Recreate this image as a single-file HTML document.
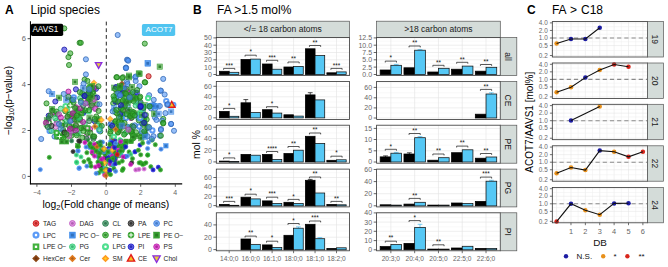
<!DOCTYPE html>
<html><head><meta charset="utf-8"><style>
html,body{margin:0;padding:0;background:#fff;}
svg{display:block;font-family:"Liberation Sans", sans-serif;}
</style></head><body>
<svg width="668" height="267" viewBox="0 0 668 267">
<rect width="668" height="267" fill="#fff"/>
<text x="5" y="13.8" font-size="12" text-anchor="start" fill="#000" font-weight="bold">A</text>
<text x="30.5" y="13.8" font-size="12" text-anchor="start" fill="#000" font-weight="normal">Lipid species</text>
<line x1="106.3" y1="21.6" x2="106.3" y2="184.1" stroke="#1a1a1a" stroke-width="0.95" stroke-dasharray="3.8 2.9"/>
<g>
<circle cx="72.05" cy="116.47" r="2.55" fill="#d66ad8" fill-opacity="0.58" stroke="#a04fa2" stroke-opacity="0.8" stroke-width="1.0"/>
<circle cx="72.87" cy="113.45" r="2.55" fill="#3ddc84" fill-opacity="0.58" stroke="#2da563" stroke-opacity="0.8" stroke-width="1.0"/>
<circle cx="55.45" cy="113.69" r="2.55" fill="#3ddc84" fill-opacity="0.58" stroke="#2da563" stroke-opacity="0.8" stroke-width="1.0"/>
<circle cx="93.16" cy="89.46" r="2.55" fill="#2ea828" fill-opacity="0.58" stroke="#227e1e" stroke-opacity="0.8" stroke-width="1.0"/>
<circle cx="49.62" cy="130.96" r="2.15" fill="#fff" fill-opacity="0.7" stroke="#4a90f5" stroke-opacity="0.9" stroke-width="2"/>
<circle cx="82.16" cy="93.13" r="2.55" fill="#2ea828" fill-opacity="0.58" stroke="#227e1e" stroke-opacity="0.8" stroke-width="1.0"/>
<circle cx="71.31" cy="132.86" r="2.55" fill="#2e8b57" fill-opacity="0.58" stroke="#226841" stroke-opacity="0.8" stroke-width="1.0"/>
<circle cx="83.7" cy="112.99" r="2.55" fill="#4a90f5" fill-opacity="0.58" stroke="#376cb7" stroke-opacity="0.8" stroke-width="1.0"/>
<rect x="70.35" y="98.13" width="4" height="4" fill="#fff" fill-opacity="0.7" stroke="#2ea828" stroke-opacity="0.9" stroke-width="1.9"/>
<circle cx="87.88" cy="102.29" r="2.55" fill="#2ea828" fill-opacity="0.58" stroke="#227e1e" stroke-opacity="0.8" stroke-width="1.0"/>
<circle cx="91.51" cy="107.22" r="2.55" fill="#d41fc0" fill-opacity="0.58" stroke="#9f1790" stroke-opacity="0.8" stroke-width="1.0"/>
<circle cx="57" cy="136.8" r="2.55" fill="#2e8b57" fill-opacity="0.58" stroke="#226841" stroke-opacity="0.8" stroke-width="1.0"/>
<circle cx="48.53" cy="120.51" r="2.55" fill="#d41fc0" fill-opacity="0.58" stroke="#9f1790" stroke-opacity="0.8" stroke-width="1.0"/>
<circle cx="91" cy="90.84" r="2.55" fill="#2ea828" fill-opacity="0.58" stroke="#227e1e" stroke-opacity="0.8" stroke-width="1.0"/>
<circle cx="93.42" cy="94.31" r="2.7" fill="#2ea828" fill-opacity="0.72" stroke="#248620" stroke-opacity="0.8" stroke-width="0.6"/><path d="M91.32 94.31h4.2M93.42 92.21v4.2" stroke="#fff" stroke-width="0.9"/>
<circle cx="89.38" cy="91.6" r="2.55" fill="#4a90f5" fill-opacity="0.58" stroke="#376cb7" stroke-opacity="0.8" stroke-width="1.0"/>
<circle cx="62.86" cy="135.32" r="2.55" fill="#2ea828" fill-opacity="0.58" stroke="#227e1e" stroke-opacity="0.8" stroke-width="1.0"/>
<circle cx="68.45" cy="133.55" r="2.55" fill="#4a90f5" fill-opacity="0.58" stroke="#376cb7" stroke-opacity="0.8" stroke-width="1.0"/>
<circle cx="91.91" cy="103.08" r="2.55" fill="#2ea828" fill-opacity="0.58" stroke="#227e1e" stroke-opacity="0.8" stroke-width="1.0"/>
<circle cx="80.13" cy="98.09" r="2.55" fill="#3ddc84" fill-opacity="0.58" stroke="#2da563" stroke-opacity="0.8" stroke-width="1.0"/>
<circle cx="67.05" cy="110.29" r="2.15" fill="#fff" fill-opacity="0.7" stroke="#3ddc84" stroke-opacity="0.9" stroke-width="2"/>
<circle cx="73.99" cy="117.33" r="2.55" fill="#d41fc0" fill-opacity="0.58" stroke="#9f1790" stroke-opacity="0.8" stroke-width="1.0"/>
<circle cx="100.32" cy="131.43" r="2.55" fill="#2ea828" fill-opacity="0.58" stroke="#227e1e" stroke-opacity="0.8" stroke-width="1.0"/>
<circle cx="55.77" cy="126.89" r="2.55" fill="#d66ad8" fill-opacity="0.58" stroke="#a04fa2" stroke-opacity="0.8" stroke-width="1.0"/>
<rect x="95.95" y="116.25" width="5.5" height="5.5" fill="#2e9a28" fill-opacity="0.6" stroke="#2e9a28" stroke-opacity="0.8" stroke-width="0.5"/><rect x="97.4" y="117.7" width="2.6" height="2.6" fill="#23781f" fill-opacity="0.85"/>
<circle cx="87.68" cy="98.9" r="2.55" fill="#d41fc0" fill-opacity="0.58" stroke="#9f1790" stroke-opacity="0.8" stroke-width="1.0"/>
<circle cx="80.98" cy="101.02" r="2.55" fill="#2ea828" fill-opacity="0.58" stroke="#227e1e" stroke-opacity="0.8" stroke-width="1.0"/>
<circle cx="88.66" cy="87.99" r="2.55" fill="#2ea828" fill-opacity="0.58" stroke="#227e1e" stroke-opacity="0.8" stroke-width="1.0"/>
<circle cx="78.68" cy="133.44" r="2.55" fill="#3ddc84" fill-opacity="0.58" stroke="#2da563" stroke-opacity="0.8" stroke-width="1.0"/>
<circle cx="61.37" cy="137.21" r="2.55" fill="#2ea828" fill-opacity="0.58" stroke="#227e1e" stroke-opacity="0.8" stroke-width="1.0"/>
<rect x="64.45" y="133.67" width="4" height="4" fill="#fff" fill-opacity="0.7" stroke="#2ea828" stroke-opacity="0.9" stroke-width="1.9"/>
<circle cx="84.73" cy="124.09" r="2.55" fill="#3ddc84" fill-opacity="0.58" stroke="#2da563" stroke-opacity="0.8" stroke-width="1.0"/>
<circle cx="87.46" cy="139.84" r="2.11" fill="#2ea828" fill-opacity="0.9" stroke="#2ea828" stroke-opacity="0.8" stroke-width="0.7"/><circle cx="87.46" cy="139.84" r="1.19" fill="#23831f" fill-opacity="0.85"/>
<circle cx="83.44" cy="111.97" r="2.55" fill="#2323dd" fill-opacity="0.58" stroke="#1a1aa5" stroke-opacity="0.8" stroke-width="1.0"/>
<circle cx="48.67" cy="115.67" r="2.55" fill="#2323dd" fill-opacity="0.58" stroke="#1a1aa5" stroke-opacity="0.8" stroke-width="1.0"/>
<circle cx="99.81" cy="126.75" r="2.15" fill="#fff" fill-opacity="0.7" stroke="#4a90f5" stroke-opacity="0.9" stroke-width="2"/>
<circle cx="93.18" cy="137.07" r="2.55" fill="#2ea828" fill-opacity="0.58" stroke="#227e1e" stroke-opacity="0.8" stroke-width="1.0"/>
<circle cx="86.48" cy="136.25" r="2.55" fill="#d66ad8" fill-opacity="0.58" stroke="#a04fa2" stroke-opacity="0.8" stroke-width="1.0"/>
<circle cx="69.86" cy="129.85" r="2.55" fill="#d41fc0" fill-opacity="0.58" stroke="#9f1790" stroke-opacity="0.8" stroke-width="1.0"/>
<rect x="76.76" y="117.5" width="5.5" height="5.5" fill="#2e9a28" fill-opacity="0.6" stroke="#2e9a28" stroke-opacity="0.8" stroke-width="0.5"/><rect x="78.21" y="118.95" width="2.6" height="2.6" fill="#23781f" fill-opacity="0.85"/>
<circle cx="80.13" cy="119.31" r="2.55" fill="#2ea828" fill-opacity="0.58" stroke="#227e1e" stroke-opacity="0.8" stroke-width="1.0"/>
<rect x="95.8" y="123.49" width="5.5" height="5.5" fill="#2e9a28" fill-opacity="0.6" stroke="#2e9a28" stroke-opacity="0.8" stroke-width="0.5"/><rect x="97.25" y="124.94" width="2.6" height="2.6" fill="#23781f" fill-opacity="0.85"/>
<rect x="86.82" y="114.95" width="5.5" height="5.5" fill="#2e9a28" fill-opacity="0.6" stroke="#2e9a28" stroke-opacity="0.8" stroke-width="0.5"/><rect x="88.27" y="116.4" width="2.6" height="2.6" fill="#23781f" fill-opacity="0.85"/>
<circle cx="95.98" cy="88.86" r="2.55" fill="#2323dd" fill-opacity="0.58" stroke="#1a1aa5" stroke-opacity="0.8" stroke-width="1.0"/>
<circle cx="73.82" cy="97.35" r="2.15" fill="#fff" fill-opacity="0.7" stroke="#4a90f5" stroke-opacity="0.9" stroke-width="2"/>
<circle cx="74.83" cy="119.64" r="2.55" fill="#d66ad8" fill-opacity="0.58" stroke="#a04fa2" stroke-opacity="0.8" stroke-width="1.0"/>
<circle cx="62.66" cy="123.33" r="2.55" fill="#2ea828" fill-opacity="0.58" stroke="#227e1e" stroke-opacity="0.8" stroke-width="1.0"/>
<circle cx="54.52" cy="136.53" r="2.55" fill="#4a90f5" fill-opacity="0.58" stroke="#376cb7" stroke-opacity="0.8" stroke-width="1.0"/>
<circle cx="71.4" cy="135.72" r="2.55" fill="#2ea828" fill-opacity="0.58" stroke="#227e1e" stroke-opacity="0.8" stroke-width="1.0"/>
<rect x="82.54" y="92.76" width="5.5" height="5.5" fill="#2e9a28" fill-opacity="0.6" stroke="#2e9a28" stroke-opacity="0.8" stroke-width="0.5"/><rect x="83.99" y="94.21" width="2.6" height="2.6" fill="#23781f" fill-opacity="0.85"/>
<circle cx="93.97" cy="137.02" r="2.55" fill="#d66ad8" fill-opacity="0.58" stroke="#a04fa2" stroke-opacity="0.8" stroke-width="1.0"/>
<circle cx="67.83" cy="117.82" r="2.55" fill="#2ea828" fill-opacity="0.58" stroke="#227e1e" stroke-opacity="0.8" stroke-width="1.0"/>
<circle cx="52.44" cy="112.8" r="2.55" fill="#d41fc0" fill-opacity="0.58" stroke="#9f1790" stroke-opacity="0.8" stroke-width="1.0"/>
<circle cx="96.62" cy="125.25" r="2.15" fill="#fff" fill-opacity="0.7" stroke="#3ddc84" stroke-opacity="0.9" stroke-width="2"/>
<circle cx="71.94" cy="99.96" r="2.55" fill="#2ea828" fill-opacity="0.58" stroke="#227e1e" stroke-opacity="0.8" stroke-width="1.0"/>
<circle cx="69.67" cy="120.29" r="2.55" fill="#2e8b57" fill-opacity="0.58" stroke="#226841" stroke-opacity="0.8" stroke-width="1.0"/>
<rect x="61.55" y="130.67" width="4" height="4" fill="#fff" fill-opacity="0.7" stroke="#2ea828" stroke-opacity="0.9" stroke-width="1.9"/>
<circle cx="46.57" cy="125.1" r="2.7" fill="#2ea828" fill-opacity="0.72" stroke="#248620" stroke-opacity="0.8" stroke-width="0.6"/><path d="M44.47 125.1h4.2M46.57 123v4.2" stroke="#fff" stroke-width="0.9"/>
<circle cx="63.16" cy="129.91" r="2.55" fill="#2ea828" fill-opacity="0.58" stroke="#227e1e" stroke-opacity="0.8" stroke-width="1.0"/>
<circle cx="52.42" cy="110.38" r="2.55" fill="#2ea828" fill-opacity="0.58" stroke="#227e1e" stroke-opacity="0.8" stroke-width="1.0"/>
<circle cx="95.44" cy="97.77" r="2.55" fill="#2ea828" fill-opacity="0.58" stroke="#227e1e" stroke-opacity="0.8" stroke-width="1.0"/>
<rect x="44.16" y="117.74" width="5.5" height="5.5" fill="#2e9a28" fill-opacity="0.6" stroke="#2e9a28" stroke-opacity="0.8" stroke-width="0.5"/><rect x="45.61" y="119.19" width="2.6" height="2.6" fill="#23781f" fill-opacity="0.85"/>
<circle cx="83.06" cy="121.99" r="2.55" fill="#d41fc0" fill-opacity="0.58" stroke="#9f1790" stroke-opacity="0.8" stroke-width="1.0"/>
<circle cx="56.36" cy="111.56" r="2.55" fill="#2ea828" fill-opacity="0.58" stroke="#227e1e" stroke-opacity="0.8" stroke-width="1.0"/>
<circle cx="88.28" cy="94.39" r="2.55" fill="#2ea828" fill-opacity="0.58" stroke="#227e1e" stroke-opacity="0.8" stroke-width="1.0"/>
<circle cx="65.44" cy="124.44" r="2.55" fill="#2e8b57" fill-opacity="0.58" stroke="#226841" stroke-opacity="0.8" stroke-width="1.0"/>
<rect x="79.35" y="125.11" width="5.5" height="5.5" fill="#2e9a28" fill-opacity="0.6" stroke="#2e9a28" stroke-opacity="0.8" stroke-width="0.5"/><rect x="80.8" y="126.56" width="2.6" height="2.6" fill="#23781f" fill-opacity="0.85"/>
<circle cx="93.1" cy="136.56" r="2.55" fill="#2ea828" fill-opacity="0.58" stroke="#227e1e" stroke-opacity="0.8" stroke-width="1.0"/>
<circle cx="101.82" cy="125.9" r="2.55" fill="#2ea828" fill-opacity="0.58" stroke="#227e1e" stroke-opacity="0.8" stroke-width="1.0"/>
<circle cx="72.12" cy="120.28" r="2.55" fill="#d66ad8" fill-opacity="0.58" stroke="#a04fa2" stroke-opacity="0.8" stroke-width="1.0"/>
<circle cx="67.36" cy="116.99" r="2.55" fill="#d66ad8" fill-opacity="0.58" stroke="#a04fa2" stroke-opacity="0.8" stroke-width="1.0"/>
<circle cx="93.4" cy="138.77" r="2.55" fill="#2e8b57" fill-opacity="0.58" stroke="#226841" stroke-opacity="0.8" stroke-width="1.0"/>
<circle cx="84.38" cy="95.88" r="2.55" fill="#2323dd" fill-opacity="0.58" stroke="#1a1aa5" stroke-opacity="0.8" stroke-width="1.0"/>
<circle cx="94.74" cy="121.21" r="2.55" fill="#2323dd" fill-opacity="0.58" stroke="#1a1aa5" stroke-opacity="0.8" stroke-width="1.0"/>
<rect x="55.22" y="134.2" width="4" height="4" fill="#fff" fill-opacity="0.7" stroke="#2ea828" stroke-opacity="0.9" stroke-width="1.9"/>
<circle cx="93.03" cy="102.58" r="2.55" fill="#d66ad8" fill-opacity="0.58" stroke="#a04fa2" stroke-opacity="0.8" stroke-width="1.0"/>
<circle cx="97.06" cy="104.21" r="2.55" fill="#2ea828" fill-opacity="0.58" stroke="#227e1e" stroke-opacity="0.8" stroke-width="1.0"/>
<circle cx="71.34" cy="115.92" r="2.55" fill="#d41fc0" fill-opacity="0.58" stroke="#9f1790" stroke-opacity="0.8" stroke-width="1.0"/>
<circle cx="94.17" cy="87.72" r="2.55" fill="#d41fc0" fill-opacity="0.58" stroke="#9f1790" stroke-opacity="0.8" stroke-width="1.0"/>
<circle cx="92.85" cy="92.15" r="2.55" fill="#2ea828" fill-opacity="0.58" stroke="#227e1e" stroke-opacity="0.8" stroke-width="1.0"/>
<circle cx="76.02" cy="125.97" r="2.55" fill="#d41fc0" fill-opacity="0.58" stroke="#9f1790" stroke-opacity="0.8" stroke-width="1.0"/>
<circle cx="86.74" cy="138.85" r="2.55" fill="#2e8b57" fill-opacity="0.58" stroke="#226841" stroke-opacity="0.8" stroke-width="1.0"/>
<circle cx="57.73" cy="114.55" r="2.55" fill="#2ea828" fill-opacity="0.58" stroke="#227e1e" stroke-opacity="0.8" stroke-width="1.0"/>
<circle cx="89.19" cy="121.05" r="2.55" fill="#2e8b57" fill-opacity="0.58" stroke="#226841" stroke-opacity="0.8" stroke-width="1.0"/>
<circle cx="96.3" cy="116.48" r="2.55" fill="#2ea828" fill-opacity="0.58" stroke="#227e1e" stroke-opacity="0.8" stroke-width="1.0"/>
<circle cx="67.64" cy="133.03" r="2.55" fill="#d66ad8" fill-opacity="0.58" stroke="#a04fa2" stroke-opacity="0.8" stroke-width="1.0"/>
<circle cx="56.91" cy="133.34" r="2.15" fill="#fff" fill-opacity="0.7" stroke="#3ddc84" stroke-opacity="0.9" stroke-width="2"/>
<circle cx="76.5" cy="117.23" r="2.55" fill="#2ea828" fill-opacity="0.58" stroke="#227e1e" stroke-opacity="0.8" stroke-width="1.0"/>
<circle cx="77.23" cy="113.18" r="2.55" fill="#3ddc84" fill-opacity="0.58" stroke="#2da563" stroke-opacity="0.8" stroke-width="1.0"/>
<circle cx="75.99" cy="107.23" r="2.55" fill="#d41fc0" fill-opacity="0.58" stroke="#9f1790" stroke-opacity="0.8" stroke-width="1.0"/>
<circle cx="78.9" cy="112.48" r="2.15" fill="#fff" fill-opacity="0.7" stroke="#4a90f5" stroke-opacity="0.9" stroke-width="2"/>
<circle cx="70.89" cy="131.31" r="2.55" fill="#d66ad8" fill-opacity="0.58" stroke="#a04fa2" stroke-opacity="0.8" stroke-width="1.0"/>
<circle cx="73.55" cy="102.4" r="2.55" fill="#2ea828" fill-opacity="0.58" stroke="#227e1e" stroke-opacity="0.8" stroke-width="1.0"/>
<circle cx="82.31" cy="137.67" r="2.55" fill="#2ea828" fill-opacity="0.58" stroke="#227e1e" stroke-opacity="0.8" stroke-width="1.0"/>
<circle cx="86.6" cy="102.68" r="2.55" fill="#2ea828" fill-opacity="0.58" stroke="#227e1e" stroke-opacity="0.8" stroke-width="1.0"/>
<circle cx="89.32" cy="91.12" r="2.55" fill="#2e8b57" fill-opacity="0.58" stroke="#226841" stroke-opacity="0.8" stroke-width="1.0"/>
<rect x="74.13" y="106.58" width="5.5" height="5.5" fill="#2e9a28" fill-opacity="0.6" stroke="#2e9a28" stroke-opacity="0.8" stroke-width="0.5"/><rect x="75.58" y="108.03" width="2.6" height="2.6" fill="#23781f" fill-opacity="0.85"/>
<circle cx="69.63" cy="114.7" r="2.55" fill="#2ea828" fill-opacity="0.58" stroke="#227e1e" stroke-opacity="0.8" stroke-width="1.0"/>
<circle cx="56.66" cy="120.62" r="2.55" fill="#3ddc84" fill-opacity="0.58" stroke="#2da563" stroke-opacity="0.8" stroke-width="1.0"/>
<circle cx="76.84" cy="133.37" r="2.55" fill="#3ddc84" fill-opacity="0.58" stroke="#2da563" stroke-opacity="0.8" stroke-width="1.0"/>
<circle cx="97.12" cy="97.49" r="2.55" fill="#2323dd" fill-opacity="0.58" stroke="#1a1aa5" stroke-opacity="0.8" stroke-width="1.0"/>
<circle cx="94.25" cy="136.36" r="2.55" fill="#2ea828" fill-opacity="0.58" stroke="#227e1e" stroke-opacity="0.8" stroke-width="1.0"/>
<circle cx="63.53" cy="137.52" r="2.55" fill="#2ea828" fill-opacity="0.58" stroke="#227e1e" stroke-opacity="0.8" stroke-width="1.0"/>
<circle cx="89.05" cy="99.05" r="2.55" fill="#2ea828" fill-opacity="0.58" stroke="#227e1e" stroke-opacity="0.8" stroke-width="1.0"/>
<circle cx="95.59" cy="108.45" r="2.55" fill="#d41fc0" fill-opacity="0.58" stroke="#9f1790" stroke-opacity="0.8" stroke-width="1.0"/>
<circle cx="56.46" cy="123.58" r="2.55" fill="#d66ad8" fill-opacity="0.58" stroke="#a04fa2" stroke-opacity="0.8" stroke-width="1.0"/>
<circle cx="75.35" cy="127.97" r="2.55" fill="#2e8b57" fill-opacity="0.58" stroke="#226841" stroke-opacity="0.8" stroke-width="1.0"/>
<circle cx="86.51" cy="94.96" r="2.55" fill="#2ea828" fill-opacity="0.58" stroke="#227e1e" stroke-opacity="0.8" stroke-width="1.0"/>
<circle cx="78.2" cy="113.86" r="2.7" fill="#2ea828" fill-opacity="0.72" stroke="#248620" stroke-opacity="0.8" stroke-width="0.6"/><path d="M76.1 113.86h4.2M78.2 111.76v4.2" stroke="#fff" stroke-width="0.9"/>
<rect x="54.64" y="130.73" width="4" height="4" fill="#fff" fill-opacity="0.7" stroke="#2ea828" stroke-opacity="0.9" stroke-width="1.9"/>
<circle cx="72.65" cy="128.35" r="2.55" fill="#2ea828" fill-opacity="0.58" stroke="#227e1e" stroke-opacity="0.8" stroke-width="1.0"/>
<rect x="70.2" y="111.14" width="5.5" height="5.5" fill="#2e9a28" fill-opacity="0.6" stroke="#2e9a28" stroke-opacity="0.8" stroke-width="0.5"/><rect x="71.65" y="112.59" width="2.6" height="2.6" fill="#23781f" fill-opacity="0.85"/>
<circle cx="87.46" cy="132.97" r="2.55" fill="#2ea828" fill-opacity="0.58" stroke="#227e1e" stroke-opacity="0.8" stroke-width="1.0"/>
<rect x="69.39" y="124.13" width="5.5" height="5.5" fill="#2e9a28" fill-opacity="0.6" stroke="#2e9a28" stroke-opacity="0.8" stroke-width="0.5"/><rect x="70.84" y="125.58" width="2.6" height="2.6" fill="#23781f" fill-opacity="0.85"/>
<circle cx="99.38" cy="130.5" r="2.15" fill="#fff" fill-opacity="0.7" stroke="#4a90f5" stroke-opacity="0.9" stroke-width="2"/>
<rect x="94.62" y="117.75" width="5.5" height="5.5" fill="#2e9a28" fill-opacity="0.6" stroke="#2e9a28" stroke-opacity="0.8" stroke-width="0.5"/><rect x="96.07" y="119.2" width="2.6" height="2.6" fill="#23781f" fill-opacity="0.85"/>
<rect x="79.18" y="111.25" width="4" height="4" fill="#fff" fill-opacity="0.7" stroke="#2ea828" stroke-opacity="0.9" stroke-width="1.9"/>
<circle cx="93.9" cy="98.98" r="2.55" fill="#d66ad8" fill-opacity="0.58" stroke="#a04fa2" stroke-opacity="0.8" stroke-width="1.0"/>
<circle cx="90.15" cy="129.12" r="2.55" fill="#d41fc0" fill-opacity="0.58" stroke="#9f1790" stroke-opacity="0.8" stroke-width="1.0"/>
<circle cx="69.15" cy="136" r="2.55" fill="#d66ad8" fill-opacity="0.58" stroke="#a04fa2" stroke-opacity="0.8" stroke-width="1.0"/>
<circle cx="87.08" cy="128.5" r="2.55" fill="#d41fc0" fill-opacity="0.58" stroke="#9f1790" stroke-opacity="0.8" stroke-width="1.0"/>
<circle cx="69.16" cy="125.91" r="2.55" fill="#2ea828" fill-opacity="0.58" stroke="#227e1e" stroke-opacity="0.8" stroke-width="1.0"/>
<circle cx="65.19" cy="111.19" r="2.55" fill="#2ea828" fill-opacity="0.58" stroke="#227e1e" stroke-opacity="0.8" stroke-width="1.0"/>
<circle cx="66.05" cy="121.05" r="2.55" fill="#3ddc84" fill-opacity="0.58" stroke="#2da563" stroke-opacity="0.8" stroke-width="1.0"/>
<circle cx="85.3" cy="103.59" r="2.55" fill="#4a90f5" fill-opacity="0.58" stroke="#376cb7" stroke-opacity="0.8" stroke-width="1.0"/>
<rect x="76.56" y="112.17" width="5.5" height="5.5" fill="#2e9a28" fill-opacity="0.6" stroke="#2e9a28" stroke-opacity="0.8" stroke-width="0.5"/><rect x="78.01" y="113.62" width="2.6" height="2.6" fill="#23781f" fill-opacity="0.85"/>
<rect x="85.48" y="126.18" width="4" height="4" fill="#fff" fill-opacity="0.7" stroke="#2ea828" stroke-opacity="0.9" stroke-width="1.9"/>
<rect x="87.06" y="96.13" width="5.5" height="5.5" fill="#2e9a28" fill-opacity="0.6" stroke="#2e9a28" stroke-opacity="0.8" stroke-width="0.5"/><rect x="88.51" y="97.58" width="2.6" height="2.6" fill="#23781f" fill-opacity="0.85"/>
<circle cx="59.56" cy="136.53" r="2.7" fill="#2ea828" fill-opacity="0.72" stroke="#248620" stroke-opacity="0.8" stroke-width="0.6"/><path d="M57.46 136.53h4.2M59.56 134.43v4.2" stroke="#fff" stroke-width="0.9"/>
<circle cx="83.56" cy="130.95" r="2.55" fill="#2ea828" fill-opacity="0.58" stroke="#227e1e" stroke-opacity="0.8" stroke-width="1.0"/>
<circle cx="81.05" cy="128.04" r="2.55" fill="#2ea828" fill-opacity="0.58" stroke="#227e1e" stroke-opacity="0.8" stroke-width="1.0"/>
<circle cx="74.72" cy="119.45" r="2.55" fill="#2ea828" fill-opacity="0.58" stroke="#227e1e" stroke-opacity="0.8" stroke-width="1.0"/>
<rect x="73.91" y="115.92" width="5.5" height="5.5" fill="#2e9a28" fill-opacity="0.6" stroke="#2e9a28" stroke-opacity="0.8" stroke-width="0.5"/><rect x="75.36" y="117.37" width="2.6" height="2.6" fill="#23781f" fill-opacity="0.85"/>
<circle cx="61.72" cy="122" r="2.7" fill="#2ea828" fill-opacity="0.72" stroke="#248620" stroke-opacity="0.8" stroke-width="0.6"/><path d="M59.62 122h4.2M61.72 119.9v4.2" stroke="#fff" stroke-width="0.9"/>
<circle cx="61.58" cy="125.56" r="2.55" fill="#2ea828" fill-opacity="0.58" stroke="#227e1e" stroke-opacity="0.8" stroke-width="1.0"/>
<circle cx="90.79" cy="106.62" r="2.55" fill="#d66ad8" fill-opacity="0.58" stroke="#a04fa2" stroke-opacity="0.8" stroke-width="1.0"/>
<rect x="88.4" y="84.91" width="4" height="4" fill="#fff" fill-opacity="0.7" stroke="#2ea828" stroke-opacity="0.9" stroke-width="1.9"/>
<circle cx="59.11" cy="114.35" r="2.55" fill="#d66ad8" fill-opacity="0.58" stroke="#a04fa2" stroke-opacity="0.8" stroke-width="1.0"/>
<circle cx="88.81" cy="111.16" r="2.15" fill="#fff" fill-opacity="0.7" stroke="#3ddc84" stroke-opacity="0.9" stroke-width="2"/>
<circle cx="94.64" cy="119.01" r="2.55" fill="#2ea828" fill-opacity="0.58" stroke="#227e1e" stroke-opacity="0.8" stroke-width="1.0"/>
<circle cx="82.7" cy="110.43" r="2.55" fill="#2ea828" fill-opacity="0.58" stroke="#227e1e" stroke-opacity="0.8" stroke-width="1.0"/>
<circle cx="85.41" cy="110.42" r="2.55" fill="#2ea828" fill-opacity="0.58" stroke="#227e1e" stroke-opacity="0.8" stroke-width="1.0"/>
<circle cx="80.1" cy="108.33" r="2.55" fill="#d41fc0" fill-opacity="0.58" stroke="#9f1790" stroke-opacity="0.8" stroke-width="1.0"/>
<circle cx="99.35" cy="129.49" r="2.55" fill="#3ddc84" fill-opacity="0.58" stroke="#2da563" stroke-opacity="0.8" stroke-width="1.0"/>
<rect x="63.52" y="97" width="5.5" height="5.5" fill="#3d8bea" fill-opacity="0.6" stroke="#3d8bea" stroke-opacity="0.8" stroke-width="0.5"/><rect x="64.97" y="98.45" width="2.6" height="2.6" fill="#2f6cb6" fill-opacity="0.85"/>
<circle cx="79.02" cy="118.32" r="2.55" fill="#3ddc84" fill-opacity="0.58" stroke="#2da563" stroke-opacity="0.8" stroke-width="1.0"/>
<circle cx="90.71" cy="95.01" r="2.55" fill="#2ea828" fill-opacity="0.58" stroke="#227e1e" stroke-opacity="0.8" stroke-width="1.0"/>
<circle cx="98.48" cy="86.29" r="2.55" fill="#2ea828" fill-opacity="0.58" stroke="#227e1e" stroke-opacity="0.8" stroke-width="1.0"/>
<circle cx="60.8" cy="108.66" r="2.55" fill="#3ddc84" fill-opacity="0.58" stroke="#2da563" stroke-opacity="0.8" stroke-width="1.0"/>
<circle cx="50.35" cy="115.42" r="2.55" fill="#2ea828" fill-opacity="0.58" stroke="#227e1e" stroke-opacity="0.8" stroke-width="1.0"/>
<circle cx="49.36" cy="123.22" r="2.7" fill="#2ea828" fill-opacity="0.72" stroke="#248620" stroke-opacity="0.8" stroke-width="0.6"/><path d="M47.26 123.22h4.2M49.36 121.12v4.2" stroke="#fff" stroke-width="0.9"/>
<circle cx="83.13" cy="105.64" r="2.55" fill="#2e8b57" fill-opacity="0.58" stroke="#226841" stroke-opacity="0.8" stroke-width="1.0"/>
<circle cx="90.18" cy="132.64" r="2.55" fill="#2ea828" fill-opacity="0.58" stroke="#227e1e" stroke-opacity="0.8" stroke-width="1.0"/>
<circle cx="51.43" cy="130.93" r="2.55" fill="#3ddc84" fill-opacity="0.58" stroke="#2da563" stroke-opacity="0.8" stroke-width="1.0"/>
<rect x="88.91" y="93.61" width="5.5" height="5.5" fill="#2e9a28" fill-opacity="0.6" stroke="#2e9a28" stroke-opacity="0.8" stroke-width="0.5"/><rect x="90.36" y="95.06" width="2.6" height="2.6" fill="#23781f" fill-opacity="0.85"/>
<circle cx="117.87" cy="132.59" r="2.55" fill="#2ea828" fill-opacity="0.58" stroke="#227e1e" stroke-opacity="0.8" stroke-width="1.0"/>
<circle cx="120.97" cy="116.92" r="2.55" fill="#4a90f5" fill-opacity="0.58" stroke="#376cb7" stroke-opacity="0.8" stroke-width="1.0"/>
<circle cx="122.99" cy="89.82" r="2.15" fill="#fff" fill-opacity="0.7" stroke="#4a90f5" stroke-opacity="0.9" stroke-width="2"/>
<circle cx="131.95" cy="113.09" r="2.55" fill="#4a90f5" fill-opacity="0.58" stroke="#376cb7" stroke-opacity="0.8" stroke-width="1.0"/>
<circle cx="119.75" cy="130.53" r="2.55" fill="#2ea828" fill-opacity="0.58" stroke="#227e1e" stroke-opacity="0.8" stroke-width="1.0"/>
<circle cx="115.81" cy="123.73" r="2.55" fill="#2ea828" fill-opacity="0.58" stroke="#227e1e" stroke-opacity="0.8" stroke-width="1.0"/>
<circle cx="119.98" cy="127.5" r="2.55" fill="#4a90f5" fill-opacity="0.58" stroke="#376cb7" stroke-opacity="0.8" stroke-width="1.0"/>
<circle cx="119.01" cy="92.58" r="2.55" fill="#2ea828" fill-opacity="0.58" stroke="#227e1e" stroke-opacity="0.8" stroke-width="1.0"/>
<circle cx="139.39" cy="105.98" r="2.55" fill="#2ea828" fill-opacity="0.58" stroke="#227e1e" stroke-opacity="0.8" stroke-width="1.0"/>
<circle cx="138.63" cy="118.16" r="2.15" fill="#fff" fill-opacity="0.7" stroke="#4a90f5" stroke-opacity="0.9" stroke-width="2"/>
<circle cx="126.15" cy="132.18" r="2.55" fill="#2ea828" fill-opacity="0.58" stroke="#227e1e" stroke-opacity="0.8" stroke-width="1.0"/>
<circle cx="120.61" cy="107.98" r="2.55" fill="#2323dd" fill-opacity="0.58" stroke="#1a1aa5" stroke-opacity="0.8" stroke-width="1.0"/>
<circle cx="122.64" cy="105.93" r="2.55" fill="#2ea828" fill-opacity="0.58" stroke="#227e1e" stroke-opacity="0.8" stroke-width="1.0"/>
<circle cx="124.2" cy="107.25" r="2.55" fill="#2ea828" fill-opacity="0.58" stroke="#227e1e" stroke-opacity="0.8" stroke-width="1.0"/>
<rect x="129.19" y="129.07" width="5.5" height="5.5" fill="#2e9a28" fill-opacity="0.6" stroke="#2e9a28" stroke-opacity="0.8" stroke-width="0.5"/><rect x="130.64" y="130.52" width="2.6" height="2.6" fill="#23781f" fill-opacity="0.85"/>
<circle cx="144.47" cy="117.77" r="2.55" fill="#2ea828" fill-opacity="0.58" stroke="#227e1e" stroke-opacity="0.8" stroke-width="1.0"/>
<circle cx="140.91" cy="136.85" r="2.55" fill="#2ea828" fill-opacity="0.58" stroke="#227e1e" stroke-opacity="0.8" stroke-width="1.0"/>
<circle cx="131.03" cy="118.05" r="2.55" fill="#d41fc0" fill-opacity="0.58" stroke="#9f1790" stroke-opacity="0.8" stroke-width="1.0"/>
<circle cx="135.96" cy="132.26" r="2.55" fill="#2ea828" fill-opacity="0.58" stroke="#227e1e" stroke-opacity="0.8" stroke-width="1.0"/>
<circle cx="131.15" cy="131.28" r="2.55" fill="#2ea828" fill-opacity="0.58" stroke="#227e1e" stroke-opacity="0.8" stroke-width="1.0"/>
<circle cx="135.17" cy="92.63" r="2.55" fill="#4a90f5" fill-opacity="0.58" stroke="#376cb7" stroke-opacity="0.8" stroke-width="1.0"/>
<circle cx="135.85" cy="98.73" r="2.55" fill="#2ea828" fill-opacity="0.58" stroke="#227e1e" stroke-opacity="0.8" stroke-width="1.0"/>
<circle cx="141.21" cy="115.29" r="2.55" fill="#4a90f5" fill-opacity="0.58" stroke="#376cb7" stroke-opacity="0.8" stroke-width="1.0"/>
<circle cx="124.14" cy="104.27" r="2.55" fill="#d41fc0" fill-opacity="0.58" stroke="#9f1790" stroke-opacity="0.8" stroke-width="1.0"/>
<rect x="134.18" y="110.87" width="5.5" height="5.5" fill="#2e9a28" fill-opacity="0.6" stroke="#2e9a28" stroke-opacity="0.8" stroke-width="0.5"/><rect x="135.63" y="112.32" width="2.6" height="2.6" fill="#23781f" fill-opacity="0.85"/>
<circle cx="139.16" cy="126.49" r="2.15" fill="#fff" fill-opacity="0.7" stroke="#4a90f5" stroke-opacity="0.9" stroke-width="2"/>
<circle cx="124.89" cy="133.57" r="2.55" fill="#3ddc84" fill-opacity="0.58" stroke="#2da563" stroke-opacity="0.8" stroke-width="1.0"/>
<rect x="142.51" y="129.6" width="5.5" height="5.5" fill="#3d8bea" fill-opacity="0.6" stroke="#3d8bea" stroke-opacity="0.8" stroke-width="0.5"/><rect x="143.96" y="131.05" width="2.6" height="2.6" fill="#2f6cb6" fill-opacity="0.85"/>
<circle cx="135.45" cy="115.43" r="2.55" fill="#4a90f5" fill-opacity="0.58" stroke="#376cb7" stroke-opacity="0.8" stroke-width="1.0"/>
<rect x="140.15" y="106.55" width="5.5" height="5.5" fill="#2e9a28" fill-opacity="0.6" stroke="#2e9a28" stroke-opacity="0.8" stroke-width="0.5"/><rect x="141.6" y="108" width="2.6" height="2.6" fill="#23781f" fill-opacity="0.85"/>
<circle cx="112.72" cy="128.47" r="2.15" fill="#fff" fill-opacity="0.7" stroke="#3ddc84" stroke-opacity="0.9" stroke-width="2"/>
<circle cx="123.27" cy="94.06" r="2.55" fill="#2ea828" fill-opacity="0.58" stroke="#227e1e" stroke-opacity="0.8" stroke-width="1.0"/>
<circle cx="125.55" cy="101.52" r="2.55" fill="#d41fc0" fill-opacity="0.58" stroke="#9f1790" stroke-opacity="0.8" stroke-width="1.0"/>
<circle cx="111.28" cy="122.88" r="2.55" fill="#4a90f5" fill-opacity="0.58" stroke="#376cb7" stroke-opacity="0.8" stroke-width="1.0"/>
<rect x="111.5" y="84.99" width="5.5" height="5.5" fill="#2e9a28" fill-opacity="0.6" stroke="#2e9a28" stroke-opacity="0.8" stroke-width="0.5"/><rect x="112.95" y="86.44" width="2.6" height="2.6" fill="#23781f" fill-opacity="0.85"/>
<circle cx="132.87" cy="138.56" r="2.55" fill="#2ea828" fill-opacity="0.58" stroke="#227e1e" stroke-opacity="0.8" stroke-width="1.0"/>
<circle cx="116" cy="98.12" r="2.55" fill="#4a90f5" fill-opacity="0.58" stroke="#376cb7" stroke-opacity="0.8" stroke-width="1.0"/>
<circle cx="133.36" cy="97.44" r="2.55" fill="#2ea828" fill-opacity="0.58" stroke="#227e1e" stroke-opacity="0.8" stroke-width="1.0"/>
<circle cx="118.93" cy="94.35" r="2.55" fill="#4a90f5" fill-opacity="0.58" stroke="#376cb7" stroke-opacity="0.8" stroke-width="1.0"/>
<circle cx="120.34" cy="116.89" r="2.55" fill="#4a90f5" fill-opacity="0.58" stroke="#376cb7" stroke-opacity="0.8" stroke-width="1.0"/>
<circle cx="128.06" cy="99.63" r="2.15" fill="#fff" fill-opacity="0.7" stroke="#4a90f5" stroke-opacity="0.9" stroke-width="2"/>
<rect x="128.92" y="139.17" width="4.51" height="4.51" fill="#2e9a28" fill-opacity="0.94" stroke="#2e9a28" stroke-opacity="0.8" stroke-width="0.5"/><rect x="130.11" y="140.36" width="2.13" height="2.13" fill="#23781f" fill-opacity="0.85"/>
<circle cx="116.17" cy="86.98" r="2.55" fill="#2323dd" fill-opacity="0.58" stroke="#1a1aa5" stroke-opacity="0.8" stroke-width="1.0"/>
<rect x="140.12" y="104.35" width="5.5" height="5.5" fill="#2e9a28" fill-opacity="0.6" stroke="#2e9a28" stroke-opacity="0.8" stroke-width="0.5"/><rect x="141.57" y="105.8" width="2.6" height="2.6" fill="#23781f" fill-opacity="0.85"/>
<circle cx="129.73" cy="100.47" r="2.15" fill="#fff" fill-opacity="0.7" stroke="#3ddc84" stroke-opacity="0.9" stroke-width="2"/>
<circle cx="136.25" cy="98.26" r="2.55" fill="#2ea828" fill-opacity="0.58" stroke="#227e1e" stroke-opacity="0.8" stroke-width="1.0"/>
<circle cx="127.74" cy="106.29" r="2.55" fill="#4a90f5" fill-opacity="0.58" stroke="#376cb7" stroke-opacity="0.8" stroke-width="1.0"/>
<circle cx="138.81" cy="120.36" r="2.55" fill="#2ea828" fill-opacity="0.58" stroke="#227e1e" stroke-opacity="0.8" stroke-width="1.0"/>
<circle cx="113.22" cy="103.31" r="2.55" fill="#2ea828" fill-opacity="0.58" stroke="#227e1e" stroke-opacity="0.8" stroke-width="1.0"/>
<circle cx="145.99" cy="114.97" r="2.7" fill="#2ea828" fill-opacity="0.72" stroke="#248620" stroke-opacity="0.8" stroke-width="0.6"/><path d="M143.89 114.97h4.2M145.99 112.87v4.2" stroke="#fff" stroke-width="0.9"/>
<circle cx="130.59" cy="93.04" r="2.55" fill="#4a90f5" fill-opacity="0.58" stroke="#376cb7" stroke-opacity="0.8" stroke-width="1.0"/>
<circle cx="144.92" cy="133.33" r="2.55" fill="#2ea828" fill-opacity="0.58" stroke="#227e1e" stroke-opacity="0.8" stroke-width="1.0"/>
<circle cx="118.42" cy="126.99" r="2.55" fill="#2ea828" fill-opacity="0.58" stroke="#227e1e" stroke-opacity="0.8" stroke-width="1.0"/>
<circle cx="128.08" cy="112.12" r="2.55" fill="#2323dd" fill-opacity="0.58" stroke="#1a1aa5" stroke-opacity="0.8" stroke-width="1.0"/>
<circle cx="132.99" cy="135.44" r="2.55" fill="#2ea828" fill-opacity="0.58" stroke="#227e1e" stroke-opacity="0.8" stroke-width="1.0"/>
<circle cx="142.31" cy="109.02" r="2.15" fill="#fff" fill-opacity="0.7" stroke="#4a90f5" stroke-opacity="0.9" stroke-width="2"/>
<circle cx="110.18" cy="133.58" r="2.55" fill="#2ea828" fill-opacity="0.58" stroke="#227e1e" stroke-opacity="0.8" stroke-width="1.0"/>
<circle cx="131" cy="115.54" r="2.55" fill="#2ea828" fill-opacity="0.58" stroke="#227e1e" stroke-opacity="0.8" stroke-width="1.0"/>
<circle cx="120.29" cy="88.56" r="2.55" fill="#2ea828" fill-opacity="0.58" stroke="#227e1e" stroke-opacity="0.8" stroke-width="1.0"/>
<circle cx="127.49" cy="126.91" r="2.55" fill="#2ea828" fill-opacity="0.58" stroke="#227e1e" stroke-opacity="0.8" stroke-width="1.0"/>
<circle cx="124.13" cy="111.71" r="2.55" fill="#d41fc0" fill-opacity="0.58" stroke="#9f1790" stroke-opacity="0.8" stroke-width="1.0"/>
<circle cx="144.17" cy="123.24" r="2.55" fill="#2ea828" fill-opacity="0.58" stroke="#227e1e" stroke-opacity="0.8" stroke-width="1.0"/>
<circle cx="123.35" cy="126.6" r="2.55" fill="#2ea828" fill-opacity="0.58" stroke="#227e1e" stroke-opacity="0.8" stroke-width="1.0"/>
<circle cx="131.95" cy="111.49" r="2.55" fill="#2ea828" fill-opacity="0.58" stroke="#227e1e" stroke-opacity="0.8" stroke-width="1.0"/>
<circle cx="115.51" cy="120.96" r="2.55" fill="#2ea828" fill-opacity="0.58" stroke="#227e1e" stroke-opacity="0.8" stroke-width="1.0"/>
<circle cx="123.3" cy="116.39" r="2.55" fill="#2ea828" fill-opacity="0.58" stroke="#227e1e" stroke-opacity="0.8" stroke-width="1.0"/>
<circle cx="121.52" cy="107.53" r="2.55" fill="#3ddc84" fill-opacity="0.58" stroke="#2da563" stroke-opacity="0.8" stroke-width="1.0"/>
<circle cx="117.8" cy="96" r="2.55" fill="#4a90f5" fill-opacity="0.58" stroke="#376cb7" stroke-opacity="0.8" stroke-width="1.0"/>
<circle cx="121.15" cy="140.7" r="2.11" fill="#2e8b57" fill-opacity="0.9" stroke="#2e8b57" stroke-opacity="0.8" stroke-width="0.7"/><circle cx="121.15" cy="140.7" r="1.19" fill="#236c43" fill-opacity="0.85"/>
<rect x="136.54" y="101.15" width="5.5" height="5.5" fill="#3d8bea" fill-opacity="0.6" stroke="#3d8bea" stroke-opacity="0.8" stroke-width="0.5"/><rect x="137.99" y="102.6" width="2.6" height="2.6" fill="#2f6cb6" fill-opacity="0.85"/>
<circle cx="110.34" cy="124.66" r="2.55" fill="#4a90f5" fill-opacity="0.58" stroke="#376cb7" stroke-opacity="0.8" stroke-width="1.0"/>
<rect x="111.52" y="105.39" width="5.5" height="5.5" fill="#3d8bea" fill-opacity="0.6" stroke="#3d8bea" stroke-opacity="0.8" stroke-width="0.5"/><rect x="112.97" y="106.84" width="2.6" height="2.6" fill="#2f6cb6" fill-opacity="0.85"/>
<circle cx="116.42" cy="93.43" r="2.55" fill="#2ea828" fill-opacity="0.58" stroke="#227e1e" stroke-opacity="0.8" stroke-width="1.0"/>
<circle cx="124.71" cy="88.36" r="2.55" fill="#2323dd" fill-opacity="0.58" stroke="#1a1aa5" stroke-opacity="0.8" stroke-width="1.0"/>
<circle cx="125.64" cy="114.69" r="2.7" fill="#2ea828" fill-opacity="0.72" stroke="#248620" stroke-opacity="0.8" stroke-width="0.6"/><path d="M123.54 114.69h4.2M125.64 112.59v4.2" stroke="#fff" stroke-width="0.9"/>
<circle cx="141.28" cy="133.27" r="2.55" fill="#2ea828" fill-opacity="0.58" stroke="#227e1e" stroke-opacity="0.8" stroke-width="1.0"/>
<circle cx="121.24" cy="108.73" r="2.55" fill="#2ea828" fill-opacity="0.58" stroke="#227e1e" stroke-opacity="0.8" stroke-width="1.0"/>
<circle cx="124.43" cy="125.99" r="2.55" fill="#d66ad8" fill-opacity="0.58" stroke="#a04fa2" stroke-opacity="0.8" stroke-width="1.0"/>
<circle cx="142.32" cy="123.61" r="2.55" fill="#2e8b57" fill-opacity="0.58" stroke="#226841" stroke-opacity="0.8" stroke-width="1.0"/>
<circle cx="121.74" cy="123.04" r="2.55" fill="#2ea828" fill-opacity="0.58" stroke="#227e1e" stroke-opacity="0.8" stroke-width="1.0"/>
<circle cx="123.37" cy="114.56" r="2.55" fill="#4a90f5" fill-opacity="0.58" stroke="#376cb7" stroke-opacity="0.8" stroke-width="1.0"/>
<circle cx="143.96" cy="120.69" r="2.55" fill="#2ea828" fill-opacity="0.58" stroke="#227e1e" stroke-opacity="0.8" stroke-width="1.0"/>
<rect x="138.51" y="135.43" width="5.5" height="5.5" fill="#2e9a28" fill-opacity="0.6" stroke="#2e9a28" stroke-opacity="0.8" stroke-width="0.5"/><rect x="139.96" y="136.88" width="2.6" height="2.6" fill="#23781f" fill-opacity="0.85"/>
<circle cx="122.22" cy="114.02" r="2.55" fill="#2ea828" fill-opacity="0.58" stroke="#227e1e" stroke-opacity="0.8" stroke-width="1.0"/>
<rect x="126.99" y="124.17" width="5.5" height="5.5" fill="#3d8bea" fill-opacity="0.6" stroke="#3d8bea" stroke-opacity="0.8" stroke-width="0.5"/><rect x="128.44" y="125.62" width="2.6" height="2.6" fill="#2f6cb6" fill-opacity="0.85"/>
<circle cx="115.07" cy="140.69" r="2.16" fill="#2ea828" fill-opacity="1" stroke="#248620" stroke-opacity="0.8" stroke-width="0.6"/><path d="M113.35 140.69h3.44M115.07 138.97v3.44" stroke="#fff" stroke-width="0.74"/>
<circle cx="115.1" cy="88.99" r="2.55" fill="#2ea828" fill-opacity="0.58" stroke="#227e1e" stroke-opacity="0.8" stroke-width="1.0"/>
<circle cx="132.52" cy="125.83" r="2.55" fill="#2ea828" fill-opacity="0.58" stroke="#227e1e" stroke-opacity="0.8" stroke-width="1.0"/>
<circle cx="127.3" cy="91.44" r="2.55" fill="#d41fc0" fill-opacity="0.58" stroke="#9f1790" stroke-opacity="0.8" stroke-width="1.0"/>
<rect x="109.49" y="135.49" width="5.5" height="5.5" fill="#2e9a28" fill-opacity="0.6" stroke="#2e9a28" stroke-opacity="0.8" stroke-width="0.5"/><rect x="110.94" y="136.94" width="2.6" height="2.6" fill="#23781f" fill-opacity="0.85"/>
<circle cx="131.79" cy="117.62" r="2.55" fill="#2ea828" fill-opacity="0.58" stroke="#227e1e" stroke-opacity="0.8" stroke-width="1.0"/>
<circle cx="143.61" cy="120.09" r="2.55" fill="#2ea828" fill-opacity="0.58" stroke="#227e1e" stroke-opacity="0.8" stroke-width="1.0"/>
<circle cx="132.38" cy="133.85" r="2.55" fill="#2ea828" fill-opacity="0.58" stroke="#227e1e" stroke-opacity="0.8" stroke-width="1.0"/>
<circle cx="136.29" cy="102.46" r="2.55" fill="#3ddc84" fill-opacity="0.58" stroke="#2da563" stroke-opacity="0.8" stroke-width="1.0"/>
<circle cx="139.93" cy="106.9" r="2.55" fill="#2e8b57" fill-opacity="0.58" stroke="#226841" stroke-opacity="0.8" stroke-width="1.0"/>
<circle cx="115.18" cy="112.08" r="2.55" fill="#2ea828" fill-opacity="0.58" stroke="#227e1e" stroke-opacity="0.8" stroke-width="1.0"/>
<circle cx="123.77" cy="118.17" r="2.55" fill="#2ea828" fill-opacity="0.58" stroke="#227e1e" stroke-opacity="0.8" stroke-width="1.0"/>
<circle cx="129.91" cy="99.82" r="2.55" fill="#2e8b57" fill-opacity="0.58" stroke="#226841" stroke-opacity="0.8" stroke-width="1.0"/>
<circle cx="121.28" cy="122.5" r="2.55" fill="#2ea828" fill-opacity="0.58" stroke="#227e1e" stroke-opacity="0.8" stroke-width="1.0"/>
<circle cx="136.87" cy="92.68" r="2.55" fill="#2323dd" fill-opacity="0.58" stroke="#1a1aa5" stroke-opacity="0.8" stroke-width="1.0"/>
<circle cx="133.6" cy="112.19" r="2.55" fill="#2ea828" fill-opacity="0.58" stroke="#227e1e" stroke-opacity="0.8" stroke-width="1.0"/>
<circle cx="134.69" cy="125.36" r="2.55" fill="#4a90f5" fill-opacity="0.58" stroke="#376cb7" stroke-opacity="0.8" stroke-width="1.0"/>
<circle cx="140.58" cy="113.15" r="2.15" fill="#fff" fill-opacity="0.7" stroke="#3ddc84" stroke-opacity="0.9" stroke-width="2"/>
<circle cx="144.56" cy="135.3" r="2.55" fill="#2ea828" fill-opacity="0.58" stroke="#227e1e" stroke-opacity="0.8" stroke-width="1.0"/>
<circle cx="125.96" cy="117.96" r="2.15" fill="#fff" fill-opacity="0.7" stroke="#4a90f5" stroke-opacity="0.9" stroke-width="2"/>
<rect x="127.44" y="112.75" width="5.5" height="5.5" fill="#2e9a28" fill-opacity="0.6" stroke="#2e9a28" stroke-opacity="0.8" stroke-width="0.5"/><rect x="128.89" y="114.2" width="2.6" height="2.6" fill="#23781f" fill-opacity="0.85"/>
<circle cx="147.41" cy="127.92" r="2.55" fill="#2e8b57" fill-opacity="0.58" stroke="#226841" stroke-opacity="0.8" stroke-width="1.0"/>
<circle cx="140.59" cy="102.29" r="2.55" fill="#2e8b57" fill-opacity="0.58" stroke="#226841" stroke-opacity="0.8" stroke-width="1.0"/>
<circle cx="126.56" cy="114.16" r="2.55" fill="#2ea828" fill-opacity="0.58" stroke="#227e1e" stroke-opacity="0.8" stroke-width="1.0"/>
<circle cx="130.21" cy="98.35" r="2.55" fill="#2ea828" fill-opacity="0.58" stroke="#227e1e" stroke-opacity="0.8" stroke-width="1.0"/>
<circle cx="124.19" cy="98.15" r="2.55" fill="#2ea828" fill-opacity="0.58" stroke="#227e1e" stroke-opacity="0.8" stroke-width="1.0"/>
<rect x="133.87" y="133.24" width="5.5" height="5.5" fill="#2e9a28" fill-opacity="0.6" stroke="#2e9a28" stroke-opacity="0.8" stroke-width="0.5"/><rect x="135.32" y="134.69" width="2.6" height="2.6" fill="#23781f" fill-opacity="0.85"/>
<circle cx="140.34" cy="118.01" r="2.15" fill="#fff" fill-opacity="0.7" stroke="#4a90f5" stroke-opacity="0.9" stroke-width="2"/>
<circle cx="110.53" cy="131.54" r="2.55" fill="#2ea828" fill-opacity="0.58" stroke="#227e1e" stroke-opacity="0.8" stroke-width="1.0"/>
<circle cx="130.73" cy="141.06" r="2.11" fill="#2ea828" fill-opacity="0.9" stroke="#2ea828" stroke-opacity="0.8" stroke-width="0.7"/><circle cx="130.73" cy="141.06" r="1.19" fill="#23831f" fill-opacity="0.85"/>
<circle cx="117.22" cy="101.96" r="2.55" fill="#2ea828" fill-opacity="0.58" stroke="#227e1e" stroke-opacity="0.8" stroke-width="1.0"/>
<circle cx="143.51" cy="107.84" r="2.55" fill="#2ea828" fill-opacity="0.58" stroke="#227e1e" stroke-opacity="0.8" stroke-width="1.0"/>
<circle cx="120.16" cy="113.91" r="2.55" fill="#2323dd" fill-opacity="0.58" stroke="#1a1aa5" stroke-opacity="0.8" stroke-width="1.0"/>
<circle cx="115.5" cy="101.72" r="2.55" fill="#2323dd" fill-opacity="0.58" stroke="#1a1aa5" stroke-opacity="0.8" stroke-width="1.0"/>
<rect x="141.79" y="102.5" width="5.5" height="5.5" fill="#2e9a28" fill-opacity="0.6" stroke="#2e9a28" stroke-opacity="0.8" stroke-width="0.5"/><rect x="143.24" y="103.95" width="2.6" height="2.6" fill="#23781f" fill-opacity="0.85"/>
<circle cx="113.91" cy="136.78" r="2.15" fill="#fff" fill-opacity="0.7" stroke="#3ddc84" stroke-opacity="0.9" stroke-width="2"/>
<circle cx="115.29" cy="121.94" r="2.55" fill="#2ea828" fill-opacity="0.58" stroke="#227e1e" stroke-opacity="0.8" stroke-width="1.0"/>
<circle cx="110.88" cy="127.55" r="2.55" fill="#2ea828" fill-opacity="0.58" stroke="#227e1e" stroke-opacity="0.8" stroke-width="1.0"/>
<circle cx="147.41" cy="136.18" r="2.55" fill="#4a90f5" fill-opacity="0.58" stroke="#376cb7" stroke-opacity="0.8" stroke-width="1.0"/>
<circle cx="112.2" cy="125.76" r="2.55" fill="#2323dd" fill-opacity="0.58" stroke="#1a1aa5" stroke-opacity="0.8" stroke-width="1.0"/>
<circle cx="126.48" cy="88.74" r="2.55" fill="#2ea828" fill-opacity="0.58" stroke="#227e1e" stroke-opacity="0.8" stroke-width="1.0"/>
<circle cx="120.13" cy="126.63" r="2.55" fill="#2ea828" fill-opacity="0.58" stroke="#227e1e" stroke-opacity="0.8" stroke-width="1.0"/>
<circle cx="114.33" cy="98.13" r="2.55" fill="#3ddc84" fill-opacity="0.58" stroke="#2da563" stroke-opacity="0.8" stroke-width="1.0"/>
<circle cx="142.36" cy="106.35" r="2.55" fill="#3ddc84" fill-opacity="0.58" stroke="#2da563" stroke-opacity="0.8" stroke-width="1.0"/>
<circle cx="146.68" cy="119.39" r="2.55" fill="#2ea828" fill-opacity="0.58" stroke="#227e1e" stroke-opacity="0.8" stroke-width="1.0"/>
<circle cx="119.84" cy="139.6" r="2.11" fill="#3ddc84" fill-opacity="0.9" stroke="#3ddc84" stroke-opacity="0.8" stroke-width="0.7"/><circle cx="119.84" cy="139.6" r="1.19" fill="#2fab66" fill-opacity="0.85"/>
<circle cx="118.73" cy="122.4" r="2.55" fill="#2ea828" fill-opacity="0.58" stroke="#227e1e" stroke-opacity="0.8" stroke-width="1.0"/>
<circle cx="130.3" cy="115.85" r="2.55" fill="#2ea828" fill-opacity="0.58" stroke="#227e1e" stroke-opacity="0.8" stroke-width="1.0"/>
<circle cx="133.59" cy="101.07" r="2.55" fill="#2ea828" fill-opacity="0.58" stroke="#227e1e" stroke-opacity="0.8" stroke-width="1.0"/>
<circle cx="119.12" cy="129.34" r="2.55" fill="#2ea828" fill-opacity="0.58" stroke="#227e1e" stroke-opacity="0.8" stroke-width="1.0"/>
<circle cx="118.84" cy="116.89" r="2.55" fill="#2ea828" fill-opacity="0.58" stroke="#227e1e" stroke-opacity="0.8" stroke-width="1.0"/>
<circle cx="140.53" cy="107.08" r="2.55" fill="#2323dd" fill-opacity="0.58" stroke="#1a1aa5" stroke-opacity="0.8" stroke-width="1.0"/>
<rect x="126.25" y="92.04" width="5.5" height="5.5" fill="#2e9a28" fill-opacity="0.6" stroke="#2e9a28" stroke-opacity="0.8" stroke-width="0.5"/><rect x="127.7" y="93.49" width="2.6" height="2.6" fill="#23781f" fill-opacity="0.85"/>
<circle cx="135.67" cy="105.58" r="2.55" fill="#3ddc84" fill-opacity="0.58" stroke="#2da563" stroke-opacity="0.8" stroke-width="1.0"/>
<rect x="139.27" y="112.25" width="5.5" height="5.5" fill="#2e9a28" fill-opacity="0.6" stroke="#2e9a28" stroke-opacity="0.8" stroke-width="0.5"/><rect x="140.72" y="113.7" width="2.6" height="2.6" fill="#23781f" fill-opacity="0.85"/>
<rect x="142.14" y="122.31" width="5.5" height="5.5" fill="#2e9a28" fill-opacity="0.6" stroke="#2e9a28" stroke-opacity="0.8" stroke-width="0.5"/><rect x="143.59" y="123.76" width="2.6" height="2.6" fill="#23781f" fill-opacity="0.85"/>
<rect x="131.22" y="95.37" width="5.5" height="5.5" fill="#2e9a28" fill-opacity="0.6" stroke="#2e9a28" stroke-opacity="0.8" stroke-width="0.5"/><rect x="132.67" y="96.82" width="2.6" height="2.6" fill="#23781f" fill-opacity="0.85"/>
<circle cx="141.56" cy="131.19" r="2.55" fill="#4a90f5" fill-opacity="0.58" stroke="#376cb7" stroke-opacity="0.8" stroke-width="1.0"/>
<circle cx="116.85" cy="113.35" r="2.55" fill="#2ea828" fill-opacity="0.58" stroke="#227e1e" stroke-opacity="0.8" stroke-width="1.0"/>
<circle cx="132.68" cy="113.94" r="2.55" fill="#2ea828" fill-opacity="0.58" stroke="#227e1e" stroke-opacity="0.8" stroke-width="1.0"/>
<circle cx="133.45" cy="126.88" r="2.55" fill="#2e8b57" fill-opacity="0.58" stroke="#226841" stroke-opacity="0.8" stroke-width="1.0"/>
<rect x="126.07" y="107.33" width="5.5" height="5.5" fill="#2e9a28" fill-opacity="0.6" stroke="#2e9a28" stroke-opacity="0.8" stroke-width="0.5"/><rect x="127.52" y="108.78" width="2.6" height="2.6" fill="#23781f" fill-opacity="0.85"/>
<circle cx="118.1" cy="131.91" r="2.55" fill="#2ea828" fill-opacity="0.58" stroke="#227e1e" stroke-opacity="0.8" stroke-width="1.0"/>
<circle cx="130.99" cy="131.5" r="2.55" fill="#2ea828" fill-opacity="0.58" stroke="#227e1e" stroke-opacity="0.8" stroke-width="1.0"/>
<circle cx="134.58" cy="115.53" r="2.55" fill="#2ea828" fill-opacity="0.58" stroke="#227e1e" stroke-opacity="0.8" stroke-width="1.0"/>
<circle cx="117.72" cy="93.59" r="2.55" fill="#4a90f5" fill-opacity="0.58" stroke="#376cb7" stroke-opacity="0.8" stroke-width="1.0"/>
<circle cx="144.22" cy="131.2" r="2.55" fill="#2ea828" fill-opacity="0.58" stroke="#227e1e" stroke-opacity="0.8" stroke-width="1.0"/>
<circle cx="124.89" cy="105.87" r="2.55" fill="#2ea828" fill-opacity="0.58" stroke="#227e1e" stroke-opacity="0.8" stroke-width="1.0"/>
<circle cx="128.52" cy="129.68" r="2.55" fill="#d66ad8" fill-opacity="0.58" stroke="#a04fa2" stroke-opacity="0.8" stroke-width="1.0"/>
<circle cx="112.65" cy="111.32" r="2.55" fill="#4a90f5" fill-opacity="0.58" stroke="#376cb7" stroke-opacity="0.8" stroke-width="1.0"/>
<rect x="121.32" y="99.13" width="5.5" height="5.5" fill="#2e9a28" fill-opacity="0.6" stroke="#2e9a28" stroke-opacity="0.8" stroke-width="0.5"/><rect x="122.77" y="100.58" width="2.6" height="2.6" fill="#23781f" fill-opacity="0.85"/>
<circle cx="139.77" cy="97.79" r="2.55" fill="#2ea828" fill-opacity="0.58" stroke="#227e1e" stroke-opacity="0.8" stroke-width="1.0"/>
<rect x="128.64" y="95.75" width="5.5" height="5.5" fill="#2e9a28" fill-opacity="0.6" stroke="#2e9a28" stroke-opacity="0.8" stroke-width="0.5"/><rect x="130.09" y="97.2" width="2.6" height="2.6" fill="#23781f" fill-opacity="0.85"/>
<circle cx="124.54" cy="122.99" r="2.55" fill="#2ea828" fill-opacity="0.58" stroke="#227e1e" stroke-opacity="0.8" stroke-width="1.0"/>
<rect x="119.04" y="122.93" width="5.5" height="5.5" fill="#3d8bea" fill-opacity="0.6" stroke="#3d8bea" stroke-opacity="0.8" stroke-width="0.5"/><rect x="120.49" y="124.38" width="2.6" height="2.6" fill="#2f6cb6" fill-opacity="0.85"/>
<rect x="130.42" y="134.43" width="5.5" height="5.5" fill="#2e9a28" fill-opacity="0.6" stroke="#2e9a28" stroke-opacity="0.8" stroke-width="0.5"/><rect x="131.87" y="135.88" width="2.6" height="2.6" fill="#23781f" fill-opacity="0.85"/>
<circle cx="124.07" cy="134.58" r="2.55" fill="#2ea828" fill-opacity="0.58" stroke="#227e1e" stroke-opacity="0.8" stroke-width="1.0"/>
<rect x="119.23" y="92.27" width="5.5" height="5.5" fill="#2e9a28" fill-opacity="0.6" stroke="#2e9a28" stroke-opacity="0.8" stroke-width="0.5"/><rect x="120.68" y="93.72" width="2.6" height="2.6" fill="#23781f" fill-opacity="0.85"/>
<circle cx="113.54" cy="96.22" r="2.55" fill="#2ea828" fill-opacity="0.58" stroke="#227e1e" stroke-opacity="0.8" stroke-width="1.0"/>
<rect x="124.76" y="99.76" width="5.5" height="5.5" fill="#2e9a28" fill-opacity="0.6" stroke="#2e9a28" stroke-opacity="0.8" stroke-width="0.5"/><rect x="126.21" y="101.21" width="2.6" height="2.6" fill="#23781f" fill-opacity="0.85"/>
<circle cx="123.62" cy="88.37" r="2.55" fill="#4a90f5" fill-opacity="0.58" stroke="#376cb7" stroke-opacity="0.8" stroke-width="1.0"/>
<circle cx="122.69" cy="100.47" r="2.55" fill="#2ea828" fill-opacity="0.58" stroke="#227e1e" stroke-opacity="0.8" stroke-width="1.0"/>
<circle cx="114.37" cy="99.74" r="2.55" fill="#2ea828" fill-opacity="0.58" stroke="#227e1e" stroke-opacity="0.8" stroke-width="1.0"/>
<circle cx="148.48" cy="126.91" r="2.55" fill="#2ea828" fill-opacity="0.58" stroke="#227e1e" stroke-opacity="0.8" stroke-width="1.0"/>
<circle cx="122.61" cy="93.21" r="2.55" fill="#2323dd" fill-opacity="0.58" stroke="#1a1aa5" stroke-opacity="0.8" stroke-width="1.0"/>
<circle cx="152.39" cy="130.41" r="2.15" fill="#fff" fill-opacity="0.7" stroke="#4a90f5" stroke-opacity="0.9" stroke-width="2"/>
<circle cx="150.88" cy="108.3" r="2.55" fill="#4a90f5" fill-opacity="0.58" stroke="#376cb7" stroke-opacity="0.8" stroke-width="1.0"/>
<circle cx="173.3" cy="104.86" r="2.15" fill="#fff" fill-opacity="0.7" stroke="#4a90f5" stroke-opacity="0.9" stroke-width="2"/>
<circle cx="153.76" cy="99.82" r="2.55" fill="#4a90f5" fill-opacity="0.58" stroke="#376cb7" stroke-opacity="0.8" stroke-width="1.0"/>
<circle cx="154.96" cy="117.55" r="2.55" fill="#4a90f5" fill-opacity="0.58" stroke="#376cb7" stroke-opacity="0.8" stroke-width="1.0"/>
<circle cx="166.26" cy="101.1" r="2.15" fill="#fff" fill-opacity="0.7" stroke="#4a90f5" stroke-opacity="0.9" stroke-width="2"/>
<circle cx="164.65" cy="94.54" r="2.55" fill="#4a90f5" fill-opacity="0.58" stroke="#376cb7" stroke-opacity="0.8" stroke-width="1.0"/>
<circle cx="149.21" cy="127.34" r="2.55" fill="#4a90f5" fill-opacity="0.58" stroke="#376cb7" stroke-opacity="0.8" stroke-width="1.0"/>
<circle cx="153.46" cy="136.23" r="2.55" fill="#4a90f5" fill-opacity="0.58" stroke="#376cb7" stroke-opacity="0.8" stroke-width="1.0"/>
<circle cx="149.68" cy="106.01" r="2.55" fill="#4a90f5" fill-opacity="0.58" stroke="#376cb7" stroke-opacity="0.8" stroke-width="1.0"/>
<circle cx="163.22" cy="118.82" r="2.55" fill="#2ea828" fill-opacity="0.58" stroke="#227e1e" stroke-opacity="0.8" stroke-width="1.0"/>
<circle cx="155.11" cy="108.76" r="2.55" fill="#4a90f5" fill-opacity="0.58" stroke="#376cb7" stroke-opacity="0.8" stroke-width="1.0"/>
<circle cx="153.33" cy="105.03" r="2.55" fill="#4a90f5" fill-opacity="0.58" stroke="#376cb7" stroke-opacity="0.8" stroke-width="1.0"/>
<circle cx="149.19" cy="95.2" r="2.55" fill="#4a90f5" fill-opacity="0.58" stroke="#376cb7" stroke-opacity="0.8" stroke-width="1.0"/>
<circle cx="117.91" cy="146.07" r="2.11" fill="#2ea828" fill-opacity="0.9" stroke="#2ea828" stroke-opacity="0.8" stroke-width="0.7"/><circle cx="117.91" cy="146.07" r="1.19" fill="#23831f" fill-opacity="0.85"/>
<circle cx="98.51" cy="153.74" r="2.11" fill="#2ea828" fill-opacity="0.9" stroke="#2ea828" stroke-opacity="0.8" stroke-width="0.7"/><circle cx="98.51" cy="153.74" r="1.19" fill="#23831f" fill-opacity="0.85"/>
<circle cx="112.96" cy="165.46" r="2.11" fill="#3ddc84" fill-opacity="0.9" stroke="#3ddc84" stroke-opacity="0.8" stroke-width="0.7"/><circle cx="112.96" cy="165.46" r="1.19" fill="#2fab66" fill-opacity="0.85"/>
<circle cx="101.48" cy="151.3" r="2.11" fill="#2ea828" fill-opacity="0.9" stroke="#2ea828" stroke-opacity="0.8" stroke-width="0.7"/><circle cx="101.48" cy="151.3" r="1.19" fill="#23831f" fill-opacity="0.85"/>
<circle cx="107.73" cy="160.61" r="2.11" fill="#3ddc84" fill-opacity="0.9" stroke="#3ddc84" stroke-opacity="0.8" stroke-width="0.7"/><circle cx="107.73" cy="160.61" r="1.19" fill="#2fab66" fill-opacity="0.85"/>
<circle cx="97.53" cy="146.64" r="2.11" fill="#2ea828" fill-opacity="0.9" stroke="#2ea828" stroke-opacity="0.8" stroke-width="0.7"/><circle cx="97.53" cy="146.64" r="1.19" fill="#23831f" fill-opacity="0.85"/>
<circle cx="111.94" cy="147" r="2.11" fill="#4a90f5" fill-opacity="0.9" stroke="#4a90f5" stroke-opacity="0.8" stroke-width="0.7"/><circle cx="111.94" cy="147" r="1.19" fill="#3970bf" fill-opacity="0.85"/>
<circle cx="99.76" cy="160.2" r="2.11" fill="#333333" fill-opacity="0.9" stroke="#333333" stroke-opacity="0.8" stroke-width="0.7"/><circle cx="99.76" cy="160.2" r="1.19" fill="#272727" fill-opacity="0.85"/>
<circle cx="115.25" cy="153.26" r="2.11" fill="#3ddc84" fill-opacity="0.9" stroke="#3ddc84" stroke-opacity="0.8" stroke-width="0.7"/><circle cx="115.25" cy="153.26" r="1.19" fill="#2fab66" fill-opacity="0.85"/>
<circle cx="96.52" cy="151.14" r="2.11" fill="#e31a1c" fill-opacity="0.9" stroke="#e31a1c" stroke-opacity="0.8" stroke-width="0.7"/><circle cx="96.52" cy="151.14" r="1.19" fill="#b11415" fill-opacity="0.85"/>
<circle cx="110.63" cy="152.54" r="2.11" fill="#2ea828" fill-opacity="0.9" stroke="#2ea828" stroke-opacity="0.8" stroke-width="0.7"/><circle cx="110.63" cy="152.54" r="1.19" fill="#23831f" fill-opacity="0.85"/>
<circle cx="107.62" cy="163.31" r="2.11" fill="#3ddc84" fill-opacity="0.9" stroke="#3ddc84" stroke-opacity="0.8" stroke-width="0.7"/><circle cx="107.62" cy="163.31" r="1.19" fill="#2fab66" fill-opacity="0.85"/>
<circle cx="115.46" cy="159.55" r="2.11" fill="#d41fc0" fill-opacity="0.9" stroke="#d41fc0" stroke-opacity="0.8" stroke-width="0.7"/><circle cx="115.46" cy="159.55" r="1.19" fill="#a51895" fill-opacity="0.85"/>
<rect x="105.18" y="157.43" width="4.51" height="4.51" fill="#2e9a28" fill-opacity="0.94" stroke="#2e9a28" stroke-opacity="0.8" stroke-width="0.5"/><rect x="106.37" y="158.61" width="2.13" height="2.13" fill="#23781f" fill-opacity="0.85"/>
<circle cx="110.04" cy="145.96" r="2.11" fill="#2ea828" fill-opacity="0.9" stroke="#2ea828" stroke-opacity="0.8" stroke-width="0.7"/><circle cx="110.04" cy="145.96" r="1.19" fill="#23831f" fill-opacity="0.85"/>
<circle cx="97.5" cy="143.47" r="2.11" fill="#3ddc84" fill-opacity="0.9" stroke="#3ddc84" stroke-opacity="0.8" stroke-width="0.7"/><circle cx="97.5" cy="143.47" r="1.19" fill="#2fab66" fill-opacity="0.85"/>
<circle cx="105.09" cy="168.43" r="2.11" fill="#3ddc84" fill-opacity="0.9" stroke="#3ddc84" stroke-opacity="0.8" stroke-width="0.7"/><circle cx="105.09" cy="168.43" r="1.19" fill="#2fab66" fill-opacity="0.85"/>
<circle cx="120.96" cy="146.58" r="2.11" fill="#2323dd" fill-opacity="0.9" stroke="#2323dd" stroke-opacity="0.8" stroke-width="0.7"/><circle cx="120.96" cy="146.58" r="1.19" fill="#1b1bac" fill-opacity="0.85"/>
<circle cx="97.61" cy="150.02" r="2.11" fill="#2323dd" fill-opacity="0.9" stroke="#2323dd" stroke-opacity="0.8" stroke-width="0.7"/><circle cx="97.61" cy="150.02" r="1.19" fill="#1b1bac" fill-opacity="0.85"/>
<rect x="109.79" y="151.41" width="4.51" height="4.51" fill="#3d8bea" fill-opacity="0.94" stroke="#3d8bea" stroke-opacity="0.8" stroke-width="0.5"/><rect x="110.98" y="152.6" width="2.13" height="2.13" fill="#2f6cb6" fill-opacity="0.85"/>
<rect x="123.82" y="139" width="4.51" height="4.51" fill="#2e9a28" fill-opacity="0.94" stroke="#2e9a28" stroke-opacity="0.8" stroke-width="0.5"/><rect x="125.01" y="140.19" width="2.13" height="2.13" fill="#23781f" fill-opacity="0.85"/>
<circle cx="118.16" cy="145.7" r="2.11" fill="#2ea828" fill-opacity="0.9" stroke="#2ea828" stroke-opacity="0.8" stroke-width="0.7"/><circle cx="118.16" cy="145.7" r="1.19" fill="#23831f" fill-opacity="0.85"/>
<circle cx="103.16" cy="162.52" r="2.11" fill="#2e8b57" fill-opacity="0.9" stroke="#2e8b57" stroke-opacity="0.8" stroke-width="0.7"/><circle cx="103.16" cy="162.52" r="1.19" fill="#236c43" fill-opacity="0.85"/>
<rect x="108.3" y="154.03" width="4.51" height="4.51" fill="#2e9a28" fill-opacity="0.94" stroke="#2e9a28" stroke-opacity="0.8" stroke-width="0.5"/><rect x="109.49" y="155.22" width="2.13" height="2.13" fill="#23781f" fill-opacity="0.85"/>
<circle cx="101.5" cy="161.95" r="2.11" fill="#2323dd" fill-opacity="0.9" stroke="#2323dd" stroke-opacity="0.8" stroke-width="0.7"/><circle cx="101.5" cy="161.95" r="1.19" fill="#1b1bac" fill-opacity="0.85"/>
<circle cx="126.01" cy="142.17" r="2.11" fill="#2ea828" fill-opacity="0.9" stroke="#2ea828" stroke-opacity="0.8" stroke-width="0.7"/><circle cx="126.01" cy="142.17" r="1.19" fill="#23831f" fill-opacity="0.85"/>
<circle cx="94.44" cy="145.56" r="2.11" fill="#3ddc84" fill-opacity="0.9" stroke="#3ddc84" stroke-opacity="0.8" stroke-width="0.7"/><circle cx="94.44" cy="145.56" r="1.19" fill="#2fab66" fill-opacity="0.85"/>
<circle cx="99.95" cy="146.9" r="2.11" fill="#2ea828" fill-opacity="0.9" stroke="#2ea828" stroke-opacity="0.8" stroke-width="0.7"/><circle cx="99.95" cy="146.9" r="1.19" fill="#23831f" fill-opacity="0.85"/>
<circle cx="102.87" cy="169.89" r="2.11" fill="#2e8b57" fill-opacity="0.9" stroke="#2e8b57" stroke-opacity="0.8" stroke-width="0.7"/><circle cx="102.87" cy="169.89" r="1.19" fill="#236c43" fill-opacity="0.85"/>
<circle cx="104.59" cy="171.02" r="2.11" fill="#2323dd" fill-opacity="0.9" stroke="#2323dd" stroke-opacity="0.8" stroke-width="0.7"/><circle cx="104.59" cy="171.02" r="1.19" fill="#1b1bac" fill-opacity="0.85"/>
<circle cx="123.21" cy="149.02" r="2.11" fill="#3ddc84" fill-opacity="0.9" stroke="#3ddc84" stroke-opacity="0.8" stroke-width="0.7"/><circle cx="123.21" cy="149.02" r="1.19" fill="#2fab66" fill-opacity="0.85"/>
<circle cx="109.64" cy="170.02" r="2.11" fill="#2323dd" fill-opacity="0.9" stroke="#2323dd" stroke-opacity="0.8" stroke-width="0.7"/><circle cx="109.64" cy="170.02" r="1.19" fill="#1b1bac" fill-opacity="0.85"/>
<circle cx="102.14" cy="165.62" r="2.11" fill="#2ea828" fill-opacity="0.9" stroke="#2ea828" stroke-opacity="0.8" stroke-width="0.7"/><circle cx="102.14" cy="165.62" r="1.19" fill="#23831f" fill-opacity="0.85"/>
<circle cx="112.61" cy="145.54" r="2.11" fill="#2e8b57" fill-opacity="0.9" stroke="#2e8b57" stroke-opacity="0.8" stroke-width="0.7"/><circle cx="112.61" cy="145.54" r="1.19" fill="#236c43" fill-opacity="0.85"/>
<circle cx="100.16" cy="163.59" r="2.11" fill="#2323dd" fill-opacity="0.9" stroke="#2323dd" stroke-opacity="0.8" stroke-width="0.7"/><circle cx="100.16" cy="163.59" r="1.19" fill="#1b1bac" fill-opacity="0.85"/>
<circle cx="99.88" cy="162.8" r="2.11" fill="#2ea828" fill-opacity="0.9" stroke="#2ea828" stroke-opacity="0.8" stroke-width="0.7"/><circle cx="99.88" cy="162.8" r="1.19" fill="#23831f" fill-opacity="0.85"/>
<circle cx="110.77" cy="164.57" r="2.11" fill="#2ea828" fill-opacity="0.9" stroke="#2ea828" stroke-opacity="0.8" stroke-width="0.7"/><circle cx="110.77" cy="164.57" r="1.19" fill="#23831f" fill-opacity="0.85"/>
<circle cx="99.02" cy="154.09" r="2.11" fill="#2ea828" fill-opacity="0.9" stroke="#2ea828" stroke-opacity="0.8" stroke-width="0.7"/><circle cx="99.02" cy="154.09" r="1.19" fill="#23831f" fill-opacity="0.85"/>
<circle cx="108.15" cy="152.94" r="2.11" fill="#2ea828" fill-opacity="0.9" stroke="#2ea828" stroke-opacity="0.8" stroke-width="0.7"/><circle cx="108.15" cy="152.94" r="1.19" fill="#23831f" fill-opacity="0.85"/>
<circle cx="120.36" cy="143.47" r="2.11" fill="#2ea828" fill-opacity="0.9" stroke="#2ea828" stroke-opacity="0.8" stroke-width="0.7"/><circle cx="120.36" cy="143.47" r="1.19" fill="#23831f" fill-opacity="0.85"/>
<circle cx="97.33" cy="143.7" r="2.11" fill="#2ea828" fill-opacity="0.9" stroke="#2ea828" stroke-opacity="0.8" stroke-width="0.7"/><circle cx="97.33" cy="143.7" r="1.19" fill="#23831f" fill-opacity="0.85"/>
<circle cx="116.08" cy="151.88" r="2.11" fill="#4a90f5" fill-opacity="0.9" stroke="#4a90f5" stroke-opacity="0.8" stroke-width="0.7"/><circle cx="116.08" cy="151.88" r="1.19" fill="#3970bf" fill-opacity="0.85"/>
<circle cx="115.72" cy="157.2" r="1.76" fill="#fff" fill-opacity="0.7" stroke="#3ddc84" stroke-opacity="0.9" stroke-width="1.64"/>
<circle cx="119.39" cy="155.04" r="2.11" fill="#4a90f5" fill-opacity="0.9" stroke="#4a90f5" stroke-opacity="0.8" stroke-width="0.7"/><circle cx="119.39" cy="155.04" r="1.19" fill="#3970bf" fill-opacity="0.85"/>
<circle cx="103.16" cy="152.16" r="2.11" fill="#2ea828" fill-opacity="0.9" stroke="#2ea828" stroke-opacity="0.8" stroke-width="0.7"/><circle cx="103.16" cy="152.16" r="1.19" fill="#23831f" fill-opacity="0.85"/>
<circle cx="114.04" cy="160.06" r="2.11" fill="#3ddc84" fill-opacity="0.9" stroke="#3ddc84" stroke-opacity="0.8" stroke-width="0.7"/><circle cx="114.04" cy="160.06" r="1.19" fill="#2fab66" fill-opacity="0.85"/>
<circle cx="104.81" cy="160.92" r="2.11" fill="#4a90f5" fill-opacity="0.9" stroke="#4a90f5" stroke-opacity="0.8" stroke-width="0.7"/><circle cx="104.81" cy="160.92" r="1.19" fill="#3970bf" fill-opacity="0.85"/>
<circle cx="122.28" cy="149.14" r="2.11" fill="#2323dd" fill-opacity="0.9" stroke="#2323dd" stroke-opacity="0.8" stroke-width="0.7"/><circle cx="122.28" cy="149.14" r="1.19" fill="#1b1bac" fill-opacity="0.85"/>
<circle cx="120.7" cy="146.53" r="2.11" fill="#2323dd" fill-opacity="0.9" stroke="#2323dd" stroke-opacity="0.8" stroke-width="0.7"/><circle cx="120.7" cy="146.53" r="1.19" fill="#1b1bac" fill-opacity="0.85"/>
<circle cx="105.24" cy="158.53" r="2.11" fill="#d41fc0" fill-opacity="0.9" stroke="#d41fc0" stroke-opacity="0.8" stroke-width="0.7"/><circle cx="105.24" cy="158.53" r="1.19" fill="#a51895" fill-opacity="0.85"/>
<circle cx="89.76" cy="147.74" r="2.11" fill="#4a90f5" fill-opacity="0.9" stroke="#4a90f5" stroke-opacity="0.8" stroke-width="0.7"/><circle cx="89.76" cy="147.74" r="1.19" fill="#3970bf" fill-opacity="0.85"/>
<rect x="123.55" y="140.12" width="4.51" height="4.51" fill="#2e9a28" fill-opacity="0.94" stroke="#2e9a28" stroke-opacity="0.8" stroke-width="0.5"/><rect x="124.74" y="141.31" width="2.13" height="2.13" fill="#23781f" fill-opacity="0.85"/>
<circle cx="121.66" cy="144.28" r="2.11" fill="#4a90f5" fill-opacity="0.9" stroke="#4a90f5" stroke-opacity="0.8" stroke-width="0.7"/><circle cx="121.66" cy="144.28" r="1.19" fill="#3970bf" fill-opacity="0.85"/>
<circle cx="98.37" cy="149.24" r="2.11" fill="#4a90f5" fill-opacity="0.9" stroke="#4a90f5" stroke-opacity="0.8" stroke-width="0.7"/><circle cx="98.37" cy="149.24" r="1.19" fill="#3970bf" fill-opacity="0.85"/>
<circle cx="119.69" cy="143.59" r="2.11" fill="#2ea828" fill-opacity="0.9" stroke="#2ea828" stroke-opacity="0.8" stroke-width="0.7"/><circle cx="119.69" cy="143.59" r="1.19" fill="#23831f" fill-opacity="0.85"/>
<circle cx="119.63" cy="155.59" r="2.11" fill="#2ea828" fill-opacity="0.9" stroke="#2ea828" stroke-opacity="0.8" stroke-width="0.7"/><circle cx="119.63" cy="155.59" r="1.19" fill="#23831f" fill-opacity="0.85"/>
<circle cx="114.6" cy="151.02" r="2.11" fill="#2ea828" fill-opacity="0.9" stroke="#2ea828" stroke-opacity="0.8" stroke-width="0.7"/><circle cx="114.6" cy="151.02" r="1.19" fill="#23831f" fill-opacity="0.85"/>
<circle cx="122.18" cy="151.13" r="2.11" fill="#2ea828" fill-opacity="0.9" stroke="#2ea828" stroke-opacity="0.8" stroke-width="0.7"/><circle cx="122.18" cy="151.13" r="1.19" fill="#23831f" fill-opacity="0.85"/>
<circle cx="102.5" cy="142.14" r="2.11" fill="#4a90f5" fill-opacity="0.9" stroke="#4a90f5" stroke-opacity="0.8" stroke-width="0.7"/><circle cx="102.5" cy="142.14" r="1.19" fill="#3970bf" fill-opacity="0.85"/>
<circle cx="103.48" cy="170.45" r="2.11" fill="#3ddc84" fill-opacity="0.9" stroke="#3ddc84" stroke-opacity="0.8" stroke-width="0.7"/><circle cx="103.48" cy="170.45" r="1.19" fill="#2fab66" fill-opacity="0.85"/>
<circle cx="105.41" cy="157.27" r="2.11" fill="#333333" fill-opacity="0.9" stroke="#333333" stroke-opacity="0.8" stroke-width="0.7"/><circle cx="105.41" cy="157.27" r="1.19" fill="#272727" fill-opacity="0.85"/>
<circle cx="98.78" cy="165.55" r="2.11" fill="#2ea828" fill-opacity="0.9" stroke="#2ea828" stroke-opacity="0.8" stroke-width="0.7"/><circle cx="98.78" cy="165.55" r="1.19" fill="#23831f" fill-opacity="0.85"/>
<circle cx="112.76" cy="147.96" r="2.11" fill="#d41fc0" fill-opacity="0.9" stroke="#d41fc0" stroke-opacity="0.8" stroke-width="0.7"/><circle cx="112.76" cy="147.96" r="1.19" fill="#a51895" fill-opacity="0.85"/>
<circle cx="118.6" cy="155.11" r="2.11" fill="#d66ad8" fill-opacity="0.9" stroke="#d66ad8" stroke-opacity="0.8" stroke-width="0.7"/><circle cx="118.6" cy="155.11" r="1.19" fill="#a652a8" fill-opacity="0.85"/>
<circle cx="101.26" cy="167.22" r="2.11" fill="#4a90f5" fill-opacity="0.9" stroke="#4a90f5" stroke-opacity="0.8" stroke-width="0.7"/><circle cx="101.26" cy="167.22" r="1.19" fill="#3970bf" fill-opacity="0.85"/>
<circle cx="103.15" cy="147.81" r="2.11" fill="#3ddc84" fill-opacity="0.9" stroke="#3ddc84" stroke-opacity="0.8" stroke-width="0.7"/><circle cx="103.15" cy="147.81" r="1.19" fill="#2fab66" fill-opacity="0.85"/>
<circle cx="92.68" cy="153.28" r="2.11" fill="#2ea828" fill-opacity="0.9" stroke="#2ea828" stroke-opacity="0.8" stroke-width="0.7"/><circle cx="92.68" cy="153.28" r="1.19" fill="#23831f" fill-opacity="0.85"/>
<circle cx="103.24" cy="150.35" r="2.11" fill="#d41fc0" fill-opacity="0.9" stroke="#d41fc0" stroke-opacity="0.8" stroke-width="0.7"/><circle cx="103.24" cy="150.35" r="1.19" fill="#a51895" fill-opacity="0.85"/>
<circle cx="99.81" cy="151.73" r="2.11" fill="#2323dd" fill-opacity="0.9" stroke="#2323dd" stroke-opacity="0.8" stroke-width="0.7"/><circle cx="99.81" cy="151.73" r="1.19" fill="#1b1bac" fill-opacity="0.85"/>
<circle cx="118.15" cy="150.44" r="2.11" fill="#d41fc0" fill-opacity="0.9" stroke="#d41fc0" stroke-opacity="0.8" stroke-width="0.7"/><circle cx="118.15" cy="150.44" r="1.19" fill="#a51895" fill-opacity="0.85"/>
<rect x="113.72" y="153.45" width="4.51" height="4.51" fill="#2e9a28" fill-opacity="0.94" stroke="#2e9a28" stroke-opacity="0.8" stroke-width="0.5"/><rect x="114.91" y="154.64" width="2.13" height="2.13" fill="#23781f" fill-opacity="0.85"/>
<circle cx="105.89" cy="149.27" r="2.11" fill="#4a90f5" fill-opacity="0.9" stroke="#4a90f5" stroke-opacity="0.8" stroke-width="0.7"/><circle cx="105.89" cy="149.27" r="1.19" fill="#3970bf" fill-opacity="0.85"/>
<circle cx="101.71" cy="170.8" r="2.11" fill="#4a90f5" fill-opacity="0.9" stroke="#4a90f5" stroke-opacity="0.8" stroke-width="0.7"/><circle cx="101.71" cy="170.8" r="1.19" fill="#3970bf" fill-opacity="0.85"/>
<circle cx="102.08" cy="163.55" r="2.11" fill="#2ea828" fill-opacity="0.9" stroke="#2ea828" stroke-opacity="0.8" stroke-width="0.7"/><circle cx="102.08" cy="163.55" r="1.19" fill="#23831f" fill-opacity="0.85"/>
<circle cx="100.19" cy="142" r="2.11" fill="#2e8b57" fill-opacity="0.9" stroke="#2e8b57" stroke-opacity="0.8" stroke-width="0.7"/><circle cx="100.19" cy="142" r="1.19" fill="#236c43" fill-opacity="0.85"/>
<circle cx="110.15" cy="158.41" r="2.11" fill="#2ea828" fill-opacity="0.9" stroke="#2ea828" stroke-opacity="0.8" stroke-width="0.7"/><circle cx="110.15" cy="158.41" r="1.19" fill="#23831f" fill-opacity="0.85"/>
<circle cx="112.07" cy="141.45" r="2.11" fill="#2ea828" fill-opacity="0.9" stroke="#2ea828" stroke-opacity="0.8" stroke-width="0.7"/><circle cx="112.07" cy="141.45" r="1.19" fill="#23831f" fill-opacity="0.85"/>
<circle cx="108.73" cy="148.35" r="2.11" fill="#2323dd" fill-opacity="0.9" stroke="#2323dd" stroke-opacity="0.8" stroke-width="0.7"/><circle cx="108.73" cy="148.35" r="1.19" fill="#1b1bac" fill-opacity="0.85"/>
<circle cx="92.81" cy="153.38" r="2.11" fill="#2ea828" fill-opacity="0.9" stroke="#2ea828" stroke-opacity="0.8" stroke-width="0.7"/><circle cx="92.81" cy="153.38" r="1.19" fill="#23831f" fill-opacity="0.85"/>
<circle cx="111.49" cy="155.29" r="2.11" fill="#d41fc0" fill-opacity="0.9" stroke="#d41fc0" stroke-opacity="0.8" stroke-width="0.7"/><circle cx="111.49" cy="155.29" r="1.19" fill="#a51895" fill-opacity="0.85"/>
<circle cx="109.5" cy="153.07" r="2.11" fill="#4a90f5" fill-opacity="0.9" stroke="#4a90f5" stroke-opacity="0.8" stroke-width="0.7"/><circle cx="109.5" cy="153.07" r="1.19" fill="#3970bf" fill-opacity="0.85"/>
<circle cx="97.73" cy="156.54" r="2.11" fill="#4a90f5" fill-opacity="0.9" stroke="#4a90f5" stroke-opacity="0.8" stroke-width="0.7"/><circle cx="97.73" cy="156.54" r="1.19" fill="#3970bf" fill-opacity="0.85"/>
<circle cx="112.07" cy="157.04" r="2.11" fill="#d41fc0" fill-opacity="0.9" stroke="#d41fc0" stroke-opacity="0.8" stroke-width="0.7"/><circle cx="112.07" cy="157.04" r="1.19" fill="#a51895" fill-opacity="0.85"/>
<circle cx="101.67" cy="148.57" r="2.11" fill="#2323dd" fill-opacity="0.9" stroke="#2323dd" stroke-opacity="0.8" stroke-width="0.7"/><circle cx="101.67" cy="148.57" r="1.19" fill="#1b1bac" fill-opacity="0.85"/>
<circle cx="93.5" cy="151.45" r="2.11" fill="#3ddc84" fill-opacity="0.9" stroke="#3ddc84" stroke-opacity="0.8" stroke-width="0.7"/><circle cx="93.5" cy="151.45" r="1.19" fill="#2fab66" fill-opacity="0.85"/>
<circle cx="106.61" cy="151.06" r="2.11" fill="#3ddc84" fill-opacity="0.9" stroke="#3ddc84" stroke-opacity="0.8" stroke-width="0.7"/><circle cx="106.61" cy="151.06" r="1.19" fill="#2fab66" fill-opacity="0.85"/>
<circle cx="109.67" cy="159" r="2.11" fill="#2e8b57" fill-opacity="0.9" stroke="#2e8b57" stroke-opacity="0.8" stroke-width="0.7"/><circle cx="109.67" cy="159" r="1.19" fill="#236c43" fill-opacity="0.85"/>
<circle cx="100.32" cy="149.21" r="2.11" fill="#3ddc84" fill-opacity="0.9" stroke="#3ddc84" stroke-opacity="0.8" stroke-width="0.7"/><circle cx="100.32" cy="149.21" r="1.19" fill="#2fab66" fill-opacity="0.85"/>
<circle cx="113.88" cy="151.49" r="2.11" fill="#2ea828" fill-opacity="0.9" stroke="#2ea828" stroke-opacity="0.8" stroke-width="0.7"/><circle cx="113.88" cy="151.49" r="1.19" fill="#23831f" fill-opacity="0.85"/>
<circle cx="114.55" cy="160.76" r="2.11" fill="#2ea828" fill-opacity="0.9" stroke="#2ea828" stroke-opacity="0.8" stroke-width="0.7"/><circle cx="114.55" cy="160.76" r="1.19" fill="#23831f" fill-opacity="0.85"/>
<circle cx="107.86" cy="157.68" r="2.11" fill="#2323dd" fill-opacity="0.9" stroke="#2323dd" stroke-opacity="0.8" stroke-width="0.7"/><circle cx="107.86" cy="157.68" r="1.19" fill="#1b1bac" fill-opacity="0.85"/>
<circle cx="93.12" cy="147.35" r="2.11" fill="#2323dd" fill-opacity="0.9" stroke="#2323dd" stroke-opacity="0.8" stroke-width="0.7"/><circle cx="93.12" cy="147.35" r="1.19" fill="#1b1bac" fill-opacity="0.85"/>
<circle cx="103.53" cy="172.12" r="2.11" fill="#3ddc84" fill-opacity="0.9" stroke="#3ddc84" stroke-opacity="0.8" stroke-width="0.7"/><circle cx="103.53" cy="172.12" r="1.19" fill="#2fab66" fill-opacity="0.85"/>
<circle cx="104.86" cy="154.35" r="2.11" fill="#2ea828" fill-opacity="0.9" stroke="#2ea828" stroke-opacity="0.8" stroke-width="0.7"/><circle cx="104.86" cy="154.35" r="1.19" fill="#23831f" fill-opacity="0.85"/>
<circle cx="102.89" cy="158.53" r="2.11" fill="#d41fc0" fill-opacity="0.9" stroke="#d41fc0" stroke-opacity="0.8" stroke-width="0.7"/><circle cx="102.89" cy="158.53" r="1.19" fill="#a51895" fill-opacity="0.85"/>
<circle cx="103.92" cy="151.86" r="2.11" fill="#4a90f5" fill-opacity="0.9" stroke="#4a90f5" stroke-opacity="0.8" stroke-width="0.7"/><circle cx="103.92" cy="151.86" r="1.19" fill="#3970bf" fill-opacity="0.85"/>
<circle cx="119.37" cy="152.3" r="2.11" fill="#2323dd" fill-opacity="0.9" stroke="#2323dd" stroke-opacity="0.8" stroke-width="0.7"/><circle cx="119.37" cy="152.3" r="1.19" fill="#1b1bac" fill-opacity="0.85"/>
<circle cx="113.48" cy="157.84" r="2.11" fill="#2e8b57" fill-opacity="0.9" stroke="#2e8b57" stroke-opacity="0.8" stroke-width="0.7"/><circle cx="113.48" cy="157.84" r="1.19" fill="#236c43" fill-opacity="0.85"/>
<circle cx="99.5" cy="160.52" r="2.11" fill="#3ddc84" fill-opacity="0.9" stroke="#3ddc84" stroke-opacity="0.8" stroke-width="0.7"/><circle cx="99.5" cy="160.52" r="1.19" fill="#2fab66" fill-opacity="0.85"/>
<circle cx="119.85" cy="145.81" r="2.11" fill="#2ea828" fill-opacity="0.9" stroke="#2ea828" stroke-opacity="0.8" stroke-width="0.7"/><circle cx="119.85" cy="145.81" r="1.19" fill="#23831f" fill-opacity="0.85"/>
<circle cx="120.99" cy="154.17" r="2.11" fill="#4a90f5" fill-opacity="0.9" stroke="#4a90f5" stroke-opacity="0.8" stroke-width="0.7"/><circle cx="120.99" cy="154.17" r="1.19" fill="#3970bf" fill-opacity="0.85"/>
<circle cx="112.08" cy="159.16" r="2.11" fill="#2ea828" fill-opacity="0.9" stroke="#2ea828" stroke-opacity="0.8" stroke-width="0.7"/><circle cx="112.08" cy="159.16" r="1.19" fill="#23831f" fill-opacity="0.85"/>
<circle cx="91.11" cy="144.37" r="2.11" fill="#3ddc84" fill-opacity="0.9" stroke="#3ddc84" stroke-opacity="0.8" stroke-width="0.7"/><circle cx="91.11" cy="144.37" r="1.19" fill="#2fab66" fill-opacity="0.85"/>
<circle cx="114.59" cy="141.07" r="2.11" fill="#2323dd" fill-opacity="0.9" stroke="#2323dd" stroke-opacity="0.8" stroke-width="0.7"/><circle cx="114.59" cy="141.07" r="1.19" fill="#1b1bac" fill-opacity="0.85"/>
<circle cx="121.11" cy="148.22" r="2.11" fill="#d41fc0" fill-opacity="0.9" stroke="#d41fc0" stroke-opacity="0.8" stroke-width="0.7"/><circle cx="121.11" cy="148.22" r="1.19" fill="#a51895" fill-opacity="0.85"/>
<circle cx="121.61" cy="147.12" r="2.11" fill="#2ea828" fill-opacity="0.9" stroke="#2ea828" stroke-opacity="0.8" stroke-width="0.7"/><circle cx="121.61" cy="147.12" r="1.19" fill="#23831f" fill-opacity="0.85"/>
<circle cx="93.21" cy="148.31" r="2.11" fill="#2ea828" fill-opacity="0.9" stroke="#2ea828" stroke-opacity="0.8" stroke-width="0.7"/><circle cx="93.21" cy="148.31" r="1.19" fill="#23831f" fill-opacity="0.85"/>
<circle cx="94.36" cy="147.97" r="2.11" fill="#2ea828" fill-opacity="0.9" stroke="#2ea828" stroke-opacity="0.8" stroke-width="0.7"/><circle cx="94.36" cy="147.97" r="1.19" fill="#23831f" fill-opacity="0.85"/>
<circle cx="108.55" cy="172.7" r="2.11" fill="#2ea828" fill-opacity="0.9" stroke="#2ea828" stroke-opacity="0.8" stroke-width="0.7"/><circle cx="108.55" cy="172.7" r="1.19" fill="#23831f" fill-opacity="0.85"/>
<circle cx="114.56" cy="158.84" r="2.11" fill="#2323dd" fill-opacity="0.9" stroke="#2323dd" stroke-opacity="0.8" stroke-width="0.7"/><circle cx="114.56" cy="158.84" r="1.19" fill="#1b1bac" fill-opacity="0.85"/>
<circle cx="110.07" cy="163.72" r="2.11" fill="#d41fc0" fill-opacity="0.9" stroke="#d41fc0" stroke-opacity="0.8" stroke-width="0.7"/><circle cx="110.07" cy="163.72" r="1.19" fill="#a51895" fill-opacity="0.85"/>
<circle cx="124.51" cy="146.91" r="2.11" fill="#2ea828" fill-opacity="0.9" stroke="#2ea828" stroke-opacity="0.8" stroke-width="0.7"/><circle cx="124.51" cy="146.91" r="1.19" fill="#23831f" fill-opacity="0.85"/>
<circle cx="125.24" cy="145.8" r="2.11" fill="#3ddc84" fill-opacity="0.9" stroke="#3ddc84" stroke-opacity="0.8" stroke-width="0.7"/><circle cx="125.24" cy="145.8" r="1.19" fill="#2fab66" fill-opacity="0.85"/>
<circle cx="100.23" cy="166.63" r="2.11" fill="#333333" fill-opacity="0.9" stroke="#333333" stroke-opacity="0.8" stroke-width="0.7"/><circle cx="100.23" cy="166.63" r="1.19" fill="#272727" fill-opacity="0.85"/>
<circle cx="108.34" cy="159.77" r="2.11" fill="#2ea828" fill-opacity="0.9" stroke="#2ea828" stroke-opacity="0.8" stroke-width="0.7"/><circle cx="108.34" cy="159.77" r="1.19" fill="#23831f" fill-opacity="0.85"/>
<circle cx="111.93" cy="141.03" r="2.11" fill="#e31a1c" fill-opacity="0.9" stroke="#e31a1c" stroke-opacity="0.8" stroke-width="0.7"/><circle cx="111.93" cy="141.03" r="1.19" fill="#b11415" fill-opacity="0.85"/>
<circle cx="99.25" cy="156.96" r="2.11" fill="#2ea828" fill-opacity="0.9" stroke="#2ea828" stroke-opacity="0.8" stroke-width="0.7"/><circle cx="99.25" cy="156.96" r="1.19" fill="#23831f" fill-opacity="0.85"/>
<circle cx="120.3" cy="153.53" r="2.11" fill="#3ddc84" fill-opacity="0.9" stroke="#3ddc84" stroke-opacity="0.8" stroke-width="0.7"/><circle cx="120.3" cy="153.53" r="1.19" fill="#2fab66" fill-opacity="0.85"/>
<circle cx="111.69" cy="141.67" r="2.11" fill="#2ea828" fill-opacity="0.9" stroke="#2ea828" stroke-opacity="0.8" stroke-width="0.7"/><circle cx="111.69" cy="141.67" r="1.19" fill="#23831f" fill-opacity="0.85"/>
<circle cx="113.44" cy="164.8" r="2.11" fill="#4a90f5" fill-opacity="0.9" stroke="#4a90f5" stroke-opacity="0.8" stroke-width="0.7"/><circle cx="113.44" cy="164.8" r="1.19" fill="#3970bf" fill-opacity="0.85"/>
<circle cx="102.46" cy="150.09" r="2.11" fill="#2ea828" fill-opacity="0.9" stroke="#2ea828" stroke-opacity="0.8" stroke-width="0.7"/><circle cx="102.46" cy="150.09" r="1.19" fill="#23831f" fill-opacity="0.85"/>
<circle cx="109.57" cy="150.09" r="2.11" fill="#4a90f5" fill-opacity="0.9" stroke="#4a90f5" stroke-opacity="0.8" stroke-width="0.7"/><circle cx="109.57" cy="150.09" r="1.19" fill="#3970bf" fill-opacity="0.85"/>
<circle cx="106.74" cy="168.91" r="2.11" fill="#2ea828" fill-opacity="0.9" stroke="#2ea828" stroke-opacity="0.8" stroke-width="0.7"/><circle cx="106.74" cy="168.91" r="1.19" fill="#23831f" fill-opacity="0.85"/>
<circle cx="89.07" cy="145.75" r="2.11" fill="#2ea828" fill-opacity="0.9" stroke="#2ea828" stroke-opacity="0.8" stroke-width="0.7"/><circle cx="89.07" cy="145.75" r="1.19" fill="#23831f" fill-opacity="0.85"/>
<circle cx="123.81" cy="146.27" r="2.11" fill="#2ea828" fill-opacity="0.9" stroke="#2ea828" stroke-opacity="0.8" stroke-width="0.7"/><circle cx="123.81" cy="146.27" r="1.19" fill="#23831f" fill-opacity="0.85"/>
<circle cx="64.3" cy="28.4" r="2.55" fill="#2ea828" fill-opacity="0.58" stroke="#227e1e" stroke-opacity="0.8" stroke-width="1.0"/>
<circle cx="79.6" cy="42.8" r="2.55" fill="#2ea828" fill-opacity="0.58" stroke="#227e1e" stroke-opacity="0.8" stroke-width="1.0"/>
<circle cx="64.3" cy="49.6" r="2.55" fill="#2323dd" fill-opacity="0.58" stroke="#1a1aa5" stroke-opacity="0.8" stroke-width="1.0"/>
<circle cx="70.3" cy="53.3" r="2.55" fill="#2ea828" fill-opacity="0.58" stroke="#227e1e" stroke-opacity="0.8" stroke-width="1.0"/>
<circle cx="68.4" cy="57.1" r="2.55" fill="#2ea828" fill-opacity="0.58" stroke="#227e1e" stroke-opacity="0.8" stroke-width="1.0"/>
<circle cx="69" cy="65" r="2.55" fill="#2ea828" fill-opacity="0.58" stroke="#227e1e" stroke-opacity="0.8" stroke-width="1.0"/>
<rect x="72.25" y="79.15" width="5.5" height="5.5" fill="#2e9a28" fill-opacity="0.6" stroke="#2e9a28" stroke-opacity="0.8" stroke-width="0.5"/><rect x="73.7" y="80.6" width="2.6" height="2.6" fill="#23781f" fill-opacity="0.85"/>
<circle cx="48.7" cy="91.2" r="2.55" fill="#4a90f5" fill-opacity="0.58" stroke="#376cb7" stroke-opacity="0.8" stroke-width="1.0"/>
<rect x="49.35" y="91.25" width="5.5" height="5.5" fill="#3d8bea" fill-opacity="0.6" stroke="#3d8bea" stroke-opacity="0.8" stroke-width="0.5"/><rect x="50.8" y="92.7" width="2.6" height="2.6" fill="#2f6cb6" fill-opacity="0.85"/>
<circle cx="68.4" cy="91.6" r="2.55" fill="#d41fc0" fill-opacity="0.58" stroke="#9f1790" stroke-opacity="0.8" stroke-width="1.0"/>
<circle cx="75.9" cy="89.3" r="2.55" fill="#2323dd" fill-opacity="0.58" stroke="#1a1aa5" stroke-opacity="0.8" stroke-width="1.0"/>
<circle cx="63.7" cy="94" r="2.55" fill="#4a90f5" fill-opacity="0.58" stroke="#376cb7" stroke-opacity="0.8" stroke-width="1.0"/>
<rect x="56.25" y="95.05" width="5.5" height="5.5" fill="#2e9a28" fill-opacity="0.6" stroke="#2e9a28" stroke-opacity="0.8" stroke-width="0.5"/><rect x="57.7" y="96.5" width="2.6" height="2.6" fill="#23781f" fill-opacity="0.85"/>
<circle cx="68.4" cy="96.8" r="2.55" fill="#2e8b57" fill-opacity="0.58" stroke="#226841" stroke-opacity="0.8" stroke-width="1.0"/>
<circle cx="73.4" cy="99.6" r="2.55" fill="#4a90f5" fill-opacity="0.58" stroke="#376cb7" stroke-opacity="0.8" stroke-width="1.0"/>
<circle cx="55.3" cy="101.5" r="2.55" fill="#2323dd" fill-opacity="0.58" stroke="#1a1aa5" stroke-opacity="0.8" stroke-width="1.0"/>
<circle cx="46.5" cy="103.4" r="2.55" fill="#2ea828" fill-opacity="0.58" stroke="#227e1e" stroke-opacity="0.8" stroke-width="1.0"/>
<circle cx="65.6" cy="106.2" r="2.15" fill="#fff" fill-opacity="0.7" stroke="#3ddc84" stroke-opacity="0.9" stroke-width="2"/>
<circle cx="70.3" cy="105.3" r="2.7" fill="#2ea828" fill-opacity="0.72" stroke="#248620" stroke-opacity="0.8" stroke-width="0.6"/><path d="M68.2 105.3h4.2M70.3 103.2v4.2" stroke="#fff" stroke-width="0.9"/>
<rect x="49.35" y="106.25" width="5.5" height="5.5" fill="#2e9a28" fill-opacity="0.6" stroke="#2e9a28" stroke-opacity="0.8" stroke-width="0.5"/><rect x="50.8" y="107.7" width="2.6" height="2.6" fill="#23781f" fill-opacity="0.85"/>
<path d="M65.6 106.6L69 110L65.6 113.4L62.2 110Z" fill="#ff9a1f" fill-opacity="0.8"/><path d="M65.6 108.5L67.1 110L65.6 111.5L64.1 110Z" fill="#ffd21f"/>
<circle cx="75" cy="108" r="2.55" fill="#2ea828" fill-opacity="0.58" stroke="#227e1e" stroke-opacity="0.8" stroke-width="1.0"/>
<circle cx="73" cy="113.3" r="2.55" fill="#d41fc0" fill-opacity="0.58" stroke="#9f1790" stroke-opacity="0.8" stroke-width="1.0"/>
<circle cx="48.7" cy="118.4" r="2.55" fill="#2e8b57" fill-opacity="0.58" stroke="#226841" stroke-opacity="0.8" stroke-width="1.0"/>
<circle cx="55.3" cy="118.4" r="2.55" fill="#3ddc84" fill-opacity="0.58" stroke="#2da563" stroke-opacity="0.8" stroke-width="1.0"/>
<circle cx="60.9" cy="117.5" r="2.55" fill="#d41fc0" fill-opacity="0.58" stroke="#9f1790" stroke-opacity="0.8" stroke-width="1.0"/>
<circle cx="67.5" cy="116.6" r="2.55" fill="#2ea828" fill-opacity="0.58" stroke="#227e1e" stroke-opacity="0.8" stroke-width="1.0"/>
<circle cx="70.3" cy="121.2" r="2.55" fill="#4a90f5" fill-opacity="0.58" stroke="#376cb7" stroke-opacity="0.8" stroke-width="1.0"/>
<circle cx="76.8" cy="115.6" r="2.55" fill="#2ea828" fill-opacity="0.58" stroke="#227e1e" stroke-opacity="0.8" stroke-width="1.0"/>
<circle cx="45.9" cy="122.7" r="2.55" fill="#d41fc0" fill-opacity="0.58" stroke="#9f1790" stroke-opacity="0.8" stroke-width="1.0"/>
<circle cx="51.5" cy="125.9" r="2.55" fill="#333333" fill-opacity="0.58" stroke="#262626" stroke-opacity="0.8" stroke-width="1.0"/>
<circle cx="47.8" cy="126.9" r="2.55" fill="#2e8b57" fill-opacity="0.58" stroke="#226841" stroke-opacity="0.8" stroke-width="1.0"/>
<circle cx="59" cy="124" r="2.55" fill="#4a90f5" fill-opacity="0.58" stroke="#376cb7" stroke-opacity="0.8" stroke-width="1.0"/>
<circle cx="60.9" cy="128.7" r="2.55" fill="#4a90f5" fill-opacity="0.58" stroke="#376cb7" stroke-opacity="0.8" stroke-width="1.0"/>
<circle cx="70.3" cy="128.7" r="2.55" fill="#d41fc0" fill-opacity="0.58" stroke="#9f1790" stroke-opacity="0.8" stroke-width="1.0"/>
<circle cx="75.9" cy="125" r="2.55" fill="#2ea828" fill-opacity="0.58" stroke="#227e1e" stroke-opacity="0.8" stroke-width="1.0"/>
<circle cx="64.6" cy="132.5" r="2.55" fill="#333333" fill-opacity="0.58" stroke="#262626" stroke-opacity="0.8" stroke-width="1.0"/>
<circle cx="66.5" cy="134.3" r="2.55" fill="#2ea828" fill-opacity="0.58" stroke="#227e1e" stroke-opacity="0.8" stroke-width="1.0"/>
<circle cx="75.9" cy="130.6" r="2.55" fill="#d41fc0" fill-opacity="0.58" stroke="#9f1790" stroke-opacity="0.8" stroke-width="1.0"/>
<circle cx="76.8" cy="135.3" r="2.55" fill="#2ea828" fill-opacity="0.58" stroke="#227e1e" stroke-opacity="0.8" stroke-width="1.0"/>
<circle cx="41.2" cy="139" r="2.55" fill="#4a90f5" fill-opacity="0.58" stroke="#376cb7" stroke-opacity="0.8" stroke-width="1.0"/>
<rect x="59.54" y="139.55" width="4.51" height="4.51" fill="#2e9a28" fill-opacity="0.94" stroke="#2e9a28" stroke-opacity="0.8" stroke-width="0.5"/><rect x="60.73" y="140.73" width="2.13" height="2.13" fill="#23781f" fill-opacity="0.85"/>
<rect x="64.25" y="139.55" width="4.51" height="4.51" fill="#2e9a28" fill-opacity="0.94" stroke="#2e9a28" stroke-opacity="0.8" stroke-width="0.5"/><rect x="65.43" y="140.73" width="2.13" height="2.13" fill="#23781f" fill-opacity="0.85"/>
<circle cx="71.6" cy="140.9" r="2.11" fill="#2e8b57" fill-opacity="0.9" stroke="#2e8b57" stroke-opacity="0.8" stroke-width="0.7"/><circle cx="71.6" cy="140.9" r="1.19" fill="#236c43" fill-opacity="0.85"/>
<circle cx="78.7" cy="140.9" r="2.11" fill="#333333" fill-opacity="0.9" stroke="#333333" stroke-opacity="0.8" stroke-width="0.7"/><circle cx="78.7" cy="140.9" r="1.19" fill="#272727" fill-opacity="0.85"/>
<rect x="75.55" y="143.34" width="4.51" height="4.51" fill="#2e9a28" fill-opacity="0.94" stroke="#2e9a28" stroke-opacity="0.8" stroke-width="0.5"/><rect x="76.73" y="144.53" width="2.13" height="2.13" fill="#23781f" fill-opacity="0.85"/>
<circle cx="73.1" cy="151.6" r="2.11" fill="#333333" fill-opacity="0.9" stroke="#333333" stroke-opacity="0.8" stroke-width="0.7"/><circle cx="73.1" cy="151.6" r="1.19" fill="#272727" fill-opacity="0.85"/>
<circle cx="77.8" cy="150.8" r="2.11" fill="#4a90f5" fill-opacity="0.9" stroke="#4a90f5" stroke-opacity="0.8" stroke-width="0.7"/><circle cx="77.8" cy="150.8" r="1.19" fill="#3970bf" fill-opacity="0.85"/>
<circle cx="76.4" cy="155" r="2.11" fill="#3ddc84" fill-opacity="0.9" stroke="#3ddc84" stroke-opacity="0.8" stroke-width="0.7"/><circle cx="76.4" cy="155" r="1.19" fill="#2fab66" fill-opacity="0.85"/>
<circle cx="49.3" cy="157.4" r="2.11" fill="#2ea828" fill-opacity="0.9" stroke="#2ea828" stroke-opacity="0.8" stroke-width="0.7"/><circle cx="49.3" cy="157.4" r="1.19" fill="#23831f" fill-opacity="0.85"/>
<circle cx="40.3" cy="169.6" r="2.11" fill="#4a90f5" fill-opacity="0.9" stroke="#4a90f5" stroke-opacity="0.8" stroke-width="0.7"/><circle cx="40.3" cy="169.6" r="1.19" fill="#3970bf" fill-opacity="0.85"/>
<circle cx="76.8" cy="162.8" r="2.11" fill="#3ddc84" fill-opacity="0.9" stroke="#3ddc84" stroke-opacity="0.8" stroke-width="0.7"/><circle cx="76.8" cy="162.8" r="1.19" fill="#2fab66" fill-opacity="0.85"/>
<circle cx="79" cy="168.5" r="2.11" fill="#4a90f5" fill-opacity="0.9" stroke="#4a90f5" stroke-opacity="0.8" stroke-width="0.7"/><circle cx="79" cy="168.5" r="1.19" fill="#3970bf" fill-opacity="0.85"/>
<circle cx="78.3" cy="146.6" r="2.11" fill="#2ea828" fill-opacity="0.9" stroke="#2ea828" stroke-opacity="0.8" stroke-width="0.7"/><circle cx="78.3" cy="146.6" r="1.19" fill="#23831f" fill-opacity="0.85"/>
<circle cx="117.7" cy="35" r="2.55" fill="#4a90f5" fill-opacity="0.58" stroke="#376cb7" stroke-opacity="0.8" stroke-width="1.0"/>
<circle cx="80.8" cy="42.8" r="2.55" fill="#2ea828" fill-opacity="0.58" stroke="#227e1e" stroke-opacity="0.8" stroke-width="1.0"/>
<circle cx="85.9" cy="59.3" r="2.55" fill="#4a90f5" fill-opacity="0.58" stroke="#376cb7" stroke-opacity="0.8" stroke-width="1.0"/>
<path d="M98.6 68.4L101.83 62.62L95.37 62.62Z" fill="#e8cc3a" stroke="#8a2be2" stroke-width="1.3"/>
<circle cx="127" cy="59.7" r="2.55" fill="#4a90f5" fill-opacity="0.58" stroke="#376cb7" stroke-opacity="0.8" stroke-width="1.0"/>
<circle cx="125.8" cy="67.8" r="2.55" fill="#4a90f5" fill-opacity="0.58" stroke="#376cb7" stroke-opacity="0.8" stroke-width="1.0"/>
<circle cx="85.9" cy="74.4" r="2.55" fill="#4a90f5" fill-opacity="0.58" stroke="#376cb7" stroke-opacity="0.8" stroke-width="1.0"/>
<circle cx="84.6" cy="79.6" r="2.55" fill="#2ea828" fill-opacity="0.58" stroke="#227e1e" stroke-opacity="0.8" stroke-width="1.0"/>
<circle cx="87.4" cy="80.9" r="2.55" fill="#2ea828" fill-opacity="0.58" stroke="#227e1e" stroke-opacity="0.8" stroke-width="1.0"/>
<path d="M93.9 79.4L97.3 82.8L93.9 86.2L90.5 82.8Z" fill="#ff9a1f" fill-opacity="0.8"/><path d="M93.9 81.3L95.4 82.8L93.9 84.3L92.4 82.8Z" fill="#ffd21f"/>
<rect x="89.25" y="83.25" width="5.5" height="5.5" fill="#2e9a28" fill-opacity="0.6" stroke="#2e9a28" stroke-opacity="0.8" stroke-width="0.5"/><rect x="90.7" y="84.7" width="2.6" height="2.6" fill="#23781f" fill-opacity="0.85"/>
<rect x="80.45" y="85.65" width="5.5" height="5.5" fill="#3d8bea" fill-opacity="0.6" stroke="#3d8bea" stroke-opacity="0.8" stroke-width="0.5"/><rect x="81.9" y="87.1" width="2.6" height="2.6" fill="#2f6cb6" fill-opacity="0.85"/>
<circle cx="83.6" cy="83.7" r="2.55" fill="#4a90f5" fill-opacity="0.58" stroke="#376cb7" stroke-opacity="0.8" stroke-width="1.0"/>
<circle cx="88.3" cy="93.1" r="2.55" fill="#2e8b57" fill-opacity="0.58" stroke="#226841" stroke-opacity="0.8" stroke-width="1.0"/>
<circle cx="84.6" cy="95.9" r="2.55" fill="#2323dd" fill-opacity="0.58" stroke="#1a1aa5" stroke-opacity="0.8" stroke-width="1.0"/>
<circle cx="79.9" cy="92.2" r="2.55" fill="#2ea828" fill-opacity="0.58" stroke="#227e1e" stroke-opacity="0.8" stroke-width="1.0"/>
<circle cx="89.2" cy="89.3" r="2.55" fill="#4a90f5" fill-opacity="0.58" stroke="#376cb7" stroke-opacity="0.8" stroke-width="1.0"/>
<circle cx="85.5" cy="103.4" r="2.55" fill="#d66ad8" fill-opacity="0.58" stroke="#a04fa2" stroke-opacity="0.8" stroke-width="1.0"/>
<circle cx="80.8" cy="102.5" r="2.55" fill="#4a90f5" fill-opacity="0.58" stroke="#376cb7" stroke-opacity="0.8" stroke-width="1.0"/>
<circle cx="92" cy="105.3" r="2.55" fill="#2ea828" fill-opacity="0.58" stroke="#227e1e" stroke-opacity="0.8" stroke-width="1.0"/>
<circle cx="99.5" cy="104.3" r="2.55" fill="#4a90f5" fill-opacity="0.58" stroke="#376cb7" stroke-opacity="0.8" stroke-width="1.0"/>
<circle cx="89.2" cy="110" r="2.55" fill="#2ea828" fill-opacity="0.58" stroke="#227e1e" stroke-opacity="0.8" stroke-width="1.0"/>
<circle cx="95.2" cy="109" r="2.55" fill="#d66ad8" fill-opacity="0.58" stroke="#a04fa2" stroke-opacity="0.8" stroke-width="1.0"/>
<circle cx="98.6" cy="110.9" r="2.55" fill="#2ea828" fill-opacity="0.58" stroke="#227e1e" stroke-opacity="0.8" stroke-width="1.0"/>
<circle cx="116.4" cy="77.2" r="2.55" fill="#2ea828" fill-opacity="0.58" stroke="#227e1e" stroke-opacity="0.8" stroke-width="1.0"/>
<circle cx="123" cy="77.2" r="2.55" fill="#2ea828" fill-opacity="0.58" stroke="#227e1e" stroke-opacity="0.8" stroke-width="1.0"/>
<path d="M122 80.3L125.4 83.7L122 87.1L118.6 83.7Z" fill="#8b4513" fill-opacity="0.8"/><path d="M122 82.2L123.5 83.7L122 85.2L120.5 83.7Z" fill="#6c350e"/>
<rect x="117.35" y="84.35" width="5.5" height="5.5" fill="#2e9a28" fill-opacity="0.6" stroke="#2e9a28" stroke-opacity="0.8" stroke-width="0.5"/><rect x="118.8" y="85.8" width="2.6" height="2.6" fill="#23781f" fill-opacity="0.85"/>
<circle cx="127" cy="81.9" r="2.55" fill="#4a90f5" fill-opacity="0.58" stroke="#376cb7" stroke-opacity="0.8" stroke-width="1.0"/>
<circle cx="120.1" cy="95" r="2.55" fill="#4a90f5" fill-opacity="0.58" stroke="#376cb7" stroke-opacity="0.8" stroke-width="1.0"/>
<circle cx="124.8" cy="93.1" r="2.55" fill="#2ea828" fill-opacity="0.58" stroke="#227e1e" stroke-opacity="0.8" stroke-width="1.0"/>
<circle cx="118.3" cy="101.5" r="2.55" fill="#2ea828" fill-opacity="0.58" stroke="#227e1e" stroke-opacity="0.8" stroke-width="1.0"/>
<circle cx="121" cy="105.3" r="2.55" fill="#2323dd" fill-opacity="0.58" stroke="#1a1aa5" stroke-opacity="0.8" stroke-width="1.0"/>
<circle cx="116.4" cy="110" r="2.55" fill="#2ea828" fill-opacity="0.58" stroke="#227e1e" stroke-opacity="0.8" stroke-width="1.0"/>
<circle cx="123" cy="110" r="2.55" fill="#2ea828" fill-opacity="0.58" stroke="#227e1e" stroke-opacity="0.8" stroke-width="1.0"/>
<path d="M101.4 116.6L104.8 120L101.4 123.4L98 120Z" fill="#ff9a1f" fill-opacity="0.8"/><path d="M101.4 118.5L102.9 120L101.4 121.5L99.9 120Z" fill="#ffd21f"/>
<path d="M110.2 115.6L113.6 119L110.2 122.4L106.8 119Z" fill="#ff9a1f" fill-opacity="0.8"/><path d="M110.2 117.5L111.7 119L110.2 120.5L108.7 119Z" fill="#ffd21f"/>
<path d="M94.9 123.1L98.3 126.5L94.9 129.9L91.5 126.5Z" fill="#e07a1f" fill-opacity="0.8"/><path d="M94.9 125L96.4 126.5L94.9 128L93.4 126.5Z" fill="#ae5f18"/>
<path d="M115.5 125.9L118.9 129.3L115.5 132.7L112.1 129.3Z" fill="#e07a1f" fill-opacity="0.8"/><path d="M115.5 127.8L117 129.3L115.5 130.8L114 129.3Z" fill="#ae5f18"/>
<circle cx="144.8" cy="43.6" r="2.55" fill="#2ea828" fill-opacity="0.58" stroke="#227e1e" stroke-opacity="0.8" stroke-width="1.0"/>
<circle cx="127.7" cy="60" r="2.55" fill="#4a90f5" fill-opacity="0.58" stroke="#376cb7" stroke-opacity="0.8" stroke-width="1.0"/>
<rect x="145.15" y="60.65" width="5.5" height="5.5" fill="#3d8bea" fill-opacity="0.6" stroke="#3d8bea" stroke-opacity="0.8" stroke-width="0.5"/><rect x="146.6" y="62.1" width="2.6" height="2.6" fill="#2f6cb6" fill-opacity="0.85"/>
<rect x="157.05" y="63.95" width="5.5" height="5.5" fill="#2e9a28" fill-opacity="0.6" stroke="#2e9a28" stroke-opacity="0.8" stroke-width="0.5"/><rect x="158.5" y="65.4" width="2.6" height="2.6" fill="#23781f" fill-opacity="0.85"/>
<circle cx="126.1" cy="67.6" r="2.55" fill="#4a90f5" fill-opacity="0.58" stroke="#376cb7" stroke-opacity="0.8" stroke-width="1.0"/>
<rect x="126.25" y="72.95" width="5.5" height="5.5" fill="#2e9a28" fill-opacity="0.6" stroke="#2e9a28" stroke-opacity="0.8" stroke-width="0.5"/><rect x="127.7" y="74.4" width="2.6" height="2.6" fill="#23781f" fill-opacity="0.85"/>
<rect x="136.15" y="70.75" width="5.5" height="5.5" fill="#2e9a28" fill-opacity="0.6" stroke="#2e9a28" stroke-opacity="0.8" stroke-width="0.5"/><rect x="137.6" y="72.2" width="2.6" height="2.6" fill="#23781f" fill-opacity="0.85"/>
<circle cx="148.6" cy="76.2" r="2.55" fill="#e31a1c" fill-opacity="0.58" stroke="#aa1315" stroke-opacity="0.8" stroke-width="1.0"/>
<circle cx="135.1" cy="77.3" r="2.55" fill="#4a90f5" fill-opacity="0.58" stroke="#376cb7" stroke-opacity="0.8" stroke-width="1.0"/>
<circle cx="163.2" cy="78.9" r="2.55" fill="#4a90f5" fill-opacity="0.58" stroke="#376cb7" stroke-opacity="0.8" stroke-width="1.0"/>
<circle cx="145.2" cy="82.4" r="2.55" fill="#2ea828" fill-opacity="0.58" stroke="#227e1e" stroke-opacity="0.8" stroke-width="1.0"/>
<circle cx="160.5" cy="90.7" r="2.55" fill="#4a90f5" fill-opacity="0.58" stroke="#376cb7" stroke-opacity="0.8" stroke-width="1.0"/>
<circle cx="148.1" cy="98.1" r="2.15" fill="#fff" fill-opacity="0.7" stroke="#3ddc84" stroke-opacity="0.9" stroke-width="2"/>
<path d="M171.7 101.4L174.93 107.18L168.47 107.18Z" fill="#f5c020" stroke="#e31a1c" stroke-width="1.4" stroke-linejoin="miter"/>
<circle cx="167.2" cy="104.8" r="2.55" fill="#4a90f5" fill-opacity="0.58" stroke="#376cb7" stroke-opacity="0.8" stroke-width="1.0"/>
<rect x="168.35" y="108.85" width="5.5" height="5.5" fill="#3d8bea" fill-opacity="0.6" stroke="#3d8bea" stroke-opacity="0.8" stroke-width="0.5"/><rect x="169.8" y="110.3" width="2.6" height="2.6" fill="#2f6cb6" fill-opacity="0.85"/>
<circle cx="165.4" cy="113.1" r="2.55" fill="#4a90f5" fill-opacity="0.58" stroke="#376cb7" stroke-opacity="0.8" stroke-width="1.0"/>
<circle cx="159.8" cy="106" r="2.55" fill="#4a90f5" fill-opacity="0.58" stroke="#376cb7" stroke-opacity="0.8" stroke-width="1.0"/>
<rect x="151.45" y="103.25" width="5.5" height="5.5" fill="#3d8bea" fill-opacity="0.6" stroke="#3d8bea" stroke-opacity="0.8" stroke-width="0.5"/><rect x="152.9" y="104.7" width="2.6" height="2.6" fill="#2f6cb6" fill-opacity="0.85"/>
<rect x="146.95" y="103.25" width="5.5" height="5.5" fill="#3d8bea" fill-opacity="0.6" stroke="#3d8bea" stroke-opacity="0.8" stroke-width="0.5"/><rect x="148.4" y="104.7" width="2.6" height="2.6" fill="#2f6cb6" fill-opacity="0.85"/>
<rect x="151.45" y="111.05" width="5.5" height="5.5" fill="#2e9a28" fill-opacity="0.6" stroke="#2e9a28" stroke-opacity="0.8" stroke-width="0.5"/><rect x="152.9" y="112.5" width="2.6" height="2.6" fill="#23781f" fill-opacity="0.85"/>
<circle cx="162.1" cy="120.6" r="2.55" fill="#4a90f5" fill-opacity="0.58" stroke="#376cb7" stroke-opacity="0.8" stroke-width="1.0"/>
<circle cx="163.2" cy="122.8" r="2.55" fill="#2ea828" fill-opacity="0.58" stroke="#227e1e" stroke-opacity="0.8" stroke-width="1.0"/>
<circle cx="171.1" cy="123.9" r="2.55" fill="#4a90f5" fill-opacity="0.58" stroke="#376cb7" stroke-opacity="0.8" stroke-width="1.0"/>
<circle cx="140.7" cy="106" r="2.55" fill="#2323dd" fill-opacity="0.58" stroke="#1a1aa5" stroke-opacity="0.8" stroke-width="1.0"/>
<circle cx="144.8" cy="115" r="2.55" fill="#2323dd" fill-opacity="0.58" stroke="#1a1aa5" stroke-opacity="0.8" stroke-width="1.0"/>
<circle cx="144.1" cy="122.8" r="2.55" fill="#2323dd" fill-opacity="0.58" stroke="#1a1aa5" stroke-opacity="0.8" stroke-width="1.0"/>
<circle cx="171.1" cy="124" r="2.55" fill="#4a90f5" fill-opacity="0.58" stroke="#376cb7" stroke-opacity="0.8" stroke-width="1.0"/>
<circle cx="174" cy="130.8" r="2.55" fill="#4a90f5" fill-opacity="0.58" stroke="#376cb7" stroke-opacity="0.8" stroke-width="1.0"/>
<circle cx="161" cy="129" r="2.55" fill="#4a90f5" fill-opacity="0.58" stroke="#376cb7" stroke-opacity="0.8" stroke-width="1.0"/>
<circle cx="159.8" cy="135.7" r="2.55" fill="#4a90f5" fill-opacity="0.58" stroke="#376cb7" stroke-opacity="0.8" stroke-width="1.0"/>
<circle cx="163.2" cy="123.4" r="2.55" fill="#2ea828" fill-opacity="0.58" stroke="#227e1e" stroke-opacity="0.8" stroke-width="1.0"/>
<circle cx="152" cy="140.2" r="2.11" fill="#2ea828" fill-opacity="0.9" stroke="#2ea828" stroke-opacity="0.8" stroke-width="0.7"/><circle cx="152" cy="140.2" r="1.19" fill="#23831f" fill-opacity="0.85"/>
<circle cx="155.3" cy="144.7" r="2.11" fill="#2ea828" fill-opacity="0.9" stroke="#2ea828" stroke-opacity="0.8" stroke-width="0.7"/><circle cx="155.3" cy="144.7" r="1.19" fill="#23831f" fill-opacity="0.85"/>
<circle cx="161" cy="149.2" r="2.11" fill="#4a90f5" fill-opacity="0.9" stroke="#4a90f5" stroke-opacity="0.8" stroke-width="0.7"/><circle cx="161" cy="149.2" r="1.19" fill="#3970bf" fill-opacity="0.85"/>
<rect x="163.65" y="143.55" width="4.51" height="4.51" fill="#3d8bea" fill-opacity="0.94" stroke="#3d8bea" stroke-opacity="0.8" stroke-width="0.5"/><rect x="164.83" y="144.73" width="2.13" height="2.13" fill="#2f6cb6" fill-opacity="0.85"/>
<circle cx="140.7" cy="154.8" r="2.11" fill="#2ea828" fill-opacity="0.9" stroke="#2ea828" stroke-opacity="0.8" stroke-width="0.7"/><circle cx="140.7" cy="154.8" r="1.19" fill="#23831f" fill-opacity="0.85"/>
<circle cx="147.9" cy="154.8" r="2.11" fill="#3ddc84" fill-opacity="0.9" stroke="#3ddc84" stroke-opacity="0.8" stroke-width="0.7"/><circle cx="147.9" cy="154.8" r="1.19" fill="#2fab66" fill-opacity="0.85"/>
<circle cx="135.1" cy="151.5" r="2.11" fill="#4a90f5" fill-opacity="0.9" stroke="#4a90f5" stroke-opacity="0.8" stroke-width="0.7"/><circle cx="135.1" cy="151.5" r="1.19" fill="#3970bf" fill-opacity="0.85"/>
<circle cx="131.7" cy="162.7" r="2.11" fill="#333333" fill-opacity="0.9" stroke="#333333" stroke-opacity="0.8" stroke-width="0.7"/><circle cx="131.7" cy="162.7" r="1.19" fill="#272727" fill-opacity="0.85"/>
<circle cx="130.6" cy="164.5" r="2.11" fill="#d41fc0" fill-opacity="0.9" stroke="#d41fc0" stroke-opacity="0.8" stroke-width="0.7"/><circle cx="130.6" cy="164.5" r="1.19" fill="#a51895" fill-opacity="0.85"/>
<circle cx="140.7" cy="162.7" r="2.11" fill="#2ea828" fill-opacity="0.9" stroke="#2ea828" stroke-opacity="0.8" stroke-width="0.7"/><circle cx="140.7" cy="162.7" r="1.19" fill="#23831f" fill-opacity="0.85"/>
<circle cx="144.1" cy="163.8" r="2.11" fill="#2ea828" fill-opacity="0.9" stroke="#2ea828" stroke-opacity="0.8" stroke-width="0.7"/><circle cx="144.1" cy="163.8" r="1.19" fill="#23831f" fill-opacity="0.85"/>
<circle cx="135.8" cy="169.9" r="2.11" fill="#d66ad8" fill-opacity="0.9" stroke="#d66ad8" stroke-opacity="0.8" stroke-width="0.7"/><circle cx="135.8" cy="169.9" r="1.19" fill="#a652a8" fill-opacity="0.85"/>
<circle cx="138.9" cy="169.4" r="2.11" fill="#d66ad8" fill-opacity="0.9" stroke="#d66ad8" stroke-opacity="0.8" stroke-width="0.7"/><circle cx="138.9" cy="169.4" r="1.19" fill="#a652a8" fill-opacity="0.85"/>
<circle cx="144.1" cy="169" r="2.11" fill="#d66ad8" fill-opacity="0.9" stroke="#d66ad8" stroke-opacity="0.8" stroke-width="0.7"/><circle cx="144.1" cy="169" r="1.19" fill="#a652a8" fill-opacity="0.85"/>
<circle cx="150.8" cy="166.7" r="2.11" fill="#2ea828" fill-opacity="0.9" stroke="#2ea828" stroke-opacity="0.8" stroke-width="0.7"/><circle cx="150.8" cy="166.7" r="1.19" fill="#23831f" fill-opacity="0.85"/>
<circle cx="158.3" cy="167.2" r="2.11" fill="#2323dd" fill-opacity="0.9" stroke="#2323dd" stroke-opacity="0.8" stroke-width="0.7"/><circle cx="158.3" cy="167.2" r="1.19" fill="#1b1bac" fill-opacity="0.85"/>
<circle cx="153.1" cy="169.9" r="2.11" fill="#2323dd" fill-opacity="0.9" stroke="#2323dd" stroke-opacity="0.8" stroke-width="0.7"/><circle cx="153.1" cy="169.9" r="1.19" fill="#1b1bac" fill-opacity="0.85"/>
<circle cx="160.5" cy="169.9" r="2.11" fill="#2ea828" fill-opacity="0.9" stroke="#2ea828" stroke-opacity="0.8" stroke-width="0.7"/><circle cx="160.5" cy="169.9" r="1.19" fill="#23831f" fill-opacity="0.85"/>
<circle cx="128.2" cy="60.7" r="2.55" fill="#4a90f5" fill-opacity="0.58" stroke="#376cb7" stroke-opacity="0.8" stroke-width="1.0"/>
<circle cx="126" cy="68.2" r="2.55" fill="#4a90f5" fill-opacity="0.58" stroke="#376cb7" stroke-opacity="0.8" stroke-width="1.0"/>
<rect x="144.95" y="60.55" width="5.5" height="5.5" fill="#3d8bea" fill-opacity="0.6" stroke="#3d8bea" stroke-opacity="0.8" stroke-width="0.5"/><rect x="146.4" y="62" width="2.6" height="2.6" fill="#2f6cb6" fill-opacity="0.85"/>
<circle cx="117" cy="77.2" r="2.55" fill="#2ea828" fill-opacity="0.58" stroke="#227e1e" stroke-opacity="0.8" stroke-width="1.0"/>
<circle cx="122.2" cy="78" r="2.55" fill="#2ea828" fill-opacity="0.58" stroke="#227e1e" stroke-opacity="0.8" stroke-width="1.0"/>
<rect x="126.25" y="74.45" width="5.5" height="5.5" fill="#2e9a28" fill-opacity="0.6" stroke="#2e9a28" stroke-opacity="0.8" stroke-width="0.5"/><rect x="127.7" y="75.9" width="2.6" height="2.6" fill="#23781f" fill-opacity="0.85"/>
<circle cx="135.7" cy="76.5" r="2.55" fill="#4a90f5" fill-opacity="0.58" stroke="#376cb7" stroke-opacity="0.8" stroke-width="1.0"/>
<rect x="136.75" y="71.05" width="5.5" height="5.5" fill="#2e9a28" fill-opacity="0.6" stroke="#2e9a28" stroke-opacity="0.8" stroke-width="0.5"/><rect x="138.2" y="72.5" width="2.6" height="2.6" fill="#23781f" fill-opacity="0.85"/>
<circle cx="135.7" cy="81" r="2.55" fill="#4a90f5" fill-opacity="0.58" stroke="#376cb7" stroke-opacity="0.8" stroke-width="1.0"/>
<rect x="117.25" y="83.45" width="5.5" height="5.5" fill="#2e9a28" fill-opacity="0.6" stroke="#2e9a28" stroke-opacity="0.8" stroke-width="0.5"/><rect x="118.7" y="84.9" width="2.6" height="2.6" fill="#23781f" fill-opacity="0.85"/>
<circle cx="127.5" cy="84" r="2.55" fill="#4a90f5" fill-opacity="0.58" stroke="#376cb7" stroke-opacity="0.8" stroke-width="1.0"/>
<rect x="129.25" y="84.25" width="5.5" height="5.5" fill="#2e9a28" fill-opacity="0.6" stroke="#2e9a28" stroke-opacity="0.8" stroke-width="0.5"/><rect x="130.7" y="85.7" width="2.6" height="2.6" fill="#23781f" fill-opacity="0.85"/>
<circle cx="139.5" cy="86.2" r="2.55" fill="#4a90f5" fill-opacity="0.58" stroke="#376cb7" stroke-opacity="0.8" stroke-width="1.0"/>
<circle cx="144.7" cy="82.2" r="2.55" fill="#2ea828" fill-opacity="0.58" stroke="#227e1e" stroke-opacity="0.8" stroke-width="1.0"/>
<circle cx="137.2" cy="90" r="2.55" fill="#2ea828" fill-opacity="0.58" stroke="#227e1e" stroke-opacity="0.8" stroke-width="1.0"/>
<circle cx="120" cy="95.2" r="2.55" fill="#4a90f5" fill-opacity="0.58" stroke="#376cb7" stroke-opacity="0.8" stroke-width="1.0"/>
<circle cx="126" cy="93.7" r="2.55" fill="#2ea828" fill-opacity="0.58" stroke="#227e1e" stroke-opacity="0.8" stroke-width="1.0"/>
<circle cx="132.7" cy="92.2" r="2.55" fill="#2ea828" fill-opacity="0.58" stroke="#227e1e" stroke-opacity="0.8" stroke-width="1.0"/>
<circle cx="129.7" cy="97.5" r="2.55" fill="#4a90f5" fill-opacity="0.58" stroke="#376cb7" stroke-opacity="0.8" stroke-width="1.0"/>
<circle cx="140.2" cy="96.7" r="2.55" fill="#2ea828" fill-opacity="0.58" stroke="#227e1e" stroke-opacity="0.8" stroke-width="1.0"/>
<circle cx="160.9" cy="90.6" r="2.55" fill="#4a90f5" fill-opacity="0.58" stroke="#376cb7" stroke-opacity="0.8" stroke-width="1.0"/>
<rect x="154.75" y="103.65" width="5.5" height="5.5" fill="#3d8bea" fill-opacity="0.6" stroke="#3d8bea" stroke-opacity="0.8" stroke-width="0.5"/><rect x="156.2" y="105.1" width="2.6" height="2.6" fill="#2f6cb6" fill-opacity="0.85"/>
<rect x="150.25" y="102.95" width="5.5" height="5.5" fill="#3d8bea" fill-opacity="0.6" stroke="#3d8bea" stroke-opacity="0.8" stroke-width="0.5"/><rect x="151.7" y="104.4" width="2.6" height="2.6" fill="#2f6cb6" fill-opacity="0.85"/>
<circle cx="167.7" cy="104.1" r="2.55" fill="#4a90f5" fill-opacity="0.58" stroke="#376cb7" stroke-opacity="0.8" stroke-width="1.0"/>
<rect x="155.85" y="111.05" width="5.5" height="5.5" fill="#3d8bea" fill-opacity="0.6" stroke="#3d8bea" stroke-opacity="0.8" stroke-width="0.5"/><rect x="157.3" y="112.5" width="2.6" height="2.6" fill="#2f6cb6" fill-opacity="0.85"/>
<circle cx="156.4" cy="119.9" r="2.55" fill="#4a90f5" fill-opacity="0.58" stroke="#376cb7" stroke-opacity="0.8" stroke-width="1.0"/>
<circle cx="160.9" cy="130" r="2.55" fill="#4a90f5" fill-opacity="0.58" stroke="#376cb7" stroke-opacity="0.8" stroke-width="1.0"/>
<circle cx="160.9" cy="135.7" r="2.55" fill="#2ea828" fill-opacity="0.58" stroke="#227e1e" stroke-opacity="0.8" stroke-width="1.0"/>
<circle cx="151.9" cy="139" r="2.55" fill="#4a90f5" fill-opacity="0.58" stroke="#376cb7" stroke-opacity="0.8" stroke-width="1.0"/>
<circle cx="140.6" cy="106.4" r="2.55" fill="#2323dd" fill-opacity="0.58" stroke="#1a1aa5" stroke-opacity="0.8" stroke-width="1.0"/>
<circle cx="149.6" cy="106.4" r="2.55" fill="#2ea828" fill-opacity="0.58" stroke="#227e1e" stroke-opacity="0.8" stroke-width="1.0"/>
<rect x="142.35" y="134.05" width="5.5" height="5.5" fill="#3d8bea" fill-opacity="0.6" stroke="#3d8bea" stroke-opacity="0.8" stroke-width="0.5"/><rect x="143.8" y="135.5" width="2.6" height="2.6" fill="#2f6cb6" fill-opacity="0.85"/>
<circle cx="148.5" cy="142.4" r="2.11" fill="#4a90f5" fill-opacity="0.9" stroke="#4a90f5" stroke-opacity="0.8" stroke-width="0.7"/><circle cx="148.5" cy="142.4" r="1.19" fill="#3970bf" fill-opacity="0.85"/>
<circle cx="79.8" cy="141.4" r="2.11" fill="#333333" fill-opacity="0.9" stroke="#333333" stroke-opacity="0.8" stroke-width="0.7"/><circle cx="79.8" cy="141.4" r="1.19" fill="#272727" fill-opacity="0.85"/>
<circle cx="84.9" cy="142.6" r="2.11" fill="#d41fc0" fill-opacity="0.9" stroke="#d41fc0" stroke-opacity="0.8" stroke-width="0.7"/><circle cx="84.9" cy="142.6" r="1.19" fill="#a51895" fill-opacity="0.85"/>
<circle cx="77.6" cy="146.5" r="2.11" fill="#2ea828" fill-opacity="0.9" stroke="#2ea828" stroke-opacity="0.8" stroke-width="0.7"/><circle cx="77.6" cy="146.5" r="1.19" fill="#23831f" fill-opacity="0.85"/>
<circle cx="86.1" cy="147.1" r="2.11" fill="#4a90f5" fill-opacity="0.9" stroke="#4a90f5" stroke-opacity="0.8" stroke-width="0.7"/><circle cx="86.1" cy="147.1" r="1.19" fill="#3970bf" fill-opacity="0.85"/>
<circle cx="90" cy="143.4" r="2.11" fill="#2ea828" fill-opacity="0.9" stroke="#2ea828" stroke-opacity="0.8" stroke-width="0.7"/><circle cx="90" cy="143.4" r="1.19" fill="#23831f" fill-opacity="0.85"/>
<circle cx="94.5" cy="144.3" r="2.11" fill="#d41fc0" fill-opacity="0.9" stroke="#d41fc0" stroke-opacity="0.8" stroke-width="0.7"/><circle cx="94.5" cy="144.3" r="1.19" fill="#a51895" fill-opacity="0.85"/>
<path d="M97 143.4L100.4 146.8L97 150.2L93.6 146.8Z" fill="#e07a1f" fill-opacity="0.8"/><path d="M97 145.3L98.5 146.8L97 148.3L95.5 146.8Z" fill="#ae5f18"/>
<circle cx="100.4" cy="145.1" r="2.11" fill="#2ea828" fill-opacity="0.9" stroke="#2ea828" stroke-opacity="0.8" stroke-width="0.7"/><circle cx="100.4" cy="145.1" r="1.19" fill="#23831f" fill-opacity="0.85"/>
<circle cx="92" cy="147.6" r="2.11" fill="#2ea828" fill-opacity="0.9" stroke="#2ea828" stroke-opacity="0.8" stroke-width="0.7"/><circle cx="92" cy="147.6" r="1.19" fill="#23831f" fill-opacity="0.85"/>
<circle cx="110.5" cy="141.7" r="2.11" fill="#4a90f5" fill-opacity="0.9" stroke="#4a90f5" stroke-opacity="0.8" stroke-width="0.7"/><circle cx="110.5" cy="141.7" r="1.19" fill="#3970bf" fill-opacity="0.85"/>
<circle cx="112.2" cy="142.6" r="2.11" fill="#2323dd" fill-opacity="0.9" stroke="#2323dd" stroke-opacity="0.8" stroke-width="0.7"/><circle cx="112.2" cy="142.6" r="1.19" fill="#1b1bac" fill-opacity="0.85"/>
<circle cx="120.6" cy="141.7" r="2.11" fill="#d41fc0" fill-opacity="0.9" stroke="#d41fc0" stroke-opacity="0.8" stroke-width="0.7"/><circle cx="120.6" cy="141.7" r="1.19" fill="#a51895" fill-opacity="0.85"/>
<circle cx="115.6" cy="143.4" r="2.11" fill="#4a90f5" fill-opacity="0.9" stroke="#4a90f5" stroke-opacity="0.8" stroke-width="0.7"/><circle cx="115.6" cy="143.4" r="1.19" fill="#3970bf" fill-opacity="0.85"/>
<circle cx="124" cy="145.1" r="2.11" fill="#2ea828" fill-opacity="0.9" stroke="#2ea828" stroke-opacity="0.8" stroke-width="0.7"/><circle cx="124" cy="145.1" r="1.19" fill="#23831f" fill-opacity="0.85"/>
<circle cx="109.7" cy="144.3" r="2.11" fill="#2ea828" fill-opacity="0.9" stroke="#2ea828" stroke-opacity="0.8" stroke-width="0.7"/><circle cx="109.7" cy="144.3" r="1.19" fill="#23831f" fill-opacity="0.85"/>
<circle cx="78.2" cy="151" r="2.11" fill="#4a90f5" fill-opacity="0.9" stroke="#4a90f5" stroke-opacity="0.8" stroke-width="0.7"/><circle cx="78.2" cy="151" r="1.19" fill="#3970bf" fill-opacity="0.85"/>
<path d="M104.1 145.4L107.5 148.8L104.1 152.2L100.7 148.8Z" fill="#ff9a1f" fill-opacity="0.8"/><path d="M104.1 147.3L105.6 148.8L104.1 150.3L102.6 148.8Z" fill="#ffd21f"/>
<path d="M112.2 146.8L115.6 150.2L112.2 153.6L108.8 150.2Z" fill="#ff9a1f" fill-opacity="0.8"/><path d="M112.2 148.7L113.7 150.2L112.2 151.7L110.7 150.2Z" fill="#ffd21f"/>
<circle cx="114.7" cy="147.6" r="2.11" fill="#2323dd" fill-opacity="0.9" stroke="#2323dd" stroke-opacity="0.8" stroke-width="0.7"/><circle cx="114.7" cy="147.6" r="1.19" fill="#1b1bac" fill-opacity="0.85"/>
<circle cx="86.9" cy="152.7" r="2.11" fill="#2ea828" fill-opacity="0.9" stroke="#2ea828" stroke-opacity="0.8" stroke-width="0.7"/><circle cx="86.9" cy="152.7" r="1.19" fill="#23831f" fill-opacity="0.85"/>
<circle cx="92" cy="151.9" r="2.11" fill="#d41fc0" fill-opacity="0.9" stroke="#d41fc0" stroke-opacity="0.8" stroke-width="0.7"/><circle cx="92" cy="151.9" r="1.19" fill="#a51895" fill-opacity="0.85"/>
<circle cx="94.5" cy="156.1" r="2.11" fill="#d41fc0" fill-opacity="0.9" stroke="#d41fc0" stroke-opacity="0.8" stroke-width="0.7"/><circle cx="94.5" cy="156.1" r="1.19" fill="#a51895" fill-opacity="0.85"/>
<circle cx="96.2" cy="151" r="2.11" fill="#2ea828" fill-opacity="0.9" stroke="#2ea828" stroke-opacity="0.8" stroke-width="0.7"/><circle cx="96.2" cy="151" r="1.19" fill="#23831f" fill-opacity="0.85"/>
<circle cx="99.6" cy="153.5" r="2.11" fill="#2ea828" fill-opacity="0.9" stroke="#2ea828" stroke-opacity="0.8" stroke-width="0.7"/><circle cx="99.6" cy="153.5" r="1.19" fill="#23831f" fill-opacity="0.85"/>
<circle cx="108" cy="151.9" r="2.11" fill="#2ea828" fill-opacity="0.9" stroke="#2ea828" stroke-opacity="0.8" stroke-width="0.7"/><circle cx="108" cy="151.9" r="1.19" fill="#23831f" fill-opacity="0.85"/>
<circle cx="117.3" cy="154.4" r="2.11" fill="#e31a1c" fill-opacity="0.9" stroke="#e31a1c" stroke-opacity="0.8" stroke-width="0.7"/><circle cx="117.3" cy="154.4" r="1.19" fill="#b11415" fill-opacity="0.85"/>
<circle cx="120.6" cy="151" r="2.11" fill="#2ea828" fill-opacity="0.9" stroke="#2ea828" stroke-opacity="0.8" stroke-width="0.7"/><circle cx="120.6" cy="151" r="1.19" fill="#23831f" fill-opacity="0.85"/>
<circle cx="125.7" cy="146.8" r="2.11" fill="#2323dd" fill-opacity="0.9" stroke="#2323dd" stroke-opacity="0.8" stroke-width="0.7"/><circle cx="125.7" cy="146.8" r="1.19" fill="#1b1bac" fill-opacity="0.85"/>
<circle cx="125.4" cy="156.6" r="2.11" fill="#2323dd" fill-opacity="0.9" stroke="#2323dd" stroke-opacity="0.8" stroke-width="0.7"/><circle cx="125.4" cy="156.6" r="1.19" fill="#1b1bac" fill-opacity="0.85"/>
<circle cx="129.1" cy="151.9" r="2.11" fill="#2ea828" fill-opacity="0.9" stroke="#2ea828" stroke-opacity="0.8" stroke-width="0.7"/><circle cx="129.1" cy="151.9" r="1.19" fill="#23831f" fill-opacity="0.85"/>
<circle cx="130.8" cy="154.4" r="2.11" fill="#3ddc84" fill-opacity="0.9" stroke="#3ddc84" stroke-opacity="0.8" stroke-width="0.7"/><circle cx="130.8" cy="154.4" r="1.19" fill="#2fab66" fill-opacity="0.85"/>
<circle cx="135" cy="151.9" r="2.11" fill="#2323dd" fill-opacity="0.9" stroke="#2323dd" stroke-opacity="0.8" stroke-width="0.7"/><circle cx="135" cy="151.9" r="1.19" fill="#1b1bac" fill-opacity="0.85"/>
<circle cx="138.4" cy="150.2" r="2.11" fill="#2ea828" fill-opacity="0.9" stroke="#2ea828" stroke-opacity="0.8" stroke-width="0.7"/><circle cx="138.4" cy="150.2" r="1.19" fill="#23831f" fill-opacity="0.85"/>
<circle cx="140" cy="145.1" r="2.11" fill="#2323dd" fill-opacity="0.9" stroke="#2323dd" stroke-opacity="0.8" stroke-width="0.7"/><circle cx="140" cy="145.1" r="1.19" fill="#1b1bac" fill-opacity="0.85"/>
<circle cx="142.6" cy="143.1" r="2.11" fill="#2ea828" fill-opacity="0.9" stroke="#2ea828" stroke-opacity="0.8" stroke-width="0.7"/><circle cx="142.6" cy="143.1" r="1.19" fill="#23831f" fill-opacity="0.85"/>
<circle cx="147.6" cy="148.5" r="2.11" fill="#4a90f5" fill-opacity="0.9" stroke="#4a90f5" stroke-opacity="0.8" stroke-width="0.7"/><circle cx="147.6" cy="148.5" r="1.19" fill="#3970bf" fill-opacity="0.85"/>
<circle cx="147.6" cy="155.2" r="2.11" fill="#2ea828" fill-opacity="0.9" stroke="#2ea828" stroke-opacity="0.8" stroke-width="0.7"/><circle cx="147.6" cy="155.2" r="1.19" fill="#23831f" fill-opacity="0.85"/>
<circle cx="123.2" cy="156.9" r="2.11" fill="#d41fc0" fill-opacity="0.9" stroke="#d41fc0" stroke-opacity="0.8" stroke-width="0.7"/><circle cx="123.2" cy="156.9" r="1.19" fill="#a51895" fill-opacity="0.85"/>
<circle cx="127.4" cy="156.1" r="2.11" fill="#4a90f5" fill-opacity="0.9" stroke="#4a90f5" stroke-opacity="0.8" stroke-width="0.7"/><circle cx="127.4" cy="156.1" r="1.19" fill="#3970bf" fill-opacity="0.85"/>
<circle cx="132.5" cy="158.6" r="2.11" fill="#2ea828" fill-opacity="0.9" stroke="#2ea828" stroke-opacity="0.8" stroke-width="0.7"/><circle cx="132.5" cy="158.6" r="1.19" fill="#23831f" fill-opacity="0.85"/>
<circle cx="81" cy="156.9" r="2.11" fill="#3ddc84" fill-opacity="0.9" stroke="#3ddc84" stroke-opacity="0.8" stroke-width="0.7"/><circle cx="81" cy="156.9" r="1.19" fill="#2fab66" fill-opacity="0.85"/>
<circle cx="84" cy="161.6" r="2.11" fill="#2ea828" fill-opacity="0.9" stroke="#2ea828" stroke-opacity="0.8" stroke-width="0.7"/><circle cx="84" cy="161.6" r="1.19" fill="#23831f" fill-opacity="0.85"/>
<circle cx="76.5" cy="162" r="2.11" fill="#3ddc84" fill-opacity="0.9" stroke="#3ddc84" stroke-opacity="0.8" stroke-width="0.7"/><circle cx="76.5" cy="162" r="1.19" fill="#2fab66" fill-opacity="0.85"/>
<circle cx="88.6" cy="159.5" r="2.11" fill="#2ea828" fill-opacity="0.9" stroke="#2ea828" stroke-opacity="0.8" stroke-width="0.7"/><circle cx="88.6" cy="159.5" r="1.19" fill="#23831f" fill-opacity="0.85"/>
<circle cx="90.3" cy="162.8" r="2.11" fill="#2ea828" fill-opacity="0.9" stroke="#2ea828" stroke-opacity="0.8" stroke-width="0.7"/><circle cx="90.3" cy="162.8" r="1.19" fill="#23831f" fill-opacity="0.85"/>
<circle cx="101.3" cy="159.5" r="2.11" fill="#d41fc0" fill-opacity="0.9" stroke="#d41fc0" stroke-opacity="0.8" stroke-width="0.7"/><circle cx="101.3" cy="159.5" r="1.19" fill="#a51895" fill-opacity="0.85"/>
<path d="M104.6 159.4L108 162.8L104.6 166.2L101.2 162.8Z" fill="#ff9a1f" fill-opacity="0.8"/><path d="M104.6 161.3L106.1 162.8L104.6 164.3L103.1 162.8Z" fill="#ffd21f"/>
<circle cx="101.3" cy="163.7" r="2.11" fill="#2ea828" fill-opacity="0.9" stroke="#2ea828" stroke-opacity="0.8" stroke-width="0.7"/><circle cx="101.3" cy="163.7" r="1.19" fill="#23831f" fill-opacity="0.85"/>
<circle cx="97.9" cy="162" r="2.11" fill="#2ea828" fill-opacity="0.9" stroke="#2ea828" stroke-opacity="0.8" stroke-width="0.7"/><circle cx="97.9" cy="162" r="1.19" fill="#23831f" fill-opacity="0.85"/>
<circle cx="110.5" cy="161.1" r="2.11" fill="#2323dd" fill-opacity="0.9" stroke="#2323dd" stroke-opacity="0.8" stroke-width="0.7"/><circle cx="110.5" cy="161.1" r="1.19" fill="#1b1bac" fill-opacity="0.85"/>
<circle cx="113.1" cy="158.6" r="2.11" fill="#2ea828" fill-opacity="0.9" stroke="#2ea828" stroke-opacity="0.8" stroke-width="0.7"/><circle cx="113.1" cy="158.6" r="1.19" fill="#23831f" fill-opacity="0.85"/>
<circle cx="115.6" cy="163.7" r="2.11" fill="#2323dd" fill-opacity="0.9" stroke="#2323dd" stroke-opacity="0.8" stroke-width="0.7"/><circle cx="115.6" cy="163.7" r="1.19" fill="#1b1bac" fill-opacity="0.85"/>
<circle cx="119" cy="162.8" r="2.11" fill="#2ea828" fill-opacity="0.9" stroke="#2ea828" stroke-opacity="0.8" stroke-width="0.7"/><circle cx="119" cy="162.8" r="1.19" fill="#23831f" fill-opacity="0.85"/>
<circle cx="122.3" cy="161.1" r="2.11" fill="#2ea828" fill-opacity="0.9" stroke="#2ea828" stroke-opacity="0.8" stroke-width="0.7"/><circle cx="122.3" cy="161.1" r="1.19" fill="#23831f" fill-opacity="0.85"/>
<circle cx="139.2" cy="162.8" r="2.11" fill="#2ea828" fill-opacity="0.9" stroke="#2ea828" stroke-opacity="0.8" stroke-width="0.7"/><circle cx="139.2" cy="162.8" r="1.19" fill="#23831f" fill-opacity="0.85"/>
<circle cx="142.6" cy="164.5" r="2.11" fill="#2ea828" fill-opacity="0.9" stroke="#2ea828" stroke-opacity="0.8" stroke-width="0.7"/><circle cx="142.6" cy="164.5" r="1.19" fill="#23831f" fill-opacity="0.85"/>
<circle cx="145.9" cy="162.8" r="2.11" fill="#2ea828" fill-opacity="0.9" stroke="#2ea828" stroke-opacity="0.8" stroke-width="0.7"/><circle cx="145.9" cy="162.8" r="1.19" fill="#23831f" fill-opacity="0.85"/>
<circle cx="79.3" cy="167.9" r="2.11" fill="#4a90f5" fill-opacity="0.9" stroke="#4a90f5" stroke-opacity="0.8" stroke-width="0.7"/><circle cx="79.3" cy="167.9" r="1.19" fill="#3970bf" fill-opacity="0.85"/>
<circle cx="86.9" cy="166.2" r="2.11" fill="#4a90f5" fill-opacity="0.9" stroke="#4a90f5" stroke-opacity="0.8" stroke-width="0.7"/><circle cx="86.9" cy="166.2" r="1.19" fill="#3970bf" fill-opacity="0.85"/>
<circle cx="91.1" cy="166.2" r="2.11" fill="#2ea828" fill-opacity="0.9" stroke="#2ea828" stroke-opacity="0.8" stroke-width="0.7"/><circle cx="91.1" cy="166.2" r="1.19" fill="#23831f" fill-opacity="0.85"/>
<circle cx="95.4" cy="167" r="2.11" fill="#d41fc0" fill-opacity="0.9" stroke="#d41fc0" stroke-opacity="0.8" stroke-width="0.7"/><circle cx="95.4" cy="167" r="1.19" fill="#a51895" fill-opacity="0.85"/>
<circle cx="98.7" cy="165.4" r="2.11" fill="#d41fc0" fill-opacity="0.9" stroke="#d41fc0" stroke-opacity="0.8" stroke-width="0.7"/><circle cx="98.7" cy="165.4" r="1.19" fill="#a51895" fill-opacity="0.85"/>
<circle cx="101.3" cy="169.6" r="2.11" fill="#2ea828" fill-opacity="0.9" stroke="#2ea828" stroke-opacity="0.8" stroke-width="0.7"/><circle cx="101.3" cy="169.6" r="1.19" fill="#23831f" fill-opacity="0.85"/>
<path d="M106 167L109.4 170.4L106 173.8L102.6 170.4Z" fill="#ff9a1f" fill-opacity="0.8"/><path d="M106 168.9L107.5 170.4L106 171.9L104.5 170.4Z" fill="#ffd21f"/>
<circle cx="109.7" cy="170.4" r="2.11" fill="#2323dd" fill-opacity="0.9" stroke="#2323dd" stroke-opacity="0.8" stroke-width="0.7"/><circle cx="109.7" cy="170.4" r="1.19" fill="#1b1bac" fill-opacity="0.85"/>
<circle cx="113.9" cy="168.7" r="2.11" fill="#2ea828" fill-opacity="0.9" stroke="#2ea828" stroke-opacity="0.8" stroke-width="0.7"/><circle cx="113.9" cy="168.7" r="1.19" fill="#23831f" fill-opacity="0.85"/>
<circle cx="115.6" cy="171.3" r="2.11" fill="#4a90f5" fill-opacity="0.9" stroke="#4a90f5" stroke-opacity="0.8" stroke-width="0.7"/><circle cx="115.6" cy="171.3" r="1.19" fill="#3970bf" fill-opacity="0.85"/>
<circle cx="98.7" cy="172.9" r="2.11" fill="#2ea828" fill-opacity="0.9" stroke="#2ea828" stroke-opacity="0.8" stroke-width="0.7"/><circle cx="98.7" cy="172.9" r="1.19" fill="#23831f" fill-opacity="0.85"/>
<circle cx="96.2" cy="173.4" r="2.11" fill="#4a90f5" fill-opacity="0.9" stroke="#4a90f5" stroke-opacity="0.8" stroke-width="0.7"/><circle cx="96.2" cy="173.4" r="1.19" fill="#3970bf" fill-opacity="0.85"/>
<circle cx="104.6" cy="175.1" r="2.11" fill="#d41fc0" fill-opacity="0.9" stroke="#d41fc0" stroke-opacity="0.8" stroke-width="0.7"/><circle cx="104.6" cy="175.1" r="1.19" fill="#a51895" fill-opacity="0.85"/>
<path d="M106 172.1L109.4 175.5L106 178.9L102.6 175.5Z" fill="#e07a1f" fill-opacity="0.8"/><path d="M106 174L107.5 175.5L106 177L104.5 175.5Z" fill="#ae5f18"/>
<circle cx="122.3" cy="170.4" r="2.11" fill="#2ea828" fill-opacity="0.9" stroke="#2ea828" stroke-opacity="0.8" stroke-width="0.7"/><circle cx="122.3" cy="170.4" r="1.19" fill="#23831f" fill-opacity="0.85"/>
<circle cx="110.5" cy="174.6" r="2.11" fill="#2ea828" fill-opacity="0.9" stroke="#2ea828" stroke-opacity="0.8" stroke-width="0.7"/><circle cx="110.5" cy="174.6" r="1.19" fill="#23831f" fill-opacity="0.85"/>
<circle cx="123.2" cy="168.7" r="2.11" fill="#2ea828" fill-opacity="0.9" stroke="#2ea828" stroke-opacity="0.8" stroke-width="0.7"/><circle cx="123.2" cy="168.7" r="1.19" fill="#23831f" fill-opacity="0.85"/>
</g>
<line x1="30.45" y1="21.3" x2="30.45" y2="184.3" stroke="#000" stroke-width="1.05"/>
<line x1="29.9" y1="183.85" x2="182.2" y2="183.85" stroke="#000" stroke-width="1.1"/>
<line x1="27.6" y1="176.4" x2="30" y2="176.4" stroke="#333" stroke-width="0.9"/>
<text x="25.9" y="179" font-size="7.6" text-anchor="end" fill="#666666" font-weight="normal">0</text>
<line x1="27.6" y1="130.5" x2="30" y2="130.5" stroke="#333" stroke-width="0.9"/>
<text x="25.9" y="133.1" font-size="7.6" text-anchor="end" fill="#666666" font-weight="normal">2</text>
<line x1="27.6" y1="84.6" x2="30" y2="84.6" stroke="#333" stroke-width="0.9"/>
<text x="25.9" y="87.2" font-size="7.6" text-anchor="end" fill="#666666" font-weight="normal">4</text>
<line x1="27.6" y1="38.7" x2="30" y2="38.7" stroke="#333" stroke-width="0.9"/>
<text x="25.9" y="41.3" font-size="7.6" text-anchor="end" fill="#666666" font-weight="normal">6</text>
<line x1="36.9" y1="184.1" x2="36.9" y2="186.8" stroke="#333" stroke-width="0.8"/>
<text x="36.9" y="194.8" font-size="7" text-anchor="middle" fill="#666666" font-weight="normal">−4</text>
<line x1="71.5" y1="184.1" x2="71.5" y2="186.8" stroke="#333" stroke-width="0.8"/>
<text x="71.5" y="194.8" font-size="7" text-anchor="middle" fill="#666666" font-weight="normal">−2</text>
<line x1="106.1" y1="184.1" x2="106.1" y2="186.8" stroke="#333" stroke-width="0.8"/>
<text x="106.1" y="194.8" font-size="7" text-anchor="middle" fill="#666666" font-weight="normal">0</text>
<line x1="140.7" y1="184.1" x2="140.7" y2="186.8" stroke="#333" stroke-width="0.8"/>
<text x="140.7" y="194.8" font-size="7" text-anchor="middle" fill="#666666" font-weight="normal">2</text>
<line x1="175.3" y1="184.1" x2="175.3" y2="186.8" stroke="#333" stroke-width="0.8"/>
<text x="175.3" y="194.8" font-size="7" text-anchor="middle" fill="#666666" font-weight="normal">4</text>
<text x="105.9" y="207.6" font-size="10.3" text-anchor="middle" fill="#000">log<tspan font-size="7.5" dy="2.2">2</tspan><tspan dy="-2.2">(Fold change of means)</tspan></text>
<text transform="translate(12.2 100.5) rotate(-90)" font-size="10" text-anchor="middle" fill="#000">−log<tspan font-size="7" dy="2">10</tspan><tspan dy="-2">(p−value)</tspan></text>
<rect x="30.8" y="23.7" width="32.4" height="12.4" fill="#000" stroke="none" stroke-width="1" rx="1.8"/>
<text x="32.4" y="32.2" font-size="8.2" text-anchor="start" fill="#fff" font-weight="normal">AAVS1</text>
<rect x="141.9" y="24.1" width="33.3" height="12" fill="#50c4f0" stroke="none" stroke-width="1" rx="1.8"/>
<text x="145.6" y="32" font-size="8.1" text-anchor="start" fill="#fff" font-weight="normal">ACOT7</text>
<circle cx="36" cy="223.4" r="2.86" fill="#e31a1c" fill-opacity="0.69" stroke="#cc1719" stroke-opacity="0.9" stroke-width="1.0"/><circle cx="36" cy="223.4" r="1.46" fill="#b11415" fill-opacity="0.8"/>
<text x="43" y="225.9" font-size="6.65" text-anchor="start" fill="#222" font-weight="normal">TAG</text>
<circle cx="72.4" cy="223.4" r="2.86" fill="#d66ad8" fill-opacity="0.69" stroke="#c05fc2" stroke-opacity="0.9" stroke-width="1.0"/><circle cx="72.4" cy="223.4" r="1.46" fill="#a652a8" fill-opacity="0.8"/>
<text x="79.4" y="225.9" font-size="6.65" text-anchor="start" fill="#222" font-weight="normal">DAG</text>
<circle cx="105.5" cy="223.4" r="2.86" fill="#2e8b57" fill-opacity="0.69" stroke="#297d4e" stroke-opacity="0.9" stroke-width="1.0"/><circle cx="105.5" cy="223.4" r="1.46" fill="#236c43" fill-opacity="0.8"/>
<text x="112.5" y="225.9" font-size="6.65" text-anchor="start" fill="#222" font-weight="normal">CL</text>
<circle cx="131" cy="223.4" r="2.86" fill="#333333" fill-opacity="0.69" stroke="#2d2d2d" stroke-opacity="0.9" stroke-width="1.0"/><circle cx="131" cy="223.4" r="1.46" fill="#272727" fill-opacity="0.8"/>
<text x="138" y="225.9" font-size="6.65" text-anchor="start" fill="#222" font-weight="normal">PA</text>
<circle cx="156.6" cy="223.4" r="2.86" fill="#4a90f5" fill-opacity="0.69" stroke="#4281dc" stroke-opacity="0.9" stroke-width="1.0"/><circle cx="156.6" cy="223.4" r="1.46" fill="#3970bf" fill-opacity="0.8"/>
<text x="163.6" y="225.9" font-size="6.65" text-anchor="start" fill="#222" font-weight="normal">PC</text>
<circle cx="36" cy="235.1" r="2.41" fill="#fff" fill-opacity="0.7" stroke="#4a90f5" stroke-opacity="0.9" stroke-width="2.24"/>
<text x="43" y="237.6" font-size="6.65" text-anchor="start" fill="#222" font-weight="normal">LPC</text>
<rect x="69.32" y="232.02" width="6.16" height="6.16" fill="#3d8bea" fill-opacity="0.94" stroke="#3d8bea" stroke-opacity="0.8" stroke-width="0.5"/><rect x="70.94" y="233.64" width="2.91" height="2.91" fill="#2f6cb6" fill-opacity="0.85"/>
<text x="79.4" y="237.6" font-size="6.65" text-anchor="start" fill="#222" font-weight="normal">PC O−</text>
<circle cx="105.5" cy="235.1" r="2.86" fill="#2ea828" fill-opacity="0.69" stroke="#299724" stroke-opacity="0.9" stroke-width="1.0"/><circle cx="105.5" cy="235.1" r="1.46" fill="#23831f" fill-opacity="0.8"/>
<text x="112.5" y="237.6" font-size="6.65" text-anchor="start" fill="#222" font-weight="normal">PE</text>
<circle cx="131" cy="235.1" r="3.06" fill="#2ea828" fill-opacity="1" stroke="#248620" stroke-opacity="0.8" stroke-width="0.6"/><path d="M128.65 235.1h4.7M131 232.75v4.7" stroke="#fff" stroke-width="1.01"/>
<text x="138" y="237.6" font-size="6.65" text-anchor="start" fill="#222" font-weight="normal">LPE</text>
<rect x="153.52" y="232.02" width="6.16" height="6.16" fill="#2e9a28" fill-opacity="0.94" stroke="#2e9a28" stroke-opacity="0.8" stroke-width="0.5"/><rect x="155.14" y="233.64" width="2.91" height="2.91" fill="#23781f" fill-opacity="0.85"/>
<text x="163.6" y="237.6" font-size="6.65" text-anchor="start" fill="#222" font-weight="normal">PE O−</text>
<rect x="33.76" y="244.56" width="4.48" height="4.48" fill="#fff" fill-opacity="0.7" stroke="#2ea828" stroke-opacity="0.9" stroke-width="2.13"/>
<text x="43" y="249.3" font-size="6.65" text-anchor="start" fill="#222" font-weight="normal">LPE O−</text>
<circle cx="72.4" cy="246.8" r="2.86" fill="#3ddc84" fill-opacity="0.69" stroke="#36c676" stroke-opacity="0.9" stroke-width="1.0"/><circle cx="72.4" cy="246.8" r="1.46" fill="#2fab66" fill-opacity="0.8"/>
<text x="79.4" y="249.3" font-size="6.65" text-anchor="start" fill="#222" font-weight="normal">PG</text>
<circle cx="105.5" cy="246.8" r="2.41" fill="#fff" fill-opacity="0.7" stroke="#3ddc84" stroke-opacity="0.9" stroke-width="2.24"/>
<text x="112.5" y="249.3" font-size="6.65" text-anchor="start" fill="#222" font-weight="normal">LPG</text>
<circle cx="131" cy="246.8" r="2.86" fill="#2323dd" fill-opacity="0.69" stroke="#1f1fc6" stroke-opacity="0.9" stroke-width="1.0"/><circle cx="131" cy="246.8" r="1.46" fill="#1b1bac" fill-opacity="0.8"/>
<text x="138" y="249.3" font-size="6.65" text-anchor="start" fill="#222" font-weight="normal">PI</text>
<circle cx="156.6" cy="246.8" r="2.86" fill="#d41fc0" fill-opacity="0.69" stroke="#be1bac" stroke-opacity="0.9" stroke-width="1.0"/><circle cx="156.6" cy="246.8" r="1.46" fill="#a51895" fill-opacity="0.8"/>
<text x="163.6" y="249.3" font-size="6.65" text-anchor="start" fill="#222" font-weight="normal">PS</text>
<path d="M36 254.69L39.81 258.5L36 262.31L32.19 258.5Z" fill="#8b4513" fill-opacity="1.25"/><path d="M36 257L37.5 258.5L36 260L34.5 258.5Z" fill="#6c350e"/>
<text x="43" y="261" font-size="6.65" text-anchor="start" fill="#222" font-weight="normal">HexCer</text>
<path d="M72.4 254.69L76.21 258.5L72.4 262.31L68.59 258.5Z" fill="#e07a1f" fill-opacity="1.25"/><path d="M72.4 257L73.9 258.5L72.4 260L70.9 258.5Z" fill="#ae5f18"/>
<text x="79.4" y="261" font-size="6.65" text-anchor="start" fill="#222" font-weight="normal">Cer</text>
<path d="M105.5 254.69L109.31 258.5L105.5 262.31L101.69 258.5Z" fill="#ff9a1f" fill-opacity="1.25"/><path d="M105.5 257L107 258.5L105.5 260L104 258.5Z" fill="#ffd21f"/>
<text x="112.5" y="261" font-size="6.65" text-anchor="start" fill="#222" font-weight="normal">SM</text>
<path d="M131 254.69L134.62 261.17L127.38 261.17Z" fill="#f5c020" stroke="#e31a1c" stroke-width="1.4" stroke-linejoin="miter"/>
<text x="138" y="261" font-size="6.65" text-anchor="start" fill="#222" font-weight="normal">CE</text>
<path d="M156.6 262.31L160.22 255.83L152.98 255.83Z" fill="#e8cc3a" stroke="#8a2be2" stroke-width="1.3"/>
<text x="163.6" y="261" font-size="6.65" text-anchor="start" fill="#222" font-weight="normal">Chol</text>
<text x="193" y="13.9" font-size="12" text-anchor="start" fill="#000" font-weight="bold">B</text>
<text x="217" y="13.9" font-size="12" text-anchor="start" fill="#000" font-weight="normal">FA &gt;1.5 mol%</text>
<rect x="216.3" y="21.2" width="133.1" height="16.3" fill="#d4dcd9" stroke="#555" stroke-width="0.7"/>
<text x="282.85" y="32.2" font-size="8.5" text-anchor="middle" fill="#1a1a1a" font-weight="normal">&lt;/= 18 carbon atoms</text>
<rect x="376.6" y="21.2" width="123.7" height="16.3" fill="#d4dcd9" stroke="#555" stroke-width="0.7"/>
<text x="438.45" y="32.2" font-size="8.5" text-anchor="middle" fill="#1a1a1a" font-weight="normal">&gt;18 carbon atoms</text>
<rect x="216.3" y="37.5" width="133.1" height="38.1" fill="#fff" stroke="none" stroke-width="1"/>
<line x1="216.3" y1="70.8" x2="349.4" y2="70.8" stroke="#f2f2f2" stroke-width="0.5"/>
<line x1="216.3" y1="63.4" x2="349.4" y2="63.4" stroke="#f2f2f2" stroke-width="0.5"/>
<line x1="216.3" y1="56" x2="349.4" y2="56" stroke="#f2f2f2" stroke-width="0.5"/>
<line x1="216.3" y1="48.6" x2="349.4" y2="48.6" stroke="#f2f2f2" stroke-width="0.5"/>
<line x1="216.3" y1="41.2" x2="349.4" y2="41.2" stroke="#f2f2f2" stroke-width="0.5"/>
<line x1="216.3" y1="74.5" x2="349.4" y2="74.5" stroke="#e3e3e3" stroke-width="0.6"/>
<line x1="216.3" y1="67.1" x2="349.4" y2="67.1" stroke="#e3e3e3" stroke-width="0.6"/>
<line x1="216.3" y1="59.8" x2="349.4" y2="59.8" stroke="#e3e3e3" stroke-width="0.6"/>
<line x1="216.3" y1="52.5" x2="349.4" y2="52.5" stroke="#e3e3e3" stroke-width="0.6"/>
<line x1="216.3" y1="45.2" x2="349.4" y2="45.2" stroke="#e3e3e3" stroke-width="0.6"/>
<line x1="216.3" y1="37.9" x2="349.4" y2="37.9" stroke="#e3e3e3" stroke-width="0.6"/>
<line x1="229.18" y1="37.5" x2="229.18" y2="75.6" stroke="#e3e3e3" stroke-width="0.6"/>
<line x1="250.65" y1="37.5" x2="250.65" y2="75.6" stroke="#e3e3e3" stroke-width="0.6"/>
<line x1="272.12" y1="37.5" x2="272.12" y2="75.6" stroke="#e3e3e3" stroke-width="0.6"/>
<line x1="293.58" y1="37.5" x2="293.58" y2="75.6" stroke="#e3e3e3" stroke-width="0.6"/>
<line x1="315.05" y1="37.5" x2="315.05" y2="75.6" stroke="#e3e3e3" stroke-width="0.6"/>
<line x1="336.52" y1="37.5" x2="336.52" y2="75.6" stroke="#e3e3e3" stroke-width="0.6"/>
<rect x="219.52" y="71.3" width="9.66" height="3.3" fill="#000" stroke="#000" stroke-width="0.75"/>
<rect x="229.18" y="72.3" width="9.66" height="2.3" fill="#56c8f5" stroke="#111" stroke-width="0.75"/>
<path d="M223.58 69.8V68.4H234.78V69.8" fill="none" stroke="#222" stroke-width="0.75"/>
<text x="229.18" y="67.6" font-size="6.4" text-anchor="middle" fill="#111" font-weight="normal">***</text>
<rect x="240.99" y="59.5" width="9.66" height="15.1" fill="#000" stroke="#000" stroke-width="0.75"/>
<rect x="250.65" y="59.1" width="9.66" height="15.5" fill="#56c8f5" stroke="#111" stroke-width="0.75"/>
<path d="M245.05 56.6V55.2H256.25V56.6" fill="none" stroke="#222" stroke-width="0.75"/>
<text x="250.65" y="54.4" font-size="6.4" text-anchor="middle" fill="#111" font-weight="normal">*</text>
<rect x="262.46" y="64" width="9.66" height="10.6" fill="#000" stroke="#000" stroke-width="0.75"/>
<rect x="272.12" y="69.2" width="9.66" height="5.4" fill="#56c8f5" stroke="#111" stroke-width="0.75"/>
<path d="M266.52 61.7V60.3H277.72V61.7" fill="none" stroke="#222" stroke-width="0.75"/>
<text x="272.12" y="59.5" font-size="6.4" text-anchor="middle" fill="#111" font-weight="normal">***</text>
<rect x="283.92" y="67" width="9.66" height="7.6" fill="#000" stroke="#000" stroke-width="0.75"/>
<rect x="293.58" y="66.4" width="9.66" height="8.2" fill="#56c8f5" stroke="#111" stroke-width="0.75"/>
<path d="M287.98 63.4V62H299.18V63.4" fill="none" stroke="#222" stroke-width="0.75"/>
<text x="293.58" y="61.2" font-size="6.4" text-anchor="middle" fill="#111" font-weight="normal">**</text>
<rect x="305.39" y="48.8" width="9.66" height="25.8" fill="#000" stroke="#000" stroke-width="0.75"/>
<rect x="315.05" y="55.6" width="9.66" height="19" fill="#56c8f5" stroke="#111" stroke-width="0.75"/>
<path d="M309.45 46.9V45.5H320.65V46.9" fill="none" stroke="#222" stroke-width="0.75"/>
<text x="315.05" y="44.7" font-size="6.4" text-anchor="middle" fill="#111" font-weight="normal">**</text>
<rect x="326.86" y="72.8" width="9.66" height="1.8" fill="#000" stroke="#000" stroke-width="0.75"/>
<rect x="336.52" y="71.9" width="9.66" height="2.7" fill="#56c8f5" stroke="#111" stroke-width="0.75"/>
<path d="M330.92 69.8V68.4H342.12V69.8" fill="none" stroke="#222" stroke-width="0.75"/>
<text x="336.52" y="67.6" font-size="6.4" text-anchor="middle" fill="#111" font-weight="normal">***</text>
<rect x="216.3" y="37.5" width="133.1" height="38.1" fill="none" stroke="#333" stroke-width="0.8"/>
<line x1="213.4" y1="74.5" x2="216.3" y2="74.5" stroke="#333" stroke-width="0.75"/>
<text x="211.8" y="76.9" font-size="7" text-anchor="end" fill="#666666" font-weight="normal">0</text>
<line x1="213.4" y1="67.1" x2="216.3" y2="67.1" stroke="#333" stroke-width="0.75"/>
<text x="211.8" y="69.5" font-size="7" text-anchor="end" fill="#666666" font-weight="normal">10</text>
<line x1="213.4" y1="59.8" x2="216.3" y2="59.8" stroke="#333" stroke-width="0.75"/>
<text x="211.8" y="62.2" font-size="7" text-anchor="end" fill="#666666" font-weight="normal">20</text>
<line x1="213.4" y1="52.5" x2="216.3" y2="52.5" stroke="#333" stroke-width="0.75"/>
<text x="211.8" y="54.9" font-size="7" text-anchor="end" fill="#666666" font-weight="normal">30</text>
<line x1="213.4" y1="45.2" x2="216.3" y2="45.2" stroke="#333" stroke-width="0.75"/>
<text x="211.8" y="47.6" font-size="7" text-anchor="end" fill="#666666" font-weight="normal">40</text>
<line x1="213.4" y1="37.9" x2="216.3" y2="37.9" stroke="#333" stroke-width="0.75"/>
<text x="211.8" y="40.3" font-size="7" text-anchor="end" fill="#666666" font-weight="normal">50</text>
<rect x="376.6" y="37.5" width="123.7" height="38.1" fill="#fff" stroke="none" stroke-width="1"/>
<line x1="376.6" y1="70.8" x2="500.3" y2="70.8" stroke="#f2f2f2" stroke-width="0.5"/>
<line x1="376.6" y1="63.4" x2="500.3" y2="63.4" stroke="#f2f2f2" stroke-width="0.5"/>
<line x1="376.6" y1="56" x2="500.3" y2="56" stroke="#f2f2f2" stroke-width="0.5"/>
<line x1="376.6" y1="48.6" x2="500.3" y2="48.6" stroke="#f2f2f2" stroke-width="0.5"/>
<line x1="376.6" y1="41.2" x2="500.3" y2="41.2" stroke="#f2f2f2" stroke-width="0.5"/>
<line x1="376.6" y1="74.5" x2="500.3" y2="74.5" stroke="#e3e3e3" stroke-width="0.6"/>
<line x1="376.6" y1="67.1" x2="500.3" y2="67.1" stroke="#e3e3e3" stroke-width="0.6"/>
<line x1="376.6" y1="59.8" x2="500.3" y2="59.8" stroke="#e3e3e3" stroke-width="0.6"/>
<line x1="376.6" y1="52.5" x2="500.3" y2="52.5" stroke="#e3e3e3" stroke-width="0.6"/>
<line x1="376.6" y1="45.2" x2="500.3" y2="45.2" stroke="#e3e3e3" stroke-width="0.6"/>
<line x1="376.6" y1="37.9" x2="500.3" y2="37.9" stroke="#e3e3e3" stroke-width="0.6"/>
<line x1="390.87" y1="37.5" x2="390.87" y2="75.6" stroke="#e3e3e3" stroke-width="0.6"/>
<line x1="414.66" y1="37.5" x2="414.66" y2="75.6" stroke="#e3e3e3" stroke-width="0.6"/>
<line x1="438.45" y1="37.5" x2="438.45" y2="75.6" stroke="#e3e3e3" stroke-width="0.6"/>
<line x1="462.24" y1="37.5" x2="462.24" y2="75.6" stroke="#e3e3e3" stroke-width="0.6"/>
<line x1="486.03" y1="37.5" x2="486.03" y2="75.6" stroke="#e3e3e3" stroke-width="0.6"/>
<line x1="396.23" y1="64.4" x2="396.23" y2="65.3" stroke="#3fb8ee" stroke-width="0.7"/>
<line x1="393.83" y1="64.4" x2="398.63" y2="64.4" stroke="#3fb8ee" stroke-width="0.7"/>
<rect x="380.17" y="70" width="10.7" height="4.6" fill="#000" stroke="#000" stroke-width="0.75"/>
<rect x="390.87" y="65.3" width="10.7" height="9.3" fill="#56c8f5" stroke="#111" stroke-width="0.75"/>
<path d="M385.27 62.5V61.1H396.47V62.5" fill="none" stroke="#222" stroke-width="0.75"/>
<text x="390.87" y="60.3" font-size="6.4" text-anchor="middle" fill="#111" font-weight="normal">*</text>
<line x1="420.01" y1="49.6" x2="420.01" y2="50.2" stroke="#3fb8ee" stroke-width="0.7"/>
<line x1="417.61" y1="49.6" x2="422.41" y2="49.6" stroke="#3fb8ee" stroke-width="0.7"/>
<rect x="403.96" y="67.8" width="10.7" height="6.8" fill="#000" stroke="#000" stroke-width="0.75"/>
<rect x="414.66" y="50.2" width="10.7" height="24.4" fill="#56c8f5" stroke="#111" stroke-width="0.75"/>
<path d="M409.06 47.4V46H420.26V47.4" fill="none" stroke="#222" stroke-width="0.75"/>
<text x="414.66" y="45.2" font-size="6.4" text-anchor="middle" fill="#111" font-weight="normal">**</text>
<rect x="427.75" y="72" width="10.7" height="2.6" fill="#000" stroke="#000" stroke-width="0.75"/>
<rect x="438.45" y="68.3" width="10.7" height="6.3" fill="#56c8f5" stroke="#111" stroke-width="0.75"/>
<path d="M432.85 66.7V65.3H444.05V66.7" fill="none" stroke="#222" stroke-width="0.75"/>
<text x="438.45" y="64.5" font-size="6.4" text-anchor="middle" fill="#111" font-weight="normal">**</text>
<rect x="451.53" y="69.2" width="10.7" height="5.4" fill="#000" stroke="#000" stroke-width="0.75"/>
<rect x="462.24" y="66.1" width="10.7" height="8.5" fill="#56c8f5" stroke="#111" stroke-width="0.75"/>
<path d="M456.64 63.7V62.3H467.84V63.7" fill="none" stroke="#222" stroke-width="0.75"/>
<text x="462.24" y="61.5" font-size="6.4" text-anchor="middle" fill="#111" font-weight="normal">**</text>
<rect x="475.32" y="71.2" width="10.7" height="3.4" fill="#000" stroke="#000" stroke-width="0.75"/>
<rect x="486.03" y="67.3" width="10.7" height="7.3" fill="#56c8f5" stroke="#111" stroke-width="0.75"/>
<path d="M480.43 65.9V64.5H491.63V65.9" fill="none" stroke="#222" stroke-width="0.75"/>
<text x="486.03" y="63.7" font-size="6.4" text-anchor="middle" fill="#111" font-weight="normal">**</text>
<rect x="376.6" y="37.5" width="123.7" height="38.1" fill="none" stroke="#333" stroke-width="0.8"/>
<line x1="373.7" y1="74.5" x2="376.6" y2="74.5" stroke="#333" stroke-width="0.75"/>
<text x="372.1" y="76.9" font-size="7" text-anchor="end" fill="#666666" font-weight="normal">0.0</text>
<line x1="373.7" y1="67.1" x2="376.6" y2="67.1" stroke="#333" stroke-width="0.75"/>
<text x="372.1" y="69.5" font-size="7" text-anchor="end" fill="#666666" font-weight="normal">2.5</text>
<line x1="373.7" y1="59.8" x2="376.6" y2="59.8" stroke="#333" stroke-width="0.75"/>
<text x="372.1" y="62.2" font-size="7" text-anchor="end" fill="#666666" font-weight="normal">5.0</text>
<line x1="373.7" y1="52.5" x2="376.6" y2="52.5" stroke="#333" stroke-width="0.75"/>
<text x="372.1" y="54.9" font-size="7" text-anchor="end" fill="#666666" font-weight="normal">7.5</text>
<line x1="373.7" y1="45.2" x2="376.6" y2="45.2" stroke="#333" stroke-width="0.75"/>
<text x="372.1" y="47.6" font-size="7" text-anchor="end" fill="#666666" font-weight="normal">10.0</text>
<line x1="373.7" y1="37.9" x2="376.6" y2="37.9" stroke="#333" stroke-width="0.75"/>
<text x="372.1" y="40.3" font-size="7" text-anchor="end" fill="#666666" font-weight="normal">12.5</text>
<rect x="500.3" y="37.5" width="16.5" height="38.1" fill="#d4dcd9" stroke="#555" stroke-width="0.7"/>
<text x="508" y="56.55" font-size="8.5" text-anchor="middle" fill="#1a1a1a" font-weight="normal" transform="rotate(90 508 56.55)" dy="0.35em">all</text>
<rect x="216.3" y="81.4" width="133.1" height="38" fill="#fff" stroke="none" stroke-width="1"/>
<line x1="216.3" y1="112.55" x2="349.4" y2="112.55" stroke="#f2f2f2" stroke-width="0.5"/>
<line x1="216.3" y1="102.05" x2="349.4" y2="102.05" stroke="#f2f2f2" stroke-width="0.5"/>
<line x1="216.3" y1="91.55" x2="349.4" y2="91.55" stroke="#f2f2f2" stroke-width="0.5"/>
<line x1="216.3" y1="117.8" x2="349.4" y2="117.8" stroke="#e3e3e3" stroke-width="0.6"/>
<line x1="216.3" y1="107.3" x2="349.4" y2="107.3" stroke="#e3e3e3" stroke-width="0.6"/>
<line x1="216.3" y1="96.8" x2="349.4" y2="96.8" stroke="#e3e3e3" stroke-width="0.6"/>
<line x1="216.3" y1="86.3" x2="349.4" y2="86.3" stroke="#e3e3e3" stroke-width="0.6"/>
<line x1="229.18" y1="81.4" x2="229.18" y2="119.4" stroke="#e3e3e3" stroke-width="0.6"/>
<line x1="250.65" y1="81.4" x2="250.65" y2="119.4" stroke="#e3e3e3" stroke-width="0.6"/>
<line x1="272.12" y1="81.4" x2="272.12" y2="119.4" stroke="#e3e3e3" stroke-width="0.6"/>
<line x1="293.58" y1="81.4" x2="293.58" y2="119.4" stroke="#e3e3e3" stroke-width="0.6"/>
<line x1="315.05" y1="81.4" x2="315.05" y2="119.4" stroke="#e3e3e3" stroke-width="0.6"/>
<line x1="336.52" y1="81.4" x2="336.52" y2="119.4" stroke="#e3e3e3" stroke-width="0.6"/>
<rect x="219.52" y="111.4" width="9.66" height="6.5" fill="#000" stroke="#000" stroke-width="0.75"/>
<rect x="229.18" y="116.3" width="9.66" height="1.6" fill="#56c8f5" stroke="#111" stroke-width="0.75"/>
<path d="M223.58 109.8V108.4H234.78V109.8" fill="none" stroke="#222" stroke-width="0.75"/>
<text x="229.18" y="107.6" font-size="6.4" text-anchor="middle" fill="#111" font-weight="normal">*</text>
<line x1="245.82" y1="99.6" x2="245.82" y2="102.8" stroke="#000" stroke-width="0.7"/>
<line x1="243.42" y1="99.6" x2="248.22" y2="99.6" stroke="#000" stroke-width="0.7"/>
<rect x="240.99" y="102.8" width="9.66" height="15.1" fill="#000" stroke="#000" stroke-width="0.75"/>
<rect x="250.65" y="112.6" width="9.66" height="5.3" fill="#56c8f5" stroke="#111" stroke-width="0.75"/>
<rect x="262.46" y="109.7" width="9.66" height="8.2" fill="#000" stroke="#000" stroke-width="0.75"/>
<rect x="272.12" y="113.1" width="9.66" height="4.8" fill="#56c8f5" stroke="#111" stroke-width="0.75"/>
<path d="M266.52 108.1V106.7H277.72V108.1" fill="none" stroke="#222" stroke-width="0.75"/>
<text x="272.12" y="105.9" font-size="6.4" text-anchor="middle" fill="#111" font-weight="normal">*</text>
<rect x="283.92" y="114.8" width="9.66" height="3.1" fill="#000" stroke="#000" stroke-width="0.75"/>
<rect x="293.58" y="116.1" width="9.66" height="1.8" fill="#56c8f5" stroke="#111" stroke-width="0.75"/>
<line x1="310.22" y1="92.7" x2="310.22" y2="94.9" stroke="#000" stroke-width="0.7"/>
<line x1="307.82" y1="92.7" x2="312.62" y2="92.7" stroke="#000" stroke-width="0.7"/>
<rect x="305.39" y="94.9" width="9.66" height="23" fill="#000" stroke="#000" stroke-width="0.75"/>
<rect x="315.05" y="99.9" width="9.66" height="18" fill="#56c8f5" stroke="#111" stroke-width="0.75"/>
<rect x="216.3" y="81.4" width="133.1" height="38" fill="none" stroke="#333" stroke-width="0.8"/>
<line x1="213.4" y1="117.8" x2="216.3" y2="117.8" stroke="#333" stroke-width="0.75"/>
<text x="211.8" y="120.2" font-size="7" text-anchor="end" fill="#666666" font-weight="normal">0</text>
<line x1="213.4" y1="107.3" x2="216.3" y2="107.3" stroke="#333" stroke-width="0.75"/>
<text x="211.8" y="109.7" font-size="7" text-anchor="end" fill="#666666" font-weight="normal">20</text>
<line x1="213.4" y1="96.8" x2="216.3" y2="96.8" stroke="#333" stroke-width="0.75"/>
<text x="211.8" y="99.2" font-size="7" text-anchor="end" fill="#666666" font-weight="normal">40</text>
<line x1="213.4" y1="86.3" x2="216.3" y2="86.3" stroke="#333" stroke-width="0.75"/>
<text x="211.8" y="88.7" font-size="7" text-anchor="end" fill="#666666" font-weight="normal">60</text>
<rect x="376.6" y="81.4" width="123.7" height="38" fill="#fff" stroke="none" stroke-width="1"/>
<line x1="376.6" y1="112.95" x2="500.3" y2="112.95" stroke="#f2f2f2" stroke-width="0.5"/>
<line x1="376.6" y1="102.85" x2="500.3" y2="102.85" stroke="#f2f2f2" stroke-width="0.5"/>
<line x1="376.6" y1="92.75" x2="500.3" y2="92.75" stroke="#f2f2f2" stroke-width="0.5"/>
<line x1="376.6" y1="82.65" x2="500.3" y2="82.65" stroke="#f2f2f2" stroke-width="0.5"/>
<line x1="376.6" y1="118" x2="500.3" y2="118" stroke="#e3e3e3" stroke-width="0.6"/>
<line x1="376.6" y1="107.9" x2="500.3" y2="107.9" stroke="#e3e3e3" stroke-width="0.6"/>
<line x1="376.6" y1="97.8" x2="500.3" y2="97.8" stroke="#e3e3e3" stroke-width="0.6"/>
<line x1="376.6" y1="87.4" x2="500.3" y2="87.4" stroke="#e3e3e3" stroke-width="0.6"/>
<line x1="390.87" y1="81.4" x2="390.87" y2="119.4" stroke="#e3e3e3" stroke-width="0.6"/>
<line x1="414.66" y1="81.4" x2="414.66" y2="119.4" stroke="#e3e3e3" stroke-width="0.6"/>
<line x1="438.45" y1="81.4" x2="438.45" y2="119.4" stroke="#e3e3e3" stroke-width="0.6"/>
<line x1="462.24" y1="81.4" x2="462.24" y2="119.4" stroke="#e3e3e3" stroke-width="0.6"/>
<line x1="486.03" y1="81.4" x2="486.03" y2="119.4" stroke="#e3e3e3" stroke-width="0.6"/>
<line x1="491.38" y1="92.8" x2="491.38" y2="94" stroke="#3fb8ee" stroke-width="0.7"/>
<line x1="488.98" y1="92.8" x2="493.78" y2="92.8" stroke="#3fb8ee" stroke-width="0.7"/>
<rect x="475.32" y="114.2" width="10.7" height="3.8" fill="#000" stroke="#000" stroke-width="0.75"/>
<rect x="486.03" y="94" width="10.7" height="24" fill="#56c8f5" stroke="#111" stroke-width="0.75"/>
<path d="M480.43 90.8V89.4H491.63V90.8" fill="none" stroke="#222" stroke-width="0.75"/>
<text x="486.03" y="88.6" font-size="6.4" text-anchor="middle" fill="#111" font-weight="normal">**</text>
<rect x="376.6" y="81.4" width="123.7" height="38" fill="none" stroke="#333" stroke-width="0.8"/>
<line x1="373.7" y1="118" x2="376.6" y2="118" stroke="#333" stroke-width="0.75"/>
<text x="372.1" y="120.4" font-size="7" text-anchor="end" fill="#666666" font-weight="normal">0</text>
<line x1="373.7" y1="107.9" x2="376.6" y2="107.9" stroke="#333" stroke-width="0.75"/>
<text x="372.1" y="110.3" font-size="7" text-anchor="end" fill="#666666" font-weight="normal">20</text>
<line x1="373.7" y1="97.8" x2="376.6" y2="97.8" stroke="#333" stroke-width="0.75"/>
<text x="372.1" y="100.2" font-size="7" text-anchor="end" fill="#666666" font-weight="normal">40</text>
<line x1="373.7" y1="87.4" x2="376.6" y2="87.4" stroke="#333" stroke-width="0.75"/>
<text x="372.1" y="89.8" font-size="7" text-anchor="end" fill="#666666" font-weight="normal">60</text>
<rect x="500.3" y="81.4" width="16.5" height="38" fill="#d4dcd9" stroke="#555" stroke-width="0.7"/>
<text x="508" y="100.4" font-size="8.5" text-anchor="middle" fill="#1a1a1a" font-weight="normal" transform="rotate(90 508 100.4)" dy="0.35em">CE</text>
<rect x="216.3" y="125.2" width="133.1" height="38" fill="#fff" stroke="none" stroke-width="1"/>
<line x1="216.3" y1="156.1" x2="349.4" y2="156.1" stroke="#f2f2f2" stroke-width="0.5"/>
<line x1="216.3" y1="144.5" x2="349.4" y2="144.5" stroke="#f2f2f2" stroke-width="0.5"/>
<line x1="216.3" y1="132.9" x2="349.4" y2="132.9" stroke="#f2f2f2" stroke-width="0.5"/>
<line x1="216.3" y1="161.9" x2="349.4" y2="161.9" stroke="#e3e3e3" stroke-width="0.6"/>
<line x1="216.3" y1="150.3" x2="349.4" y2="150.3" stroke="#e3e3e3" stroke-width="0.6"/>
<line x1="216.3" y1="138.6" x2="349.4" y2="138.6" stroke="#e3e3e3" stroke-width="0.6"/>
<line x1="216.3" y1="127.2" x2="349.4" y2="127.2" stroke="#e3e3e3" stroke-width="0.6"/>
<line x1="229.18" y1="125.2" x2="229.18" y2="163.2" stroke="#e3e3e3" stroke-width="0.6"/>
<line x1="250.65" y1="125.2" x2="250.65" y2="163.2" stroke="#e3e3e3" stroke-width="0.6"/>
<line x1="272.12" y1="125.2" x2="272.12" y2="163.2" stroke="#e3e3e3" stroke-width="0.6"/>
<line x1="293.58" y1="125.2" x2="293.58" y2="163.2" stroke="#e3e3e3" stroke-width="0.6"/>
<line x1="315.05" y1="125.2" x2="315.05" y2="163.2" stroke="#e3e3e3" stroke-width="0.6"/>
<line x1="336.52" y1="125.2" x2="336.52" y2="163.2" stroke="#e3e3e3" stroke-width="0.6"/>
<rect x="219.52" y="161.1" width="9.66" height="0.9" fill="#000" stroke="#000" stroke-width="0.75"/>
<rect x="229.18" y="161.6" width="9.66" height="0.6" fill="#56c8f5" stroke="#111" stroke-width="0.75"/>
<path d="M223.58 159.3V157.9H234.78V159.3" fill="none" stroke="#222" stroke-width="0.75"/>
<text x="229.18" y="157.1" font-size="6.4" text-anchor="middle" fill="#111" font-weight="normal">*</text>
<rect x="240.99" y="154.4" width="9.66" height="7.6" fill="#000" stroke="#000" stroke-width="0.75"/>
<rect x="250.65" y="155.2" width="9.66" height="6.8" fill="#56c8f5" stroke="#111" stroke-width="0.75"/>
<rect x="262.46" y="154.4" width="9.66" height="7.6" fill="#000" stroke="#000" stroke-width="0.75"/>
<rect x="272.12" y="159.4" width="9.66" height="2.6" fill="#56c8f5" stroke="#111" stroke-width="0.75"/>
<path d="M266.52 152.9V151.5H277.72V152.9" fill="none" stroke="#222" stroke-width="0.75"/>
<text x="272.12" y="150.7" font-size="6.4" text-anchor="middle" fill="#111" font-weight="normal">****</text>
<rect x="283.92" y="153.5" width="9.66" height="8.5" fill="#000" stroke="#000" stroke-width="0.75"/>
<rect x="293.58" y="150.2" width="9.66" height="11.8" fill="#56c8f5" stroke="#111" stroke-width="0.75"/>
<path d="M287.98 147.9V146.5H299.18V147.9" fill="none" stroke="#222" stroke-width="0.75"/>
<text x="293.58" y="145.7" font-size="6.4" text-anchor="middle" fill="#111" font-weight="normal">**</text>
<rect x="305.39" y="136.3" width="9.66" height="25.7" fill="#000" stroke="#000" stroke-width="0.75"/>
<rect x="315.05" y="143.4" width="9.66" height="18.6" fill="#56c8f5" stroke="#111" stroke-width="0.75"/>
<path d="M309.45 134.4V133H320.65V134.4" fill="none" stroke="#222" stroke-width="0.75"/>
<text x="315.05" y="132.2" font-size="6.4" text-anchor="middle" fill="#111" font-weight="normal">**</text>
<rect x="326.86" y="160.3" width="9.66" height="1.7" fill="#000" stroke="#000" stroke-width="0.75"/>
<rect x="336.52" y="159.8" width="9.66" height="2.2" fill="#56c8f5" stroke="#111" stroke-width="0.75"/>
<path d="M330.92 157.6V156.2H342.12V157.6" fill="none" stroke="#222" stroke-width="0.75"/>
<text x="336.52" y="155.4" font-size="6.4" text-anchor="middle" fill="#111" font-weight="normal">*</text>
<rect x="216.3" y="125.2" width="133.1" height="38" fill="none" stroke="#333" stroke-width="0.8"/>
<line x1="213.4" y1="161.9" x2="216.3" y2="161.9" stroke="#333" stroke-width="0.75"/>
<text x="211.8" y="164.3" font-size="7" text-anchor="end" fill="#666666" font-weight="normal">0</text>
<line x1="213.4" y1="150.3" x2="216.3" y2="150.3" stroke="#333" stroke-width="0.75"/>
<text x="211.8" y="152.7" font-size="7" text-anchor="end" fill="#666666" font-weight="normal">20</text>
<line x1="213.4" y1="138.6" x2="216.3" y2="138.6" stroke="#333" stroke-width="0.75"/>
<text x="211.8" y="141" font-size="7" text-anchor="end" fill="#666666" font-weight="normal">40</text>
<line x1="213.4" y1="127.2" x2="216.3" y2="127.2" stroke="#333" stroke-width="0.75"/>
<text x="211.8" y="129.6" font-size="7" text-anchor="end" fill="#666666" font-weight="normal">60</text>
<rect x="376.6" y="125.2" width="123.7" height="38" fill="#fff" stroke="none" stroke-width="1"/>
<line x1="376.6" y1="156.4" x2="500.3" y2="156.4" stroke="#f2f2f2" stroke-width="0.5"/>
<line x1="376.6" y1="145.2" x2="500.3" y2="145.2" stroke="#f2f2f2" stroke-width="0.5"/>
<line x1="376.6" y1="134" x2="500.3" y2="134" stroke="#f2f2f2" stroke-width="0.5"/>
<line x1="376.6" y1="162" x2="500.3" y2="162" stroke="#e3e3e3" stroke-width="0.6"/>
<line x1="376.6" y1="150.8" x2="500.3" y2="150.8" stroke="#e3e3e3" stroke-width="0.6"/>
<line x1="376.6" y1="139.5" x2="500.3" y2="139.5" stroke="#e3e3e3" stroke-width="0.6"/>
<line x1="376.6" y1="128.4" x2="500.3" y2="128.4" stroke="#e3e3e3" stroke-width="0.6"/>
<line x1="390.87" y1="125.2" x2="390.87" y2="163.2" stroke="#e3e3e3" stroke-width="0.6"/>
<line x1="414.66" y1="125.2" x2="414.66" y2="163.2" stroke="#e3e3e3" stroke-width="0.6"/>
<line x1="438.45" y1="125.2" x2="438.45" y2="163.2" stroke="#e3e3e3" stroke-width="0.6"/>
<line x1="462.24" y1="125.2" x2="462.24" y2="163.2" stroke="#e3e3e3" stroke-width="0.6"/>
<line x1="486.03" y1="125.2" x2="486.03" y2="163.2" stroke="#e3e3e3" stroke-width="0.6"/>
<line x1="385.52" y1="155.9" x2="385.52" y2="156.9" stroke="#000" stroke-width="0.7"/>
<line x1="383.12" y1="155.9" x2="387.92" y2="155.9" stroke="#000" stroke-width="0.7"/>
<line x1="396.23" y1="152.4" x2="396.23" y2="153.2" stroke="#3fb8ee" stroke-width="0.7"/>
<line x1="393.83" y1="152.4" x2="398.63" y2="152.4" stroke="#3fb8ee" stroke-width="0.7"/>
<rect x="380.17" y="156.9" width="10.7" height="5.1" fill="#000" stroke="#000" stroke-width="0.75"/>
<rect x="390.87" y="153.2" width="10.7" height="8.8" fill="#56c8f5" stroke="#111" stroke-width="0.75"/>
<path d="M385.27 150.7V149.3H396.47V150.7" fill="none" stroke="#222" stroke-width="0.75"/>
<text x="390.87" y="148.5" font-size="6.4" text-anchor="middle" fill="#111" font-weight="normal">*</text>
<line x1="409.31" y1="152.8" x2="409.31" y2="154" stroke="#000" stroke-width="0.7"/>
<line x1="406.91" y1="152.8" x2="411.71" y2="152.8" stroke="#000" stroke-width="0.7"/>
<line x1="420.01" y1="136.6" x2="420.01" y2="137.7" stroke="#3fb8ee" stroke-width="0.7"/>
<line x1="417.61" y1="136.6" x2="422.41" y2="136.6" stroke="#3fb8ee" stroke-width="0.7"/>
<rect x="403.96" y="154" width="10.7" height="8" fill="#000" stroke="#000" stroke-width="0.75"/>
<rect x="414.66" y="137.7" width="10.7" height="24.3" fill="#56c8f5" stroke="#111" stroke-width="0.75"/>
<path d="M409.06 134.9V133.5H420.26V134.9" fill="none" stroke="#222" stroke-width="0.75"/>
<text x="414.66" y="132.7" font-size="6.4" text-anchor="middle" fill="#111" font-weight="normal">**</text>
<rect x="427.75" y="160.2" width="10.7" height="1.8" fill="#000" stroke="#000" stroke-width="0.75"/>
<rect x="438.45" y="157.7" width="10.7" height="4.3" fill="#56c8f5" stroke="#111" stroke-width="0.75"/>
<path d="M432.85 155.4V154H444.05V155.4" fill="none" stroke="#222" stroke-width="0.75"/>
<text x="438.45" y="153.2" font-size="6.4" text-anchor="middle" fill="#111" font-weight="normal">**</text>
<rect x="451.53" y="152.7" width="10.7" height="9.3" fill="#000" stroke="#000" stroke-width="0.75"/>
<rect x="462.24" y="149.8" width="10.7" height="12.2" fill="#56c8f5" stroke="#111" stroke-width="0.75"/>
<path d="M456.64 147.5V146.1H467.84V147.5" fill="none" stroke="#222" stroke-width="0.75"/>
<text x="462.24" y="145.3" font-size="6.4" text-anchor="middle" fill="#111" font-weight="normal">**</text>
<rect x="475.32" y="158.2" width="10.7" height="3.8" fill="#000" stroke="#000" stroke-width="0.75"/>
<rect x="486.03" y="157" width="10.7" height="5" fill="#56c8f5" stroke="#111" stroke-width="0.75"/>
<path d="M480.43 154.9V153.5H491.63V154.9" fill="none" stroke="#222" stroke-width="0.75"/>
<text x="486.03" y="152.7" font-size="6.4" text-anchor="middle" fill="#111" font-weight="normal">**</text>
<rect x="376.6" y="125.2" width="123.7" height="38" fill="none" stroke="#333" stroke-width="0.8"/>
<line x1="373.7" y1="162" x2="376.6" y2="162" stroke="#333" stroke-width="0.75"/>
<text x="372.1" y="164.4" font-size="7" text-anchor="end" fill="#666666" font-weight="normal">0</text>
<line x1="373.7" y1="150.8" x2="376.6" y2="150.8" stroke="#333" stroke-width="0.75"/>
<text x="372.1" y="153.2" font-size="7" text-anchor="end" fill="#666666" font-weight="normal">5</text>
<line x1="373.7" y1="139.5" x2="376.6" y2="139.5" stroke="#333" stroke-width="0.75"/>
<text x="372.1" y="141.9" font-size="7" text-anchor="end" fill="#666666" font-weight="normal">10</text>
<line x1="373.7" y1="128.4" x2="376.6" y2="128.4" stroke="#333" stroke-width="0.75"/>
<text x="372.1" y="130.8" font-size="7" text-anchor="end" fill="#666666" font-weight="normal">15</text>
<rect x="500.3" y="125.2" width="16.5" height="38" fill="#d4dcd9" stroke="#555" stroke-width="0.7"/>
<text x="508" y="144.2" font-size="8.5" text-anchor="middle" fill="#1a1a1a" font-weight="normal" transform="rotate(90 508 144.2)" dy="0.35em">PE</text>
<rect x="216.3" y="169.1" width="133.1" height="37.8" fill="#fff" stroke="none" stroke-width="1"/>
<line x1="216.3" y1="200.9" x2="349.4" y2="200.9" stroke="#f2f2f2" stroke-width="0.5"/>
<line x1="216.3" y1="191.5" x2="349.4" y2="191.5" stroke="#f2f2f2" stroke-width="0.5"/>
<line x1="216.3" y1="182.1" x2="349.4" y2="182.1" stroke="#f2f2f2" stroke-width="0.5"/>
<line x1="216.3" y1="172.7" x2="349.4" y2="172.7" stroke="#f2f2f2" stroke-width="0.5"/>
<line x1="216.3" y1="205.6" x2="349.4" y2="205.6" stroke="#e3e3e3" stroke-width="0.6"/>
<line x1="216.3" y1="196.2" x2="349.4" y2="196.2" stroke="#e3e3e3" stroke-width="0.6"/>
<line x1="216.3" y1="186.8" x2="349.4" y2="186.8" stroke="#e3e3e3" stroke-width="0.6"/>
<line x1="216.3" y1="177.5" x2="349.4" y2="177.5" stroke="#e3e3e3" stroke-width="0.6"/>
<line x1="229.18" y1="169.1" x2="229.18" y2="206.9" stroke="#e3e3e3" stroke-width="0.6"/>
<line x1="250.65" y1="169.1" x2="250.65" y2="206.9" stroke="#e3e3e3" stroke-width="0.6"/>
<line x1="272.12" y1="169.1" x2="272.12" y2="206.9" stroke="#e3e3e3" stroke-width="0.6"/>
<line x1="293.58" y1="169.1" x2="293.58" y2="206.9" stroke="#e3e3e3" stroke-width="0.6"/>
<line x1="315.05" y1="169.1" x2="315.05" y2="206.9" stroke="#e3e3e3" stroke-width="0.6"/>
<line x1="336.52" y1="169.1" x2="336.52" y2="206.9" stroke="#e3e3e3" stroke-width="0.6"/>
<rect x="219.52" y="204.4" width="9.66" height="1.5" fill="#000" stroke="#000" stroke-width="0.75"/>
<rect x="229.18" y="205.3" width="9.66" height="0.6" fill="#56c8f5" stroke="#111" stroke-width="0.75"/>
<path d="M223.58 202.8V201.4H234.78V202.8" fill="none" stroke="#222" stroke-width="0.75"/>
<text x="229.18" y="200.6" font-size="6.4" text-anchor="middle" fill="#111" font-weight="normal">***</text>
<rect x="240.99" y="197.2" width="9.66" height="8.7" fill="#000" stroke="#000" stroke-width="0.75"/>
<rect x="250.65" y="198.9" width="9.66" height="7" fill="#56c8f5" stroke="#111" stroke-width="0.75"/>
<path d="M245.05 195.6V194.2H256.25V195.6" fill="none" stroke="#222" stroke-width="0.75"/>
<text x="250.65" y="193.4" font-size="6.4" text-anchor="middle" fill="#111" font-weight="normal">*</text>
<rect x="262.46" y="200.9" width="9.66" height="5" fill="#000" stroke="#000" stroke-width="0.75"/>
<rect x="272.12" y="203.4" width="9.66" height="2.5" fill="#56c8f5" stroke="#111" stroke-width="0.75"/>
<path d="M266.52 198.6V197.2H277.72V198.6" fill="none" stroke="#222" stroke-width="0.75"/>
<text x="272.12" y="196.4" font-size="6.4" text-anchor="middle" fill="#111" font-weight="normal">***</text>
<rect x="283.92" y="202.3" width="9.66" height="3.6" fill="#000" stroke="#000" stroke-width="0.75"/>
<rect x="293.58" y="203.4" width="9.66" height="2.5" fill="#56c8f5" stroke="#111" stroke-width="0.75"/>
<path d="M287.98 200.8V199.4H299.18V200.8" fill="none" stroke="#222" stroke-width="0.75"/>
<text x="293.58" y="198.6" font-size="6.4" text-anchor="middle" fill="#111" font-weight="normal">*</text>
<line x1="310.22" y1="179.4" x2="310.22" y2="180.3" stroke="#000" stroke-width="0.7"/>
<line x1="307.82" y1="179.4" x2="312.62" y2="179.4" stroke="#000" stroke-width="0.7"/>
<rect x="305.39" y="180.3" width="9.66" height="25.6" fill="#000" stroke="#000" stroke-width="0.75"/>
<rect x="315.05" y="193" width="9.66" height="12.9" fill="#56c8f5" stroke="#111" stroke-width="0.75"/>
<path d="M309.45 178.4V177H320.65V178.4" fill="none" stroke="#222" stroke-width="0.75"/>
<text x="315.05" y="176.2" font-size="6.4" text-anchor="middle" fill="#111" font-weight="normal">**</text>
<rect x="326.86" y="204.4" width="9.66" height="1.5" fill="#000" stroke="#000" stroke-width="0.75"/>
<rect x="336.52" y="204.8" width="9.66" height="1.1" fill="#56c8f5" stroke="#111" stroke-width="0.75"/>
<path d="M330.92 202.8V201.4H342.12V202.8" fill="none" stroke="#222" stroke-width="0.75"/>
<text x="336.52" y="200.6" font-size="6.4" text-anchor="middle" fill="#111" font-weight="normal">**</text>
<rect x="216.3" y="169.1" width="133.1" height="37.8" fill="none" stroke="#333" stroke-width="0.8"/>
<line x1="213.4" y1="205.6" x2="216.3" y2="205.6" stroke="#333" stroke-width="0.75"/>
<text x="211.8" y="208" font-size="7" text-anchor="end" fill="#666666" font-weight="normal">0</text>
<line x1="213.4" y1="196.2" x2="216.3" y2="196.2" stroke="#333" stroke-width="0.75"/>
<text x="211.8" y="198.6" font-size="7" text-anchor="end" fill="#666666" font-weight="normal">20</text>
<line x1="213.4" y1="186.8" x2="216.3" y2="186.8" stroke="#333" stroke-width="0.75"/>
<text x="211.8" y="189.2" font-size="7" text-anchor="end" fill="#666666" font-weight="normal">40</text>
<line x1="213.4" y1="177.5" x2="216.3" y2="177.5" stroke="#333" stroke-width="0.75"/>
<text x="211.8" y="179.9" font-size="7" text-anchor="end" fill="#666666" font-weight="normal">60</text>
<rect x="376.6" y="169.1" width="123.7" height="37.8" fill="#fff" stroke="none" stroke-width="1"/>
<line x1="376.6" y1="199.75" x2="500.3" y2="199.75" stroke="#f2f2f2" stroke-width="0.5"/>
<line x1="376.6" y1="187.65" x2="500.3" y2="187.65" stroke="#f2f2f2" stroke-width="0.5"/>
<line x1="376.6" y1="175.55" x2="500.3" y2="175.55" stroke="#f2f2f2" stroke-width="0.5"/>
<line x1="376.6" y1="205.8" x2="500.3" y2="205.8" stroke="#e3e3e3" stroke-width="0.6"/>
<line x1="376.6" y1="193.7" x2="500.3" y2="193.7" stroke="#e3e3e3" stroke-width="0.6"/>
<line x1="376.6" y1="181.6" x2="500.3" y2="181.6" stroke="#e3e3e3" stroke-width="0.6"/>
<line x1="376.6" y1="169.5" x2="500.3" y2="169.5" stroke="#e3e3e3" stroke-width="0.6"/>
<line x1="390.87" y1="169.1" x2="390.87" y2="206.9" stroke="#e3e3e3" stroke-width="0.6"/>
<line x1="414.66" y1="169.1" x2="414.66" y2="206.9" stroke="#e3e3e3" stroke-width="0.6"/>
<line x1="438.45" y1="169.1" x2="438.45" y2="206.9" stroke="#e3e3e3" stroke-width="0.6"/>
<line x1="462.24" y1="169.1" x2="462.24" y2="206.9" stroke="#e3e3e3" stroke-width="0.6"/>
<line x1="486.03" y1="169.1" x2="486.03" y2="206.9" stroke="#e3e3e3" stroke-width="0.6"/>
<rect x="380.17" y="204.8" width="10.7" height="1.1" fill="#000" stroke="#000" stroke-width="0.75"/>
<rect x="390.87" y="205.1" width="10.7" height="0.8" fill="#56c8f5" stroke="#111" stroke-width="0.75"/>
<rect x="403.96" y="204.1" width="10.7" height="1.8" fill="#000" stroke="#000" stroke-width="0.75"/>
<rect x="414.66" y="202.3" width="10.7" height="3.6" fill="#56c8f5" stroke="#111" stroke-width="0.75"/>
<path d="M409.06 199.8V198.4H420.26V199.8" fill="none" stroke="#222" stroke-width="0.75"/>
<text x="414.66" y="197.6" font-size="6.4" text-anchor="middle" fill="#111" font-weight="normal">**</text>
<rect x="427.75" y="205.1" width="10.7" height="0.8" fill="#000" stroke="#000" stroke-width="0.75"/>
<rect x="438.45" y="205.1" width="10.7" height="0.8" fill="#56c8f5" stroke="#111" stroke-width="0.75"/>
<rect x="451.53" y="203" width="10.7" height="2.9" fill="#000" stroke="#000" stroke-width="0.75"/>
<rect x="462.24" y="203.4" width="10.7" height="2.5" fill="#56c8f5" stroke="#111" stroke-width="0.75"/>
<line x1="491.38" y1="180.3" x2="491.38" y2="181.2" stroke="#3fb8ee" stroke-width="0.7"/>
<line x1="488.98" y1="180.3" x2="493.78" y2="180.3" stroke="#3fb8ee" stroke-width="0.7"/>
<rect x="475.32" y="201.4" width="10.7" height="4.5" fill="#000" stroke="#000" stroke-width="0.75"/>
<rect x="486.03" y="181.2" width="10.7" height="24.7" fill="#56c8f5" stroke="#111" stroke-width="0.75"/>
<path d="M480.43 178.5V177.1H491.63V178.5" fill="none" stroke="#222" stroke-width="0.75"/>
<text x="486.03" y="176.3" font-size="6.4" text-anchor="middle" fill="#111" font-weight="normal">***</text>
<rect x="376.6" y="169.1" width="123.7" height="37.8" fill="none" stroke="#333" stroke-width="0.8"/>
<line x1="373.7" y1="205.8" x2="376.6" y2="205.8" stroke="#333" stroke-width="0.75"/>
<text x="372.1" y="208.2" font-size="7" text-anchor="end" fill="#666666" font-weight="normal">0</text>
<line x1="373.7" y1="193.7" x2="376.6" y2="193.7" stroke="#333" stroke-width="0.75"/>
<text x="372.1" y="196.1" font-size="7" text-anchor="end" fill="#666666" font-weight="normal">20</text>
<line x1="373.7" y1="181.6" x2="376.6" y2="181.6" stroke="#333" stroke-width="0.75"/>
<text x="372.1" y="184" font-size="7" text-anchor="end" fill="#666666" font-weight="normal">40</text>
<line x1="373.7" y1="169.5" x2="376.6" y2="169.5" stroke="#333" stroke-width="0.75"/>
<text x="372.1" y="171.9" font-size="7" text-anchor="end" fill="#666666" font-weight="normal">60</text>
<rect x="500.3" y="169.1" width="16.5" height="37.8" fill="#d4dcd9" stroke="#555" stroke-width="0.7"/>
<text x="508" y="188" font-size="8.5" text-anchor="middle" fill="#1a1a1a" font-weight="normal" transform="rotate(90 508 188)" dy="0.35em">PG</text>
<rect x="216.3" y="212.8" width="133.1" height="38" fill="#fff" stroke="none" stroke-width="1"/>
<line x1="216.3" y1="243.4" x2="349.4" y2="243.4" stroke="#f2f2f2" stroke-width="0.5"/>
<line x1="216.3" y1="231" x2="349.4" y2="231" stroke="#f2f2f2" stroke-width="0.5"/>
<line x1="216.3" y1="218.6" x2="349.4" y2="218.6" stroke="#f2f2f2" stroke-width="0.5"/>
<line x1="216.3" y1="249.6" x2="349.4" y2="249.6" stroke="#e3e3e3" stroke-width="0.6"/>
<line x1="216.3" y1="237.2" x2="349.4" y2="237.2" stroke="#e3e3e3" stroke-width="0.6"/>
<line x1="216.3" y1="224.9" x2="349.4" y2="224.9" stroke="#e3e3e3" stroke-width="0.6"/>
<line x1="229.18" y1="212.8" x2="229.18" y2="250.8" stroke="#e3e3e3" stroke-width="0.6"/>
<line x1="250.65" y1="212.8" x2="250.65" y2="250.8" stroke="#e3e3e3" stroke-width="0.6"/>
<line x1="272.12" y1="212.8" x2="272.12" y2="250.8" stroke="#e3e3e3" stroke-width="0.6"/>
<line x1="293.58" y1="212.8" x2="293.58" y2="250.8" stroke="#e3e3e3" stroke-width="0.6"/>
<line x1="315.05" y1="212.8" x2="315.05" y2="250.8" stroke="#e3e3e3" stroke-width="0.6"/>
<line x1="336.52" y1="212.8" x2="336.52" y2="250.8" stroke="#e3e3e3" stroke-width="0.6"/>
<rect x="240.99" y="239" width="9.66" height="10.8" fill="#000" stroke="#000" stroke-width="0.75"/>
<rect x="250.65" y="244.6" width="9.66" height="5.2" fill="#56c8f5" stroke="#111" stroke-width="0.75"/>
<path d="M245.05 237.5V236.1H256.25V237.5" fill="none" stroke="#222" stroke-width="0.75"/>
<text x="250.65" y="235.3" font-size="6.4" text-anchor="middle" fill="#111" font-weight="normal">**</text>
<rect x="262.46" y="244.9" width="9.66" height="4.9" fill="#000" stroke="#000" stroke-width="0.75"/>
<rect x="272.12" y="247.4" width="9.66" height="2.4" fill="#56c8f5" stroke="#111" stroke-width="0.75"/>
<path d="M266.52 242.6V241.2H277.72V242.6" fill="none" stroke="#222" stroke-width="0.75"/>
<text x="272.12" y="240.4" font-size="6.4" text-anchor="middle" fill="#111" font-weight="normal">*</text>
<line x1="298.41" y1="226.9" x2="298.41" y2="228.2" stroke="#3fb8ee" stroke-width="0.7"/>
<line x1="296.01" y1="226.9" x2="300.81" y2="226.9" stroke="#3fb8ee" stroke-width="0.7"/>
<rect x="283.92" y="235.3" width="9.66" height="14.5" fill="#000" stroke="#000" stroke-width="0.75"/>
<rect x="293.58" y="228.2" width="9.66" height="21.6" fill="#56c8f5" stroke="#111" stroke-width="0.75"/>
<path d="M287.98 224.9V223.5H299.18V224.9" fill="none" stroke="#222" stroke-width="0.75"/>
<text x="293.58" y="222.7" font-size="6.4" text-anchor="middle" fill="#111" font-weight="normal">*</text>
<line x1="319.88" y1="237.6" x2="319.88" y2="238.7" stroke="#3fb8ee" stroke-width="0.7"/>
<line x1="317.48" y1="237.6" x2="322.28" y2="237.6" stroke="#3fb8ee" stroke-width="0.7"/>
<rect x="305.39" y="224.3" width="9.66" height="25.5" fill="#000" stroke="#000" stroke-width="0.75"/>
<rect x="315.05" y="238.7" width="9.66" height="11.1" fill="#56c8f5" stroke="#111" stroke-width="0.75"/>
<path d="M309.45 222.4V221H320.65V222.4" fill="none" stroke="#222" stroke-width="0.75"/>
<text x="315.05" y="220.2" font-size="6.4" text-anchor="middle" fill="#111" font-weight="normal">***</text>
<rect x="326.86" y="248.4" width="9.66" height="1.4" fill="#000" stroke="#000" stroke-width="0.75"/>
<rect x="336.52" y="247.8" width="9.66" height="2" fill="#56c8f5" stroke="#111" stroke-width="0.75"/>
<rect x="216.3" y="212.8" width="133.1" height="38" fill="none" stroke="#333" stroke-width="0.8"/>
<line x1="213.4" y1="249.6" x2="216.3" y2="249.6" stroke="#333" stroke-width="0.75"/>
<text x="211.8" y="252" font-size="7" text-anchor="end" fill="#666666" font-weight="normal">0</text>
<line x1="213.4" y1="237.2" x2="216.3" y2="237.2" stroke="#333" stroke-width="0.75"/>
<text x="211.8" y="239.6" font-size="7" text-anchor="end" fill="#666666" font-weight="normal">20</text>
<line x1="213.4" y1="224.9" x2="216.3" y2="224.9" stroke="#333" stroke-width="0.75"/>
<text x="211.8" y="227.3" font-size="7" text-anchor="end" fill="#666666" font-weight="normal">40</text>
<line x1="229.18" y1="250.8" x2="229.18" y2="253.2" stroke="#333" stroke-width="0.7"/>
<text x="229.18" y="260.8" font-size="6.6" text-anchor="middle" fill="#666666" font-weight="normal">14:0;0</text>
<line x1="250.65" y1="250.8" x2="250.65" y2="253.2" stroke="#333" stroke-width="0.7"/>
<text x="250.65" y="260.8" font-size="6.6" text-anchor="middle" fill="#666666" font-weight="normal">16:0;0</text>
<line x1="272.12" y1="250.8" x2="272.12" y2="253.2" stroke="#333" stroke-width="0.7"/>
<text x="272.12" y="260.8" font-size="6.6" text-anchor="middle" fill="#666666" font-weight="normal">16:1;0</text>
<line x1="293.58" y1="250.8" x2="293.58" y2="253.2" stroke="#333" stroke-width="0.7"/>
<text x="293.58" y="260.8" font-size="6.6" text-anchor="middle" fill="#666666" font-weight="normal">18:0;0</text>
<line x1="315.05" y1="250.8" x2="315.05" y2="253.2" stroke="#333" stroke-width="0.7"/>
<text x="315.05" y="260.8" font-size="6.6" text-anchor="middle" fill="#666666" font-weight="normal">18:1;0</text>
<line x1="336.52" y1="250.8" x2="336.52" y2="253.2" stroke="#333" stroke-width="0.7"/>
<text x="336.52" y="260.8" font-size="6.6" text-anchor="middle" fill="#666666" font-weight="normal">18:2;0</text>
<rect x="376.6" y="212.8" width="123.7" height="38" fill="#fff" stroke="none" stroke-width="1"/>
<line x1="376.6" y1="245.2" x2="500.3" y2="245.2" stroke="#f2f2f2" stroke-width="0.5"/>
<line x1="376.6" y1="236" x2="500.3" y2="236" stroke="#f2f2f2" stroke-width="0.5"/>
<line x1="376.6" y1="226.8" x2="500.3" y2="226.8" stroke="#f2f2f2" stroke-width="0.5"/>
<line x1="376.6" y1="217.6" x2="500.3" y2="217.6" stroke="#f2f2f2" stroke-width="0.5"/>
<line x1="376.6" y1="249.8" x2="500.3" y2="249.8" stroke="#e3e3e3" stroke-width="0.6"/>
<line x1="376.6" y1="240.6" x2="500.3" y2="240.6" stroke="#e3e3e3" stroke-width="0.6"/>
<line x1="376.6" y1="231.3" x2="500.3" y2="231.3" stroke="#e3e3e3" stroke-width="0.6"/>
<line x1="376.6" y1="222.1" x2="500.3" y2="222.1" stroke="#e3e3e3" stroke-width="0.6"/>
<line x1="376.6" y1="212.9" x2="500.3" y2="212.9" stroke="#e3e3e3" stroke-width="0.6"/>
<line x1="390.87" y1="212.8" x2="390.87" y2="250.8" stroke="#e3e3e3" stroke-width="0.6"/>
<line x1="414.66" y1="212.8" x2="414.66" y2="250.8" stroke="#e3e3e3" stroke-width="0.6"/>
<line x1="438.45" y1="212.8" x2="438.45" y2="250.8" stroke="#e3e3e3" stroke-width="0.6"/>
<line x1="462.24" y1="212.8" x2="462.24" y2="250.8" stroke="#e3e3e3" stroke-width="0.6"/>
<line x1="486.03" y1="212.8" x2="486.03" y2="250.8" stroke="#e3e3e3" stroke-width="0.6"/>
<rect x="380.17" y="246.6" width="10.7" height="3.2" fill="#000" stroke="#000" stroke-width="0.75"/>
<rect x="390.87" y="244.6" width="10.7" height="5.2" fill="#56c8f5" stroke="#111" stroke-width="0.75"/>
<path d="M385.27 242.6V241.2H396.47V242.6" fill="none" stroke="#222" stroke-width="0.75"/>
<text x="390.87" y="240.4" font-size="6.4" text-anchor="middle" fill="#111" font-weight="normal">**</text>
<line x1="420.01" y1="224.3" x2="420.01" y2="227.4" stroke="#3fb8ee" stroke-width="0.7"/>
<line x1="417.61" y1="224.3" x2="422.41" y2="224.3" stroke="#3fb8ee" stroke-width="0.7"/>
<rect x="403.96" y="243.4" width="10.7" height="6.4" fill="#000" stroke="#000" stroke-width="0.75"/>
<rect x="414.66" y="227.4" width="10.7" height="22.4" fill="#56c8f5" stroke="#111" stroke-width="0.75"/>
<path d="M409.06 222V220.6H420.26V222" fill="none" stroke="#222" stroke-width="0.75"/>
<text x="414.66" y="219.8" font-size="6.4" text-anchor="middle" fill="#111" font-weight="normal">*</text>
<rect x="427.75" y="249.1" width="10.7" height="0.7" fill="#000" stroke="#000" stroke-width="0.75"/>
<rect x="438.45" y="249.1" width="10.7" height="0.7" fill="#56c8f5" stroke="#111" stroke-width="0.75"/>
<path d="M432.85 246.2V244.8H444.05V246.2" fill="none" stroke="#222" stroke-width="0.75"/>
<text x="438.45" y="244" font-size="6.4" text-anchor="middle" fill="#111" font-weight="normal">**</text>
<rect x="451.53" y="248" width="10.7" height="1.8" fill="#000" stroke="#000" stroke-width="0.75"/>
<rect x="462.24" y="246.3" width="10.7" height="3.5" fill="#56c8f5" stroke="#111" stroke-width="0.75"/>
<rect x="475.32" y="248.4" width="10.7" height="1.4" fill="#000" stroke="#000" stroke-width="0.75"/>
<rect x="486.03" y="248.4" width="10.7" height="1.4" fill="#56c8f5" stroke="#111" stroke-width="0.75"/>
<rect x="376.6" y="212.8" width="123.7" height="38" fill="none" stroke="#333" stroke-width="0.8"/>
<line x1="373.7" y1="249.8" x2="376.6" y2="249.8" stroke="#333" stroke-width="0.75"/>
<text x="372.1" y="252.2" font-size="7" text-anchor="end" fill="#666666" font-weight="normal">0</text>
<line x1="373.7" y1="240.6" x2="376.6" y2="240.6" stroke="#333" stroke-width="0.75"/>
<text x="372.1" y="243" font-size="7" text-anchor="end" fill="#666666" font-weight="normal">10</text>
<line x1="373.7" y1="231.3" x2="376.6" y2="231.3" stroke="#333" stroke-width="0.75"/>
<text x="372.1" y="233.7" font-size="7" text-anchor="end" fill="#666666" font-weight="normal">20</text>
<line x1="373.7" y1="222.1" x2="376.6" y2="222.1" stroke="#333" stroke-width="0.75"/>
<text x="372.1" y="224.5" font-size="7" text-anchor="end" fill="#666666" font-weight="normal">30</text>
<line x1="373.7" y1="212.9" x2="376.6" y2="212.9" stroke="#333" stroke-width="0.75"/>
<text x="372.1" y="215.3" font-size="7" text-anchor="end" fill="#666666" font-weight="normal">40</text>
<line x1="390.87" y1="250.8" x2="390.87" y2="253.2" stroke="#333" stroke-width="0.7"/>
<text x="390.87" y="260.8" font-size="6.6" text-anchor="middle" fill="#666666" font-weight="normal">20:3;0</text>
<line x1="414.66" y1="250.8" x2="414.66" y2="253.2" stroke="#333" stroke-width="0.7"/>
<text x="414.66" y="260.8" font-size="6.6" text-anchor="middle" fill="#666666" font-weight="normal">20:4;0</text>
<line x1="438.45" y1="250.8" x2="438.45" y2="253.2" stroke="#333" stroke-width="0.7"/>
<text x="438.45" y="260.8" font-size="6.6" text-anchor="middle" fill="#666666" font-weight="normal">20:5;0</text>
<line x1="462.24" y1="250.8" x2="462.24" y2="253.2" stroke="#333" stroke-width="0.7"/>
<text x="462.24" y="260.8" font-size="6.6" text-anchor="middle" fill="#666666" font-weight="normal">22:5;0</text>
<line x1="486.03" y1="250.8" x2="486.03" y2="253.2" stroke="#333" stroke-width="0.7"/>
<text x="486.03" y="260.8" font-size="6.6" text-anchor="middle" fill="#666666" font-weight="normal">22:6;0</text>
<rect x="500.3" y="212.8" width="16.5" height="38" fill="#d4dcd9" stroke="#555" stroke-width="0.7"/>
<text x="508" y="231.8" font-size="8.5" text-anchor="middle" fill="#1a1a1a" font-weight="normal" transform="rotate(90 508 231.8)" dy="0.35em">PI</text>
<text transform="translate(200.2 144.5) rotate(-90)" font-size="10.4" text-anchor="middle" fill="#000">mol %</text>
<text x="527" y="13.9" font-size="12" text-anchor="start" fill="#000" font-weight="bold">C</text>
<text x="551.9" y="13.9" font-size="12" word-spacing="0.7" fill="#000">FA &gt; C18</text>
<rect x="552.3" y="21.6" width="95.2" height="35.4" fill="#fff" stroke="none" stroke-width="1"/>
<line x1="556.6" y1="21.6" x2="556.6" y2="57" stroke="#e2e2e2" stroke-width="0.5"/>
<line x1="563.79" y1="21.6" x2="563.79" y2="57" stroke="#efefef" stroke-width="0.5"/>
<line x1="570.98" y1="21.6" x2="570.98" y2="57" stroke="#e2e2e2" stroke-width="0.5"/>
<line x1="578.17" y1="21.6" x2="578.17" y2="57" stroke="#efefef" stroke-width="0.5"/>
<line x1="585.36" y1="21.6" x2="585.36" y2="57" stroke="#e2e2e2" stroke-width="0.5"/>
<line x1="592.55" y1="21.6" x2="592.55" y2="57" stroke="#efefef" stroke-width="0.5"/>
<line x1="599.74" y1="21.6" x2="599.74" y2="57" stroke="#e2e2e2" stroke-width="0.5"/>
<line x1="606.93" y1="21.6" x2="606.93" y2="57" stroke="#efefef" stroke-width="0.5"/>
<line x1="614.12" y1="21.6" x2="614.12" y2="57" stroke="#e2e2e2" stroke-width="0.5"/>
<line x1="621.31" y1="21.6" x2="621.31" y2="57" stroke="#efefef" stroke-width="0.5"/>
<line x1="628.5" y1="21.6" x2="628.5" y2="57" stroke="#e2e2e2" stroke-width="0.5"/>
<line x1="635.69" y1="21.6" x2="635.69" y2="57" stroke="#efefef" stroke-width="0.5"/>
<line x1="642.88" y1="21.6" x2="642.88" y2="57" stroke="#e2e2e2" stroke-width="0.5"/>
<line x1="552.3" y1="55.53" x2="647.5" y2="55.53" stroke="#e2e2e2" stroke-width="0.5"/>
<line x1="552.3" y1="45.55" x2="647.5" y2="45.55" stroke="#e2e2e2" stroke-width="0.5"/>
<line x1="552.3" y1="38" x2="647.5" y2="38" stroke="#e2e2e2" stroke-width="0.5"/>
<line x1="552.3" y1="30.45" x2="647.5" y2="30.45" stroke="#e2e2e2" stroke-width="0.5"/>
<line x1="552.3" y1="22.9" x2="647.5" y2="22.9" stroke="#e2e2e2" stroke-width="0.5"/>
<line x1="552.3" y1="50.54" x2="647.5" y2="50.54" stroke="#efefef" stroke-width="0.5"/>
<line x1="552.3" y1="41.78" x2="647.5" y2="41.78" stroke="#efefef" stroke-width="0.5"/>
<line x1="552.3" y1="34.23" x2="647.5" y2="34.23" stroke="#efefef" stroke-width="0.5"/>
<line x1="552.3" y1="26.68" x2="647.5" y2="26.68" stroke="#efefef" stroke-width="0.5"/>
<line x1="552.3" y1="38" x2="647.5" y2="38" stroke="#8a8a8a" stroke-width="1.1" stroke-dasharray="4.2 3"/>
<circle cx="556.6" cy="43.5" r="2.25" fill="#e8901a"/>
<circle cx="570.98" cy="39" r="2.25" fill="#1c1ca3"/>
<circle cx="585.36" cy="39" r="2.25" fill="#1c1ca3"/>
<circle cx="599.74" cy="27.7" r="2.25" fill="#1c1ca3"/>
<path d="M556.6 43.5 L570.98 39 L585.36 39 L599.74 27.7" fill="none" stroke="#111" stroke-width="1.1"/>
<rect x="552.3" y="21.6" width="95.2" height="35.4" fill="none" stroke="#333" stroke-width="0.8"/>
<line x1="549.9" y1="22.9" x2="552.3" y2="22.9" stroke="#333" stroke-width="0.7"/>
<text x="547.7" y="25.1" font-size="6.4" text-anchor="end" fill="#666666" font-weight="normal">4.0</text>
<line x1="549.9" y1="30.45" x2="552.3" y2="30.45" stroke="#333" stroke-width="0.7"/>
<text x="547.7" y="32.65" font-size="6.4" text-anchor="end" fill="#666666" font-weight="normal">2.0</text>
<line x1="549.9" y1="38" x2="552.3" y2="38" stroke="#333" stroke-width="0.7"/>
<text x="547.7" y="40.2" font-size="6.4" text-anchor="end" fill="#666666" font-weight="normal">1.0</text>
<line x1="549.9" y1="45.55" x2="552.3" y2="45.55" stroke="#333" stroke-width="0.7"/>
<text x="547.7" y="47.75" font-size="6.4" text-anchor="end" fill="#666666" font-weight="normal">0.5</text>
<line x1="549.9" y1="55.53" x2="552.3" y2="55.53" stroke="#333" stroke-width="0.7"/>
<text x="547.7" y="57.73" font-size="6.4" text-anchor="end" fill="#666666" font-weight="normal">0.2</text>
<rect x="647.5" y="21.6" width="15.9" height="35.4" fill="#d4dcd9" stroke="#555" stroke-width="0.7"/>
<text x="655.4" y="39.3" font-size="8.5" text-anchor="middle" fill="#1a1a1a" font-weight="normal" transform="rotate(90 655.4 39.3)" dy="0.35em">19</text>
<rect x="552.3" y="63" width="95.2" height="35.4" fill="#fff" stroke="none" stroke-width="1"/>
<line x1="556.6" y1="63" x2="556.6" y2="98.4" stroke="#e2e2e2" stroke-width="0.5"/>
<line x1="563.79" y1="63" x2="563.79" y2="98.4" stroke="#efefef" stroke-width="0.5"/>
<line x1="570.98" y1="63" x2="570.98" y2="98.4" stroke="#e2e2e2" stroke-width="0.5"/>
<line x1="578.17" y1="63" x2="578.17" y2="98.4" stroke="#efefef" stroke-width="0.5"/>
<line x1="585.36" y1="63" x2="585.36" y2="98.4" stroke="#e2e2e2" stroke-width="0.5"/>
<line x1="592.55" y1="63" x2="592.55" y2="98.4" stroke="#efefef" stroke-width="0.5"/>
<line x1="599.74" y1="63" x2="599.74" y2="98.4" stroke="#e2e2e2" stroke-width="0.5"/>
<line x1="606.93" y1="63" x2="606.93" y2="98.4" stroke="#efefef" stroke-width="0.5"/>
<line x1="614.12" y1="63" x2="614.12" y2="98.4" stroke="#e2e2e2" stroke-width="0.5"/>
<line x1="621.31" y1="63" x2="621.31" y2="98.4" stroke="#efefef" stroke-width="0.5"/>
<line x1="628.5" y1="63" x2="628.5" y2="98.4" stroke="#e2e2e2" stroke-width="0.5"/>
<line x1="635.69" y1="63" x2="635.69" y2="98.4" stroke="#efefef" stroke-width="0.5"/>
<line x1="642.88" y1="63" x2="642.88" y2="98.4" stroke="#e2e2e2" stroke-width="0.5"/>
<line x1="552.3" y1="96.93" x2="647.5" y2="96.93" stroke="#e2e2e2" stroke-width="0.5"/>
<line x1="552.3" y1="86.95" x2="647.5" y2="86.95" stroke="#e2e2e2" stroke-width="0.5"/>
<line x1="552.3" y1="79.4" x2="647.5" y2="79.4" stroke="#e2e2e2" stroke-width="0.5"/>
<line x1="552.3" y1="71.85" x2="647.5" y2="71.85" stroke="#e2e2e2" stroke-width="0.5"/>
<line x1="552.3" y1="64.3" x2="647.5" y2="64.3" stroke="#e2e2e2" stroke-width="0.5"/>
<line x1="552.3" y1="91.94" x2="647.5" y2="91.94" stroke="#efefef" stroke-width="0.5"/>
<line x1="552.3" y1="83.18" x2="647.5" y2="83.18" stroke="#efefef" stroke-width="0.5"/>
<line x1="552.3" y1="75.63" x2="647.5" y2="75.63" stroke="#efefef" stroke-width="0.5"/>
<line x1="552.3" y1="68.08" x2="647.5" y2="68.08" stroke="#efefef" stroke-width="0.5"/>
<line x1="552.3" y1="79.4" x2="647.5" y2="79.4" stroke="#8a8a8a" stroke-width="1.1" stroke-dasharray="4.2 3"/>
<circle cx="556.6" cy="92.2" r="2.25" fill="#e8901a"/>
<circle cx="570.98" cy="87.3" r="2.25" fill="#e8901a"/>
<circle cx="585.36" cy="77.6" r="2.25" fill="#1c1ca3"/>
<circle cx="599.74" cy="70.1" r="2.25" fill="#e8901a"/>
<circle cx="614.12" cy="64.5" r="2.25" fill="#d8261c"/>
<circle cx="628.5" cy="66.7" r="2.25" fill="#d8261c"/>
<path d="M556.6 92.2 L570.98 87.3 L585.36 77.6 L599.74 70.1 L614.12 64.5 L628.5 66.7" fill="none" stroke="#111" stroke-width="1.1"/>
<rect x="552.3" y="63" width="95.2" height="35.4" fill="none" stroke="#333" stroke-width="0.8"/>
<line x1="549.9" y1="64.3" x2="552.3" y2="64.3" stroke="#333" stroke-width="0.7"/>
<text x="547.7" y="66.5" font-size="6.4" text-anchor="end" fill="#666666" font-weight="normal">4.0</text>
<line x1="549.9" y1="71.85" x2="552.3" y2="71.85" stroke="#333" stroke-width="0.7"/>
<text x="547.7" y="74.05" font-size="6.4" text-anchor="end" fill="#666666" font-weight="normal">2.0</text>
<line x1="549.9" y1="79.4" x2="552.3" y2="79.4" stroke="#333" stroke-width="0.7"/>
<text x="547.7" y="81.6" font-size="6.4" text-anchor="end" fill="#666666" font-weight="normal">1.0</text>
<line x1="549.9" y1="86.95" x2="552.3" y2="86.95" stroke="#333" stroke-width="0.7"/>
<text x="547.7" y="89.15" font-size="6.4" text-anchor="end" fill="#666666" font-weight="normal">0.5</text>
<line x1="549.9" y1="96.93" x2="552.3" y2="96.93" stroke="#333" stroke-width="0.7"/>
<text x="547.7" y="99.13" font-size="6.4" text-anchor="end" fill="#666666" font-weight="normal">0.2</text>
<rect x="647.5" y="63" width="15.9" height="35.4" fill="#d4dcd9" stroke="#555" stroke-width="0.7"/>
<text x="655.4" y="80.7" font-size="8.5" text-anchor="middle" fill="#1a1a1a" font-weight="normal" transform="rotate(90 655.4 80.7)" dy="0.35em">20</text>
<rect x="552.3" y="104.3" width="95.2" height="35.4" fill="#fff" stroke="none" stroke-width="1"/>
<line x1="556.6" y1="104.3" x2="556.6" y2="139.7" stroke="#e2e2e2" stroke-width="0.5"/>
<line x1="563.79" y1="104.3" x2="563.79" y2="139.7" stroke="#efefef" stroke-width="0.5"/>
<line x1="570.98" y1="104.3" x2="570.98" y2="139.7" stroke="#e2e2e2" stroke-width="0.5"/>
<line x1="578.17" y1="104.3" x2="578.17" y2="139.7" stroke="#efefef" stroke-width="0.5"/>
<line x1="585.36" y1="104.3" x2="585.36" y2="139.7" stroke="#e2e2e2" stroke-width="0.5"/>
<line x1="592.55" y1="104.3" x2="592.55" y2="139.7" stroke="#efefef" stroke-width="0.5"/>
<line x1="599.74" y1="104.3" x2="599.74" y2="139.7" stroke="#e2e2e2" stroke-width="0.5"/>
<line x1="606.93" y1="104.3" x2="606.93" y2="139.7" stroke="#efefef" stroke-width="0.5"/>
<line x1="614.12" y1="104.3" x2="614.12" y2="139.7" stroke="#e2e2e2" stroke-width="0.5"/>
<line x1="621.31" y1="104.3" x2="621.31" y2="139.7" stroke="#efefef" stroke-width="0.5"/>
<line x1="628.5" y1="104.3" x2="628.5" y2="139.7" stroke="#e2e2e2" stroke-width="0.5"/>
<line x1="635.69" y1="104.3" x2="635.69" y2="139.7" stroke="#efefef" stroke-width="0.5"/>
<line x1="642.88" y1="104.3" x2="642.88" y2="139.7" stroke="#e2e2e2" stroke-width="0.5"/>
<line x1="552.3" y1="138.23" x2="647.5" y2="138.23" stroke="#e2e2e2" stroke-width="0.5"/>
<line x1="552.3" y1="128.25" x2="647.5" y2="128.25" stroke="#e2e2e2" stroke-width="0.5"/>
<line x1="552.3" y1="120.7" x2="647.5" y2="120.7" stroke="#e2e2e2" stroke-width="0.5"/>
<line x1="552.3" y1="113.15" x2="647.5" y2="113.15" stroke="#e2e2e2" stroke-width="0.5"/>
<line x1="552.3" y1="105.6" x2="647.5" y2="105.6" stroke="#e2e2e2" stroke-width="0.5"/>
<line x1="552.3" y1="133.24" x2="647.5" y2="133.24" stroke="#efefef" stroke-width="0.5"/>
<line x1="552.3" y1="124.48" x2="647.5" y2="124.48" stroke="#efefef" stroke-width="0.5"/>
<line x1="552.3" y1="116.93" x2="647.5" y2="116.93" stroke="#efefef" stroke-width="0.5"/>
<line x1="552.3" y1="109.38" x2="647.5" y2="109.38" stroke="#efefef" stroke-width="0.5"/>
<line x1="552.3" y1="120.7" x2="647.5" y2="120.7" stroke="#8a8a8a" stroke-width="1.1" stroke-dasharray="4.2 3"/>
<circle cx="570.98" cy="120.5" r="2.25" fill="#1c1ca3"/>
<circle cx="599.74" cy="106.4" r="2.25" fill="#e8901a"/>
<path d="M570.98 120.5 L599.74 106.4" fill="none" stroke="#111" stroke-width="1.1"/>
<rect x="552.3" y="104.3" width="95.2" height="35.4" fill="none" stroke="#333" stroke-width="0.8"/>
<line x1="549.9" y1="105.6" x2="552.3" y2="105.6" stroke="#333" stroke-width="0.7"/>
<text x="547.7" y="107.8" font-size="6.4" text-anchor="end" fill="#666666" font-weight="normal">4.0</text>
<line x1="549.9" y1="113.15" x2="552.3" y2="113.15" stroke="#333" stroke-width="0.7"/>
<text x="547.7" y="115.35" font-size="6.4" text-anchor="end" fill="#666666" font-weight="normal">2.0</text>
<line x1="549.9" y1="120.7" x2="552.3" y2="120.7" stroke="#333" stroke-width="0.7"/>
<text x="547.7" y="122.9" font-size="6.4" text-anchor="end" fill="#666666" font-weight="normal">1.0</text>
<line x1="549.9" y1="128.25" x2="552.3" y2="128.25" stroke="#333" stroke-width="0.7"/>
<text x="547.7" y="130.45" font-size="6.4" text-anchor="end" fill="#666666" font-weight="normal">0.5</text>
<line x1="549.9" y1="138.23" x2="552.3" y2="138.23" stroke="#333" stroke-width="0.7"/>
<text x="547.7" y="140.43" font-size="6.4" text-anchor="end" fill="#666666" font-weight="normal">0.2</text>
<rect x="647.5" y="104.3" width="15.9" height="35.4" fill="#d4dcd9" stroke="#555" stroke-width="0.7"/>
<text x="655.4" y="122" font-size="8.5" text-anchor="middle" fill="#1a1a1a" font-weight="normal" transform="rotate(90 655.4 122)" dy="0.35em">21</text>
<rect x="552.3" y="145.8" width="95.2" height="35.4" fill="#fff" stroke="none" stroke-width="1"/>
<line x1="556.6" y1="145.8" x2="556.6" y2="181.2" stroke="#e2e2e2" stroke-width="0.5"/>
<line x1="563.79" y1="145.8" x2="563.79" y2="181.2" stroke="#efefef" stroke-width="0.5"/>
<line x1="570.98" y1="145.8" x2="570.98" y2="181.2" stroke="#e2e2e2" stroke-width="0.5"/>
<line x1="578.17" y1="145.8" x2="578.17" y2="181.2" stroke="#efefef" stroke-width="0.5"/>
<line x1="585.36" y1="145.8" x2="585.36" y2="181.2" stroke="#e2e2e2" stroke-width="0.5"/>
<line x1="592.55" y1="145.8" x2="592.55" y2="181.2" stroke="#efefef" stroke-width="0.5"/>
<line x1="599.74" y1="145.8" x2="599.74" y2="181.2" stroke="#e2e2e2" stroke-width="0.5"/>
<line x1="606.93" y1="145.8" x2="606.93" y2="181.2" stroke="#efefef" stroke-width="0.5"/>
<line x1="614.12" y1="145.8" x2="614.12" y2="181.2" stroke="#e2e2e2" stroke-width="0.5"/>
<line x1="621.31" y1="145.8" x2="621.31" y2="181.2" stroke="#efefef" stroke-width="0.5"/>
<line x1="628.5" y1="145.8" x2="628.5" y2="181.2" stroke="#e2e2e2" stroke-width="0.5"/>
<line x1="635.69" y1="145.8" x2="635.69" y2="181.2" stroke="#efefef" stroke-width="0.5"/>
<line x1="642.88" y1="145.8" x2="642.88" y2="181.2" stroke="#e2e2e2" stroke-width="0.5"/>
<line x1="552.3" y1="179.73" x2="647.5" y2="179.73" stroke="#e2e2e2" stroke-width="0.5"/>
<line x1="552.3" y1="169.75" x2="647.5" y2="169.75" stroke="#e2e2e2" stroke-width="0.5"/>
<line x1="552.3" y1="162.2" x2="647.5" y2="162.2" stroke="#e2e2e2" stroke-width="0.5"/>
<line x1="552.3" y1="154.65" x2="647.5" y2="154.65" stroke="#e2e2e2" stroke-width="0.5"/>
<line x1="552.3" y1="147.1" x2="647.5" y2="147.1" stroke="#e2e2e2" stroke-width="0.5"/>
<line x1="552.3" y1="174.74" x2="647.5" y2="174.74" stroke="#efefef" stroke-width="0.5"/>
<line x1="552.3" y1="165.98" x2="647.5" y2="165.98" stroke="#efefef" stroke-width="0.5"/>
<line x1="552.3" y1="158.43" x2="647.5" y2="158.43" stroke="#efefef" stroke-width="0.5"/>
<line x1="552.3" y1="150.88" x2="647.5" y2="150.88" stroke="#efefef" stroke-width="0.5"/>
<line x1="552.3" y1="162.2" x2="647.5" y2="162.2" stroke="#8a8a8a" stroke-width="1.1" stroke-dasharray="4.2 3"/>
<circle cx="556.6" cy="173.3" r="2.25" fill="#e8901a"/>
<circle cx="570.98" cy="167.5" r="2.25" fill="#e8901a"/>
<circle cx="585.36" cy="170.1" r="2.25" fill="#e8901a"/>
<circle cx="599.74" cy="150.6" r="2.25" fill="#1c1ca3"/>
<circle cx="614.12" cy="151.7" r="2.25" fill="#e8901a"/>
<circle cx="628.5" cy="156.8" r="2.25" fill="#d8261c"/>
<circle cx="642.88" cy="151.7" r="2.25" fill="#d8261c"/>
<path d="M556.6 173.3 L570.98 167.5 L585.36 170.1 L599.74 150.6 L614.12 151.7 L628.5 156.8 L642.88 151.7" fill="none" stroke="#111" stroke-width="1.1"/>
<rect x="552.3" y="145.8" width="95.2" height="35.4" fill="none" stroke="#333" stroke-width="0.8"/>
<line x1="549.9" y1="147.1" x2="552.3" y2="147.1" stroke="#333" stroke-width="0.7"/>
<text x="547.7" y="149.3" font-size="6.4" text-anchor="end" fill="#666666" font-weight="normal">4.0</text>
<line x1="549.9" y1="154.65" x2="552.3" y2="154.65" stroke="#333" stroke-width="0.7"/>
<text x="547.7" y="156.85" font-size="6.4" text-anchor="end" fill="#666666" font-weight="normal">2.0</text>
<line x1="549.9" y1="162.2" x2="552.3" y2="162.2" stroke="#333" stroke-width="0.7"/>
<text x="547.7" y="164.4" font-size="6.4" text-anchor="end" fill="#666666" font-weight="normal">1.0</text>
<line x1="549.9" y1="169.75" x2="552.3" y2="169.75" stroke="#333" stroke-width="0.7"/>
<text x="547.7" y="171.95" font-size="6.4" text-anchor="end" fill="#666666" font-weight="normal">0.5</text>
<line x1="549.9" y1="179.73" x2="552.3" y2="179.73" stroke="#333" stroke-width="0.7"/>
<text x="547.7" y="181.93" font-size="6.4" text-anchor="end" fill="#666666" font-weight="normal">0.2</text>
<rect x="647.5" y="145.8" width="15.9" height="35.4" fill="#d4dcd9" stroke="#555" stroke-width="0.7"/>
<text x="655.4" y="163.5" font-size="8.5" text-anchor="middle" fill="#1a1a1a" font-weight="normal" transform="rotate(90 655.4 163.5)" dy="0.35em">22</text>
<rect x="552.3" y="187.4" width="95.2" height="35.4" fill="#fff" stroke="none" stroke-width="1"/>
<line x1="556.6" y1="187.4" x2="556.6" y2="222.8" stroke="#e2e2e2" stroke-width="0.5"/>
<line x1="563.79" y1="187.4" x2="563.79" y2="222.8" stroke="#efefef" stroke-width="0.5"/>
<line x1="570.98" y1="187.4" x2="570.98" y2="222.8" stroke="#e2e2e2" stroke-width="0.5"/>
<line x1="578.17" y1="187.4" x2="578.17" y2="222.8" stroke="#efefef" stroke-width="0.5"/>
<line x1="585.36" y1="187.4" x2="585.36" y2="222.8" stroke="#e2e2e2" stroke-width="0.5"/>
<line x1="592.55" y1="187.4" x2="592.55" y2="222.8" stroke="#efefef" stroke-width="0.5"/>
<line x1="599.74" y1="187.4" x2="599.74" y2="222.8" stroke="#e2e2e2" stroke-width="0.5"/>
<line x1="606.93" y1="187.4" x2="606.93" y2="222.8" stroke="#efefef" stroke-width="0.5"/>
<line x1="614.12" y1="187.4" x2="614.12" y2="222.8" stroke="#e2e2e2" stroke-width="0.5"/>
<line x1="621.31" y1="187.4" x2="621.31" y2="222.8" stroke="#efefef" stroke-width="0.5"/>
<line x1="628.5" y1="187.4" x2="628.5" y2="222.8" stroke="#e2e2e2" stroke-width="0.5"/>
<line x1="635.69" y1="187.4" x2="635.69" y2="222.8" stroke="#efefef" stroke-width="0.5"/>
<line x1="642.88" y1="187.4" x2="642.88" y2="222.8" stroke="#e2e2e2" stroke-width="0.5"/>
<line x1="552.3" y1="221.33" x2="647.5" y2="221.33" stroke="#e2e2e2" stroke-width="0.5"/>
<line x1="552.3" y1="211.35" x2="647.5" y2="211.35" stroke="#e2e2e2" stroke-width="0.5"/>
<line x1="552.3" y1="203.8" x2="647.5" y2="203.8" stroke="#e2e2e2" stroke-width="0.5"/>
<line x1="552.3" y1="196.25" x2="647.5" y2="196.25" stroke="#e2e2e2" stroke-width="0.5"/>
<line x1="552.3" y1="188.7" x2="647.5" y2="188.7" stroke="#e2e2e2" stroke-width="0.5"/>
<line x1="552.3" y1="216.34" x2="647.5" y2="216.34" stroke="#efefef" stroke-width="0.5"/>
<line x1="552.3" y1="207.58" x2="647.5" y2="207.58" stroke="#efefef" stroke-width="0.5"/>
<line x1="552.3" y1="200.03" x2="647.5" y2="200.03" stroke="#efefef" stroke-width="0.5"/>
<line x1="552.3" y1="192.48" x2="647.5" y2="192.48" stroke="#efefef" stroke-width="0.5"/>
<line x1="552.3" y1="203.8" x2="647.5" y2="203.8" stroke="#8a8a8a" stroke-width="1.1" stroke-dasharray="4.2 3"/>
<circle cx="556.6" cy="221.6" r="2.25" fill="#d8261c"/>
<circle cx="570.98" cy="203.8" r="2.25" fill="#1c1ca3"/>
<circle cx="585.36" cy="210.3" r="2.25" fill="#e8901a"/>
<circle cx="599.74" cy="214.7" r="2.25" fill="#e8901a"/>
<circle cx="614.12" cy="203.4" r="2.25" fill="#1c1ca3"/>
<circle cx="628.5" cy="203.2" r="2.25" fill="#1c1ca3"/>
<path d="M556.6 221.6 L570.98 203.8 L585.36 210.3 L599.74 214.7 L614.12 203.4 L628.5 203.2" fill="none" stroke="#111" stroke-width="1.1"/>
<rect x="552.3" y="187.4" width="95.2" height="35.4" fill="none" stroke="#333" stroke-width="0.8"/>
<line x1="549.9" y1="188.7" x2="552.3" y2="188.7" stroke="#333" stroke-width="0.7"/>
<text x="547.7" y="190.9" font-size="6.4" text-anchor="end" fill="#666666" font-weight="normal">4.0</text>
<line x1="549.9" y1="196.25" x2="552.3" y2="196.25" stroke="#333" stroke-width="0.7"/>
<text x="547.7" y="198.45" font-size="6.4" text-anchor="end" fill="#666666" font-weight="normal">2.0</text>
<line x1="549.9" y1="203.8" x2="552.3" y2="203.8" stroke="#333" stroke-width="0.7"/>
<text x="547.7" y="206" font-size="6.4" text-anchor="end" fill="#666666" font-weight="normal">1.0</text>
<line x1="549.9" y1="211.35" x2="552.3" y2="211.35" stroke="#333" stroke-width="0.7"/>
<text x="547.7" y="213.55" font-size="6.4" text-anchor="end" fill="#666666" font-weight="normal">0.5</text>
<line x1="549.9" y1="221.33" x2="552.3" y2="221.33" stroke="#333" stroke-width="0.7"/>
<text x="547.7" y="223.53" font-size="6.4" text-anchor="end" fill="#666666" font-weight="normal">0.2</text>
<rect x="647.5" y="187.4" width="15.9" height="35.4" fill="#d4dcd9" stroke="#555" stroke-width="0.7"/>
<text x="655.4" y="205.1" font-size="8.5" text-anchor="middle" fill="#1a1a1a" font-weight="normal" transform="rotate(90 655.4 205.1)" dy="0.35em">24</text>
<line x1="570.98" y1="222.8" x2="570.98" y2="225.2" stroke="#333" stroke-width="0.7"/>
<text x="570.98" y="234" font-size="7.4" text-anchor="middle" fill="#666666" font-weight="normal">1</text>
<line x1="585.36" y1="222.8" x2="585.36" y2="225.2" stroke="#333" stroke-width="0.7"/>
<text x="585.36" y="234" font-size="7.4" text-anchor="middle" fill="#666666" font-weight="normal">2</text>
<line x1="599.74" y1="222.8" x2="599.74" y2="225.2" stroke="#333" stroke-width="0.7"/>
<text x="599.74" y="234" font-size="7.4" text-anchor="middle" fill="#666666" font-weight="normal">3</text>
<line x1="614.12" y1="222.8" x2="614.12" y2="225.2" stroke="#333" stroke-width="0.7"/>
<text x="614.12" y="234" font-size="7.4" text-anchor="middle" fill="#666666" font-weight="normal">4</text>
<line x1="628.5" y1="222.8" x2="628.5" y2="225.2" stroke="#333" stroke-width="0.7"/>
<text x="628.5" y="234" font-size="7.4" text-anchor="middle" fill="#666666" font-weight="normal">5</text>
<line x1="642.88" y1="222.8" x2="642.88" y2="225.2" stroke="#333" stroke-width="0.7"/>
<text x="642.88" y="234" font-size="7.4" text-anchor="middle" fill="#666666" font-weight="normal">6</text>
<text x="600.1" y="245.7" font-size="9.9" text-anchor="middle" fill="#111" font-weight="normal">DB</text>
<text transform="translate(533.4 122.2) rotate(-90)" font-size="10" text-anchor="middle" fill="#000">ACOT7/AAVS1 [mol%]</text>
<circle cx="566" cy="256.3" r="2.2" fill="#1c1ca3"/>
<text x="576.6" y="259.4" font-size="8" text-anchor="start" fill="#111" font-weight="normal">N.S.</text>
<circle cx="603.2" cy="256.3" r="2.2" fill="#e8901a"/>
<text x="613.6" y="259.4" font-size="8" text-anchor="start" fill="#111" font-weight="normal">*</text>
<circle cx="627.4" cy="256.3" r="2.2" fill="#d8261c"/>
<text x="638.4" y="259.4" font-size="8" text-anchor="start" fill="#111" font-weight="normal">**</text>
</svg>
</body></html>
